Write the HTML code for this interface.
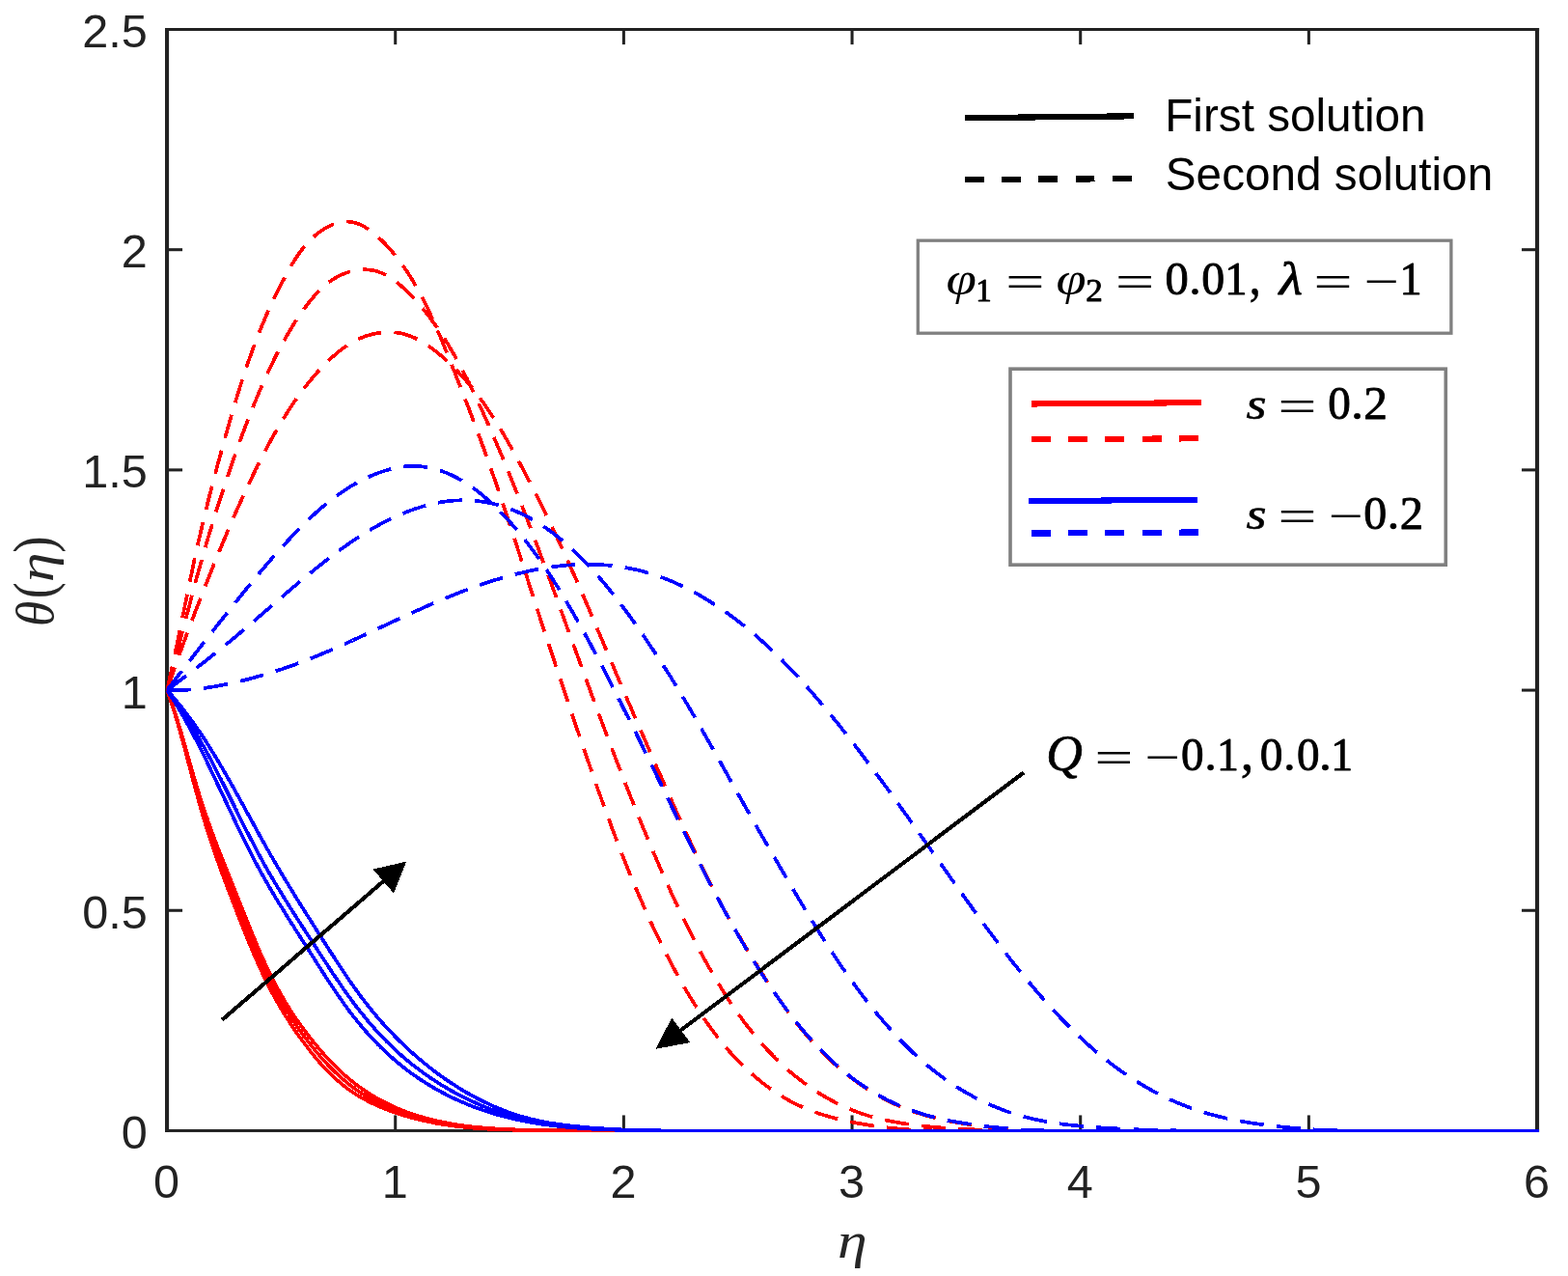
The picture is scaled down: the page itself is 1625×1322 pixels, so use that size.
<!DOCTYPE html>
<html lang="en"><head><meta charset="utf-8"><title>Temperature profiles</title>
<style>
html,body{margin:0;padding:0;background:#ffffff;}
body{width:1625px;height:1322px;overflow:hidden;}
svg{display:block;}
.c path{fill:none;stroke-width:3.7;stroke-linejoin:round;stroke-linecap:butt;}
.m{font-family:"Liberation Serif","DejaVu Serif",serif;}
.i{font-style:italic;}
.s{font-family:"Liberation Sans",sans-serif;}
</style></head><body>
<svg width="1625" height="1322" viewBox="0 0 1625 1322">
<rect x="0" y="0" width="1625" height="1322" fill="#ffffff"/>
<defs><clipPath id="ax"><rect x="172.6" y="30.5" width="1422.5" height="1142.5"/></clipPath></defs>
<g id="axes">
<rect x="171.00" y="29.00" width="4.10" height="1143.95" fill="#222222"/>
<rect x="1590.98" y="29.00" width="4.10" height="1143.95" fill="#222222"/>
<rect x="171.00" y="29.00" width="1424.08" height="3.00" fill="#222222"/>
<rect x="171.00" y="1169.95" width="1424.08" height="3.00" fill="#222222"/>
<rect x="408.19" y="1155.45" width="3.05" height="16.00" fill="#222222"/>
<rect x="408.19" y="30.50" width="3.05" height="15.60" fill="#222222"/>
<rect x="644.85" y="1155.45" width="3.05" height="16.00" fill="#222222"/>
<rect x="644.85" y="30.50" width="3.05" height="15.60" fill="#222222"/>
<rect x="881.52" y="1155.45" width="3.05" height="16.00" fill="#222222"/>
<rect x="881.52" y="30.50" width="3.05" height="15.60" fill="#222222"/>
<rect x="1118.18" y="1155.45" width="3.05" height="16.00" fill="#222222"/>
<rect x="1118.18" y="30.50" width="3.05" height="15.60" fill="#222222"/>
<rect x="1354.84" y="1155.45" width="3.05" height="16.00" fill="#222222"/>
<rect x="1354.84" y="30.50" width="3.05" height="15.60" fill="#222222"/>
<rect x="173.05" y="941.74" width="16.00" height="3.05" fill="#222222"/>
<rect x="1577.03" y="941.74" width="16.00" height="3.05" fill="#222222"/>
<rect x="173.05" y="713.55" width="16.00" height="3.05" fill="#222222"/>
<rect x="1577.03" y="713.55" width="16.00" height="3.05" fill="#222222"/>
<rect x="173.05" y="485.36" width="16.00" height="3.05" fill="#222222"/>
<rect x="1577.03" y="485.36" width="16.00" height="3.05" fill="#222222"/>
<rect x="173.05" y="257.17" width="16.00" height="3.05" fill="#222222"/>
<rect x="1577.03" y="257.17" width="16.00" height="3.05" fill="#222222"/>
</g>
<g font-family="'Liberation Sans', sans-serif" font-size="48.6" fill="#222222">
<text x="172.6" y="1241.3" text-anchor="middle">0</text>
<text x="409.2" y="1241.3" text-anchor="middle">1</text>
<text x="645.9" y="1241.3" text-anchor="middle">2</text>
<text x="882.5" y="1241.3" text-anchor="middle">3</text>
<text x="1119.2" y="1241.3" text-anchor="middle">4</text>
<text x="1355.9" y="1241.3" text-anchor="middle">5</text>
<text x="1592.5" y="1241.3" text-anchor="middle">6</text>
<text x="152.8" y="1189.9" text-anchor="end">0</text>
<text x="152.8" y="961.7" text-anchor="end">0.5</text>
<text x="152.8" y="733.5" text-anchor="end">1</text>
<text x="152.8" y="505.3" text-anchor="end">1.5</text>
<text x="152.8" y="277.1" text-anchor="end">2</text>
<text x="152.8" y="48.9" text-anchor="end">2.5</text>
</g>
<g class="c" clip-path="url(#ax)" shape-rendering="crispEdges">
<path d="M173.1 715.1L173.6 716.5L174.1 717.9L174.6 719.3L175.0 720.8L175.5 722.2L176.0 723.6L176.5 725.0L177.0 726.4L177.4 727.9L177.9 729.3L178.4 730.7L178.8 732.1L179.3 733.6L179.8 735.0L180.2 736.4L180.7 737.9L181.1 739.3L181.5 740.7L182.0 742.2L182.4 743.6L182.8 745.0L183.3 746.5L183.7 747.9L184.1 749.3L184.6 750.8L185.0 752.2L185.4 753.7L185.8 755.1L186.2 756.5L186.6 758.0L187.0 759.4L187.4 760.9L187.8 762.3L188.2 763.8L188.6 765.2L189.0 766.7L189.4 768.1L189.8 769.6L190.2 771.0L190.6 772.5L191.0 773.9L191.4 775.4L191.8 776.8L192.2 778.3L192.6 779.7L192.9 781.2L193.3 782.6L193.7 784.1L194.1 785.5L194.5 787.0L194.9 788.4L195.2 789.9L195.6 791.3L196.0 792.8L196.4 794.2L196.8 795.7L197.2 797.1L197.5 798.6L197.9 800.0L198.3 801.5L198.7 803.0L199.1 804.4L199.4 805.9L199.8 807.3L200.2 808.8L200.6 810.2L201.0 811.7L201.4 813.1L201.7 814.6L202.1 816.0L202.5 817.5L202.9 818.9L203.3 820.4L203.7 821.8L204.1 823.3L204.5 824.7L204.9 826.2L205.3 827.6L205.7 829.0L206.1 830.5L206.5 831.9L206.9 833.4L207.3 834.8L207.7 836.3L208.1 837.7L208.5 839.2L208.9 840.6L209.4 842.0L209.8 843.5L210.2 844.9L210.6 846.3L211.1 847.8L211.5 849.2L211.9 850.7L212.4 852.1L212.8 853.5L213.2 854.9L213.7 856.4L214.1 857.8L214.6 859.2L215.0 860.7L215.5 862.1L216.0 863.5L216.4 864.9L216.9 866.4L217.3 867.8L217.8 869.2L218.3 870.6L218.7 872.1L219.2 873.5L219.7 874.9L220.2 876.3L220.7 877.7L221.1 879.2L221.6 880.6L222.1 882.0L222.6 883.4L223.1 884.8L223.6 886.2L224.1 887.6L224.6 889.1L225.1 890.5L225.6 891.9L226.1 893.3L226.6 894.7L227.1 896.1L227.6 897.5L228.1 898.9L228.6 900.3L229.1 901.7L229.6 903.2L230.1 904.6L230.7 906.0L231.2 907.4L231.7 908.8L232.2 910.2L232.7 911.6L233.3 913.0L233.8 914.4L234.3 915.8L234.8 917.2L235.4 918.6L235.9 920.0L236.4 921.4L237.0 922.8L237.5 924.2L238.0 925.6L238.6 927.0L239.1 928.4L239.6 929.8L240.2 931.2L240.7 932.6L241.3 934.0L241.8 935.4L242.3 936.8L242.9 938.2L243.4 939.6L244.0 941.0L244.5 942.4L245.0 943.8L245.6 945.2L246.1 946.6L246.7 948.0L247.2 949.4L247.8 950.8L248.3 952.2L248.9 953.6L249.4 955.0L250.0 956.4L250.5 957.8L251.1 959.2L251.6 960.6L252.2 962.0L252.7 963.4L253.3 964.8L253.8 966.2L254.4 967.6L255.0 969.0L255.5 970.4L256.1 971.8L256.7 973.2L257.2 974.6L257.8 975.9L258.4 977.3L258.9 978.7L259.5 980.1L260.1 981.5L260.7 982.9L261.3 984.3L261.8 985.6L262.4 987.0L263.0 988.4L263.6 989.8L264.2 991.2L264.8 992.5L265.4 993.9L266.0 995.3L266.6 996.6L267.2 998.0L267.8 999.4L268.5 1000.8L269.1 1002.1L269.7 1003.5L270.3 1004.8L271.0 1006.2L271.6 1007.6L272.2 1008.9L272.9 1010.3L273.5 1011.6L274.2 1013.0L274.8 1014.3L275.5 1015.7L276.2 1017.0L276.8 1018.3L277.5 1019.7L278.2 1021.0L278.9 1022.4L279.5 1023.7L280.2 1025.0L280.9 1026.3L281.6 1027.7L282.3 1029.0L283.0 1030.3L283.7 1031.6L284.5 1032.9L285.2 1034.3L285.9 1035.6L286.6 1036.9L287.4 1038.2L288.1 1039.5L288.9 1040.8L289.6 1042.1L290.4 1043.4L291.1 1044.7L291.9 1045.9L292.7 1047.2L293.4 1048.5L294.2 1049.8L295.0 1051.1L295.8 1052.3L296.6 1053.6L297.4 1054.9L298.2 1056.1L299.0 1057.4L299.8 1058.7L300.6 1059.9L301.5 1061.2L302.3 1062.4L303.1 1063.7L304.0 1064.9L304.8 1066.2L305.6 1067.4L306.5 1068.6L307.3 1069.9L308.2 1071.1L309.1 1072.3L309.9 1073.6L310.8 1074.8L311.7 1076.0L312.6 1077.2L313.5 1078.4L314.4 1079.6L315.3 1080.8L316.2 1082.0L317.1 1083.2L318.0 1084.4L318.9 1085.6L319.8 1086.8L320.8 1088.0L321.7 1089.2L322.6 1090.4L323.6 1091.5L324.5 1092.7L325.5 1093.9L326.4 1095.0L327.4 1096.2L328.4 1097.3L329.4 1098.5L330.3 1099.6L331.3 1100.8L332.3 1101.9L333.3 1103.0L334.3 1104.1L335.4 1105.2L336.4 1106.3L337.4 1107.4L338.4 1108.5L339.5 1109.6L340.5 1110.6L341.6 1111.7L342.7 1112.8L343.7 1113.8L344.8 1114.8L345.9 1115.9L347.0 1116.9L348.1 1117.9L349.2 1118.9L350.3 1119.9L351.5 1120.8L352.6 1121.8L353.7 1122.8L354.9 1123.7L356.1 1124.6L357.2 1125.6L358.4 1126.5L359.6 1127.4L360.8 1128.3L362.0 1129.1L363.2 1130.0L364.4 1130.8L365.7 1131.7L366.9 1132.5L368.2 1133.3L369.4 1134.1L370.7 1134.9L372.0 1135.7L373.3 1136.4L374.6 1137.2L375.9 1137.9L377.2 1138.7L378.5 1139.4L379.8 1140.1L381.2 1140.8L382.5 1141.5L383.8 1142.1L385.2 1142.8L386.5 1143.4L387.9 1144.1L389.3 1144.7L390.6 1145.3L392.0 1145.9L393.4 1146.5L394.8 1147.1L396.2 1147.7L397.6 1148.3L399.0 1148.8L400.4 1149.4L401.8 1149.9L403.2 1150.5L404.6 1151.0L406.0 1151.5L407.5 1152.0L408.9 1152.5L410.3 1153.0L411.7 1153.5L413.2 1154.0L414.6 1154.4L416.0 1154.9L417.5 1155.3L418.9 1155.8L420.3 1156.2L421.8 1156.6L423.2 1157.0L424.7 1157.4L426.1 1157.8L427.6 1158.2L429.0 1158.6L430.5 1159.0L431.9 1159.4L433.4 1159.7L434.8 1160.1L436.3 1160.4L437.7 1160.8L439.2 1161.1L440.7 1161.4L442.1 1161.7L443.6 1162.0L445.1 1162.3L446.5 1162.6L448.0 1162.9L449.5 1163.2L450.9 1163.5L452.4 1163.8L453.9 1164.0L455.3 1164.3L456.8 1164.5L458.3 1164.8L459.8 1165.0L461.3 1165.2L462.7 1165.5L464.2 1165.7L465.7 1165.9L467.2 1166.1L468.7 1166.3L470.1 1166.5L471.6 1166.7L473.1 1166.9L474.6 1167.1L476.1 1167.2L477.6 1167.4L479.1 1167.6L480.6 1167.7L482.0 1167.9L483.5 1168.0L485.0 1168.2L486.5 1168.3L488.0 1168.4L489.5 1168.6L491.0 1168.7L492.5 1168.8L494.0 1168.9L495.5 1169.0L497.0 1169.1L498.5 1169.2L500.0 1169.3L501.5 1169.4L503.0 1169.5L504.5 1169.6L506.0 1169.7L507.5 1169.8L509.0 1169.9L510.5 1169.9L512.0 1170.0L513.5 1170.1L515.0 1170.1L516.5 1170.2L518.0 1170.2L519.5 1170.3L521.0 1170.4L522.5 1170.4L524.0 1170.5L525.5 1170.5L527.0 1170.5L528.5 1170.6L530.0 1170.6L531.5 1170.7L533.0 1170.7L534.5 1170.7L536.0 1170.8L537.5 1170.8L539.0 1170.8L540.5 1170.9L542.0 1170.9L543.5 1170.9L545.0 1171.0L546.5 1171.0L548.0 1171.0L549.5 1171.0L551.0 1171.1L552.5 1171.1L554.0 1171.1L555.5 1171.1L557.0 1171.1L558.5 1171.2L560.0 1171.2L561.5 1171.2L563.0 1171.2L564.5 1171.3L566.0 1171.3L567.5 1171.3L569.0 1171.3L570.5 1171.4L572.0 1171.4L573.5 1171.4L575.0 1171.4L1595.0 1171.5" stroke="#ff0000"/>
<path d="M173.1 715.1L173.6 716.5L174.1 717.9L174.6 719.3L175.1 720.7L175.6 722.1L176.1 723.5L176.6 725.0L177.1 726.4L177.6 727.8L178.0 729.2L178.5 730.6L179.0 732.0L179.5 733.5L179.9 734.9L180.4 736.3L180.8 737.7L181.3 739.2L181.7 740.6L182.2 742.0L182.6 743.5L183.1 744.9L183.5 746.3L184.0 747.8L184.4 749.2L184.8 750.6L185.3 752.1L185.7 753.5L186.1 754.9L186.5 756.4L187.0 757.8L187.4 759.3L187.8 760.7L188.2 762.1L188.6 763.6L189.0 765.0L189.4 766.5L189.9 767.9L190.3 769.4L190.7 770.8L191.1 772.3L191.5 773.7L191.9 775.2L192.3 776.6L192.7 778.1L193.1 779.5L193.5 781.0L193.9 782.4L194.3 783.8L194.7 785.3L195.1 786.7L195.5 788.2L195.9 789.6L196.3 791.1L196.7 792.5L197.1 794.0L197.5 795.4L197.9 796.9L198.3 798.3L198.7 799.8L199.1 801.2L199.5 802.7L199.9 804.1L200.3 805.6L200.7 807.0L201.1 808.5L201.5 809.9L201.9 811.4L202.3 812.8L202.7 814.3L203.1 815.7L203.5 817.1L203.9 818.6L204.3 820.0L204.8 821.5L205.2 822.9L205.6 824.4L206.0 825.8L206.4 827.2L206.9 828.7L207.3 830.1L207.7 831.5L208.2 833.0L208.6 834.4L209.1 835.9L209.5 837.3L209.9 838.7L210.4 840.1L210.8 841.6L211.3 843.0L211.8 844.4L212.2 845.9L212.7 847.3L213.1 848.7L213.6 850.1L214.1 851.5L214.6 853.0L215.0 854.4L215.5 855.8L216.0 857.2L216.5 858.6L216.9 860.1L217.4 861.5L217.9 862.9L218.4 864.3L218.9 865.7L219.4 867.1L219.9 868.6L220.4 870.0L220.9 871.4L221.4 872.8L221.9 874.2L222.4 875.6L222.9 877.0L223.4 878.4L223.9 879.8L224.4 881.2L224.9 882.6L225.5 884.1L226.0 885.5L226.5 886.9L227.0 888.3L227.5 889.7L228.1 891.1L228.6 892.5L229.1 893.9L229.6 895.3L230.2 896.7L230.7 898.1L231.2 899.5L231.8 900.9L232.3 902.3L232.8 903.7L233.4 905.1L233.9 906.5L234.4 907.9L235.0 909.3L235.5 910.7L236.1 912.1L236.6 913.5L237.1 914.9L237.7 916.3L238.2 917.7L238.8 919.1L239.3 920.5L239.9 921.9L240.4 923.3L240.9 924.7L241.5 926.1L242.0 927.5L242.6 928.9L243.1 930.3L243.7 931.7L244.2 933.1L244.8 934.5L245.3 935.9L245.9 937.2L246.4 938.6L247.0 940.0L247.5 941.4L248.1 942.8L248.6 944.2L249.2 945.6L249.8 947.0L250.3 948.4L250.9 949.8L251.4 951.2L252.0 952.6L252.5 954.0L253.1 955.4L253.6 956.8L254.2 958.2L254.7 959.6L255.3 961.0L255.9 962.4L256.4 963.8L257.0 965.2L257.5 966.6L258.1 968.0L258.7 969.4L259.2 970.8L259.8 972.2L260.4 973.5L261.0 974.9L261.5 976.3L262.1 977.7L262.7 979.1L263.3 980.5L263.9 981.9L264.4 983.3L265.0 984.6L265.6 986.0L266.2 987.4L266.8 988.8L267.4 990.1L268.0 991.5L268.6 992.9L269.2 994.3L269.8 995.6L270.5 997.0L271.1 998.4L271.7 999.7L272.3 1001.1L273.0 1002.5L273.6 1003.8L274.2 1005.2L274.9 1006.5L275.5 1007.9L276.2 1009.2L276.8 1010.6L277.5 1011.9L278.1 1013.3L278.8 1014.6L279.5 1016.0L280.1 1017.3L280.8 1018.6L281.5 1020.0L282.2 1021.3L282.9 1022.6L283.6 1023.9L284.3 1025.3L285.0 1026.6L285.7 1027.9L286.4 1029.2L287.2 1030.5L287.9 1031.8L288.6 1033.1L289.4 1034.4L290.1 1035.7L290.9 1037.0L291.6 1038.3L292.4 1039.6L293.2 1040.9L293.9 1042.2L294.7 1043.4L295.5 1044.7L296.3 1046.0L297.1 1047.3L297.9 1048.5L298.7 1049.8L299.5 1051.1L300.3 1052.3L301.1 1053.6L301.9 1054.8L302.7 1056.1L303.6 1057.3L304.4 1058.6L305.3 1059.8L306.1 1061.0L307.0 1062.3L307.8 1063.5L308.7 1064.7L309.5 1066.0L310.4 1067.2L311.3 1068.4L312.2 1069.6L313.0 1070.8L313.9 1072.0L314.8 1073.3L315.7 1074.5L316.6 1075.7L317.6 1076.8L318.5 1078.0L319.4 1079.2L320.3 1080.4L321.2 1081.6L322.2 1082.8L323.1 1084.0L324.1 1085.1L325.0 1086.3L326.0 1087.5L326.9 1088.6L327.9 1089.8L328.9 1090.9L329.8 1092.1L330.8 1093.2L331.8 1094.4L332.8 1095.5L333.8 1096.6L334.8 1097.7L335.8 1098.9L336.8 1100.0L337.8 1101.1L338.9 1102.2L339.9 1103.3L340.9 1104.4L342.0 1105.4L343.0 1106.5L344.1 1107.6L345.1 1108.6L346.2 1109.7L347.3 1110.7L348.4 1111.8L349.5 1112.8L350.6 1113.8L351.7 1114.8L352.8 1115.8L353.9 1116.8L355.0 1117.8L356.2 1118.8L357.3 1119.7L358.4 1120.7L359.6 1121.6L360.8 1122.6L361.9 1123.5L363.1 1124.4L364.3 1125.3L365.5 1126.2L366.7 1127.1L367.9 1128.0L369.1 1128.8L370.4 1129.7L371.6 1130.5L372.8 1131.4L374.1 1132.2L375.3 1133.0L376.6 1133.8L377.9 1134.6L379.2 1135.4L380.4 1136.1L381.7 1136.9L383.0 1137.6L384.3 1138.4L385.7 1139.1L387.0 1139.8L388.3 1140.5L389.6 1141.2L391.0 1141.9L392.3 1142.5L393.7 1143.2L395.0 1143.8L396.4 1144.5L397.7 1145.1L399.1 1145.7L400.5 1146.4L401.8 1147.0L403.2 1147.5L404.6 1148.1L406.0 1148.7L407.4 1149.3L408.8 1149.8L410.2 1150.4L411.6 1150.9L413.0 1151.4L414.4 1151.9L415.8 1152.5L417.3 1153.0L418.7 1153.4L420.1 1153.9L421.5 1154.4L423.0 1154.9L424.4 1155.3L425.8 1155.8L427.3 1156.2L428.7 1156.6L430.1 1157.1L431.6 1157.5L433.0 1157.9L434.5 1158.3L435.9 1158.7L437.4 1159.0L438.8 1159.4L440.3 1159.8L441.7 1160.1L443.2 1160.5L444.6 1160.8L446.1 1161.2L447.6 1161.5L449.0 1161.8L450.5 1162.1L452.0 1162.4L453.4 1162.7L454.9 1163.0L456.4 1163.3L457.9 1163.6L459.3 1163.8L460.8 1164.1L462.3 1164.4L463.8 1164.6L465.2 1164.8L466.7 1165.1L468.2 1165.3L469.7 1165.5L471.2 1165.8L472.6 1166.0L474.1 1166.2L475.6 1166.4L477.1 1166.6L478.6 1166.8L480.1 1166.9L481.6 1167.1L483.1 1167.3L484.6 1167.5L486.0 1167.6L487.5 1167.8L489.0 1167.9L490.5 1168.1L492.0 1168.2L493.5 1168.4L495.0 1168.5L496.5 1168.6L498.0 1168.7L499.5 1168.9L501.0 1169.0L502.5 1169.1L504.0 1169.2L505.5 1169.3L507.0 1169.4L508.5 1169.5L509.9 1169.6L511.4 1169.6L512.9 1169.7L514.4 1169.8L515.9 1169.9L517.4 1170.0L518.9 1170.0L520.4 1170.1L521.9 1170.2L523.4 1170.2L524.9 1170.3L526.4 1170.3L527.9 1170.4L529.4 1170.4L530.9 1170.5L532.4 1170.5L533.9 1170.6L535.4 1170.6L536.9 1170.6L538.4 1170.7L539.9 1170.7L541.4 1170.8L542.9 1170.8L544.4 1170.8L545.9 1170.8L547.4 1170.9L548.9 1170.9L550.4 1170.9L551.9 1170.9L553.4 1171.0L554.9 1171.0L556.4 1171.0L557.9 1171.0L559.4 1171.1L561.0 1171.1L562.5 1171.1L564.0 1171.1L565.5 1171.1L567.0 1171.2L568.5 1171.2L570.0 1171.2L571.5 1171.2L573.0 1171.2L574.5 1171.3L576.0 1171.3L577.4 1171.3L578.9 1171.3L580.4 1171.4L581.9 1171.4L583.4 1171.4L584.9 1171.4L585.0 1171.4L1595.0 1171.5" stroke="#ff0000" stroke-width="5.6"/>
<path d="M173.1 715.1L173.6 716.5L174.1 717.9L174.6 719.3L175.2 720.7L175.7 722.1L176.2 723.5L176.7 724.9L177.2 726.3L177.7 727.7L178.2 729.2L178.7 730.6L179.1 732.0L179.6 733.4L180.1 734.8L180.6 736.3L181.0 737.7L181.5 739.1L182.0 740.5L182.4 742.0L182.9 743.4L183.3 744.8L183.8 746.2L184.2 747.7L184.7 749.1L185.1 750.5L185.6 752.0L186.0 753.4L186.5 754.8L186.9 756.3L187.3 757.7L187.8 759.2L188.2 760.6L188.6 762.0L189.0 763.5L189.5 764.9L189.9 766.4L190.3 767.8L190.7 769.3L191.1 770.7L191.6 772.1L192.0 773.6L192.4 775.0L192.8 776.5L193.2 777.9L193.6 779.4L194.1 780.8L194.5 782.3L194.9 783.7L195.3 785.2L195.7 786.6L196.1 788.0L196.5 789.5L196.9 790.9L197.4 792.4L197.8 793.8L198.2 795.3L198.6 796.7L199.0 798.2L199.4 799.6L199.9 801.1L200.3 802.5L200.7 803.9L201.1 805.4L201.5 806.8L202.0 808.3L202.4 809.7L202.8 811.1L203.2 812.6L203.7 814.0L204.1 815.5L204.5 816.9L205.0 818.3L205.4 819.8L205.9 821.2L206.3 822.6L206.7 824.1L207.2 825.5L207.6 826.9L208.1 828.4L208.6 829.8L209.0 831.2L209.5 832.6L209.9 834.1L210.4 835.5L210.9 836.9L211.4 838.3L211.8 839.8L212.3 841.2L212.8 842.6L213.3 844.0L213.8 845.4L214.3 846.8L214.8 848.2L215.2 849.7L215.7 851.1L216.2 852.5L216.7 853.9L217.3 855.3L217.8 856.7L218.3 858.1L218.8 859.5L219.3 860.9L219.8 862.3L220.3 863.7L220.8 865.1L221.4 866.5L221.9 867.9L222.4 869.3L222.9 870.7L223.5 872.1L224.0 873.5L224.5 874.9L225.1 876.3L225.6 877.7L226.1 879.1L226.7 880.5L227.2 881.9L227.8 883.3L228.3 884.7L228.8 886.1L229.4 887.5L229.9 888.9L230.5 890.3L231.0 891.7L231.6 893.1L232.1 894.5L232.7 895.9L233.2 897.3L233.8 898.6L234.3 900.0L234.9 901.4L235.4 902.8L236.0 904.2L236.6 905.6L237.1 907.0L237.7 908.4L238.2 909.8L238.8 911.2L239.4 912.6L239.9 913.9L240.5 915.3L241.0 916.7L241.6 918.1L242.2 919.5L242.7 920.9L243.3 922.3L243.8 923.7L244.4 925.1L245.0 926.5L245.5 927.9L246.1 929.2L246.7 930.6L247.2 932.0L247.8 933.4L248.3 934.8L248.9 936.2L249.5 937.6L250.0 939.0L250.6 940.4L251.2 941.8L251.7 943.2L252.3 944.6L252.8 946.0L253.4 947.4L254.0 948.8L254.5 950.2L255.1 951.6L255.6 952.9L256.2 954.3L256.8 955.7L257.3 957.1L257.9 958.5L258.4 959.9L259.0 961.3L259.6 962.7L260.1 964.1L260.7 965.5L261.3 966.9L261.8 968.3L262.4 969.7L263.0 971.1L263.6 972.5L264.1 973.9L264.7 975.2L265.3 976.6L265.9 978.0L266.4 979.4L267.0 980.8L267.6 982.2L268.2 983.5L268.8 984.9L269.4 986.3L270.0 987.7L270.6 989.1L271.2 990.4L271.8 991.8L272.4 993.2L273.0 994.5L273.7 995.9L274.3 997.3L274.9 998.6L275.5 1000.0L276.2 1001.4L276.8 1002.7L277.5 1004.1L278.1 1005.4L278.7 1006.8L279.4 1008.1L280.1 1009.5L280.7 1010.8L281.4 1012.2L282.1 1013.5L282.7 1014.8L283.4 1016.2L284.1 1017.5L284.8 1018.8L285.5 1020.1L286.2 1021.5L286.9 1022.8L287.6 1024.1L288.3 1025.4L289.1 1026.7L289.8 1028.0L290.5 1029.3L291.3 1030.6L292.0 1031.9L292.8 1033.2L293.5 1034.5L294.3 1035.8L295.1 1037.1L295.8 1038.4L296.6 1039.7L297.4 1040.9L298.2 1042.2L299.0 1043.5L299.8 1044.7L300.6 1046.0L301.4 1047.3L302.2 1048.5L303.0 1049.8L303.9 1051.0L304.7 1052.3L305.5 1053.5L306.4 1054.7L307.2 1056.0L308.1 1057.2L308.9 1058.4L309.8 1059.7L310.7 1060.9L311.5 1062.1L312.4 1063.3L313.3 1064.5L314.2 1065.7L315.1 1066.9L316.0 1068.1L316.9 1069.3L317.8 1070.5L318.7 1071.7L319.6 1072.9L320.5 1074.1L321.5 1075.3L322.4 1076.5L323.3 1077.6L324.3 1078.8L325.2 1080.0L326.2 1081.1L327.1 1082.3L328.1 1083.4L329.0 1084.6L330.0 1085.7L331.0 1086.9L331.9 1088.0L332.9 1089.1L333.9 1090.3L334.9 1091.4L335.9 1092.5L336.9 1093.6L337.9 1094.7L338.9 1095.8L339.9 1096.9L341.0 1098.0L342.0 1099.1L343.0 1100.2L344.1 1101.3L345.1 1102.3L346.2 1103.4L347.2 1104.5L348.3 1105.5L349.4 1106.6L350.4 1107.6L351.5 1108.6L352.6 1109.7L353.7 1110.7L354.8 1111.7L355.9 1112.7L357.0 1113.7L358.1 1114.7L359.3 1115.7L360.4 1116.6L361.5 1117.6L362.7 1118.6L363.8 1119.5L365.0 1120.4L366.2 1121.4L367.4 1122.3L368.5 1123.2L369.7 1124.1L370.9 1125.0L372.1 1125.9L373.3 1126.8L374.6 1127.7L375.8 1128.5L377.0 1129.4L378.3 1130.2L379.5 1131.0L380.8 1131.9L382.0 1132.7L383.3 1133.5L384.6 1134.3L385.9 1135.0L387.2 1135.8L388.5 1136.6L389.8 1137.3L391.1 1138.1L392.4 1138.8L393.7 1139.5L395.0 1140.2L396.4 1141.0L397.7 1141.7L399.0 1142.3L400.4 1143.0L401.7 1143.7L403.1 1144.3L404.5 1145.0L405.8 1145.6L407.2 1146.3L408.6 1146.9L410.0 1147.5L411.3 1148.1L412.7 1148.7L414.1 1149.3L415.5 1149.8L416.9 1150.4L418.3 1150.9L419.7 1151.5L421.1 1152.0L422.5 1152.5L424.0 1153.1L425.4 1153.6L426.8 1154.1L428.2 1154.5L429.6 1155.0L431.1 1155.5L432.5 1155.9L433.9 1156.4L435.4 1156.8L436.8 1157.2L438.3 1157.7L439.7 1158.1L441.1 1158.5L442.6 1158.9L444.0 1159.2L445.5 1159.6L446.9 1160.0L448.4 1160.3L449.9 1160.7L451.3 1161.0L452.8 1161.4L454.2 1161.7L455.7 1162.0L457.2 1162.3L458.6 1162.6L460.1 1162.9L461.6 1163.2L463.0 1163.5L464.5 1163.8L466.0 1164.0L467.5 1164.3L468.9 1164.5L470.4 1164.8L471.9 1165.0L473.4 1165.2L474.9 1165.5L476.3 1165.7L477.8 1165.9L479.3 1166.1L480.8 1166.3L482.3 1166.5L483.8 1166.7L485.3 1166.9L486.7 1167.1L488.2 1167.2L489.7 1167.4L491.2 1167.6L492.7 1167.7L494.2 1167.9L495.7 1168.0L497.2 1168.2L498.7 1168.3L500.2 1168.4L501.7 1168.6L503.2 1168.7L504.7 1168.8L506.1 1168.9L507.6 1169.0L509.1 1169.1L510.6 1169.2L512.1 1169.3L513.6 1169.4L515.1 1169.5L516.6 1169.6L518.1 1169.7L519.6 1169.8L521.1 1169.8L522.6 1169.9L524.1 1170.0L525.6 1170.0L527.1 1170.1L528.6 1170.2L530.1 1170.2L531.6 1170.3L533.1 1170.3L534.6 1170.4L536.1 1170.4L537.6 1170.5L539.1 1170.5L540.6 1170.6L542.1 1170.6L543.6 1170.6L545.1 1170.7L546.6 1170.7L548.1 1170.7L549.6 1170.8L551.1 1170.8L552.6 1170.8L554.1 1170.9L555.6 1170.9L557.1 1170.9L558.6 1170.9L560.1 1170.9L561.6 1171.0L563.1 1171.0L564.6 1171.0L566.1 1171.0L567.6 1171.1L569.1 1171.1L570.6 1171.1L572.1 1171.1L573.6 1171.1L575.1 1171.1L576.6 1171.2L578.1 1171.2L579.6 1171.2L581.1 1171.2L582.6 1171.2L584.1 1171.3L585.6 1171.3L587.1 1171.3L588.6 1171.3L590.1 1171.4L591.6 1171.4L593.1 1171.4L594.6 1171.4L595.0 1171.5L1595.0 1171.5" stroke="#ff0000"/>
<path d="M173.1 715.1L173.4 713.6L173.7 712.2L174.1 710.7L174.4 709.3L174.7 707.8L175.0 706.4L175.4 704.9L175.7 703.4L176.0 702.0L176.4 700.5L176.7 699.1L177.0 697.6L177.3 696.1L177.6 694.7L178.0 693.2L178.3 691.7L178.6 690.3L178.9 688.8L179.2 687.3L179.5 685.9L179.9 684.4L180.2 683.0L180.5 681.5L180.8 680.0L181.1 678.6L181.4 677.1L181.7 675.6L182.0 674.2L182.3 672.7L182.6 671.2L182.9 669.8L183.3 668.3L183.6 666.8L183.9 665.3L184.2 663.9L184.5 662.4L184.8 660.9L185.1 659.5L185.4 658.0L185.7 656.5L186.0 655.1L186.3 653.6L186.6 652.1L186.9 650.6L187.2 649.2L187.5 647.7L187.8 646.2L188.1 644.8L188.4 643.3L188.7 641.8L189.0 640.3L189.3 638.9L189.6 637.4L189.9 635.9L190.2 634.5L190.5 633.0L190.8 631.5L191.1 630.0L191.4 628.6L191.7 627.1L192.0 625.6L192.3 624.2L192.6 622.7L192.9 621.2L193.2 619.7L193.5 618.3L193.8 616.8L194.1 615.3L194.4 613.9L194.7 612.4L195.0 610.9L195.3 609.4L195.6 608.0L195.9 606.5L196.2 605.0L196.5 603.6L196.8 602.1L197.1 600.6L197.4 599.1L197.7 597.7L198.0 596.2L198.4 594.7L198.7 593.3L199.0 591.8L199.3 590.3L199.6 588.9L199.9 587.4L200.2 585.9L200.5 584.5L200.9 583.0L201.2 581.5L201.5 580.0L201.8 578.6L202.1 577.1L202.4 575.6L202.8 574.2L203.1 572.7L203.4 571.3L203.7 569.8L204.1 568.3L204.4 566.9L204.7 565.4L205.1 563.9L205.4 562.5L205.7 561.0L206.1 559.5L206.4 558.1L206.7 556.6L207.1 555.2L207.4 553.7L207.7 552.2L208.1 550.8L208.4 549.3L208.8 547.9L209.1 546.4L209.5 544.9L209.8 543.5L210.2 542.0L210.5 540.6L210.9 539.1L211.2 537.7L211.6 536.2L211.9 534.7L212.3 533.3L212.6 531.8L213.0 530.4L213.3 528.9L213.7 527.5L214.1 526.0L214.4 524.6L214.8 523.1L215.1 521.6L215.5 520.2L215.9 518.7L216.2 517.3L216.6 515.8L217.0 514.4L217.3 512.9L217.7 511.5L218.1 510.0L218.5 508.6L218.8 507.1L219.2 505.7L219.6 504.2L220.0 502.8L220.3 501.3L220.7 499.9L221.1 498.4L221.5 497.0L221.9 495.5L222.2 494.1L222.6 492.6L223.0 491.2L223.4 489.7L223.8 488.3L224.2 486.8L224.5 485.4L224.9 483.9L225.3 482.5L225.7 481.0L226.1 479.6L226.5 478.1L226.9 476.7L227.3 475.2L227.7 473.8L228.1 472.3L228.5 470.9L228.9 469.5L229.2 468.0L229.6 466.6L230.0 465.1L230.4 463.7L230.8 462.2L231.2 460.8L231.6 459.3L232.0 457.9L232.5 456.4L232.9 455.0L233.3 453.6L233.7 452.1L234.1 450.7L234.5 449.2L234.9 447.8L235.3 446.3L235.7 444.9L236.1 443.4L236.5 442.0L236.9 440.5L237.3 439.1L237.8 437.7L238.2 436.2L238.6 434.8L239.0 433.3L239.4 431.9L239.8 430.4L240.3 429.0L240.7 427.6L241.1 426.1L241.5 424.7L241.9 423.2L242.4 421.8L242.8 420.4L243.2 418.9L243.7 417.5L244.1 416.0L244.5 414.6L245.0 413.2L245.4 411.7L245.8 410.3L246.3 408.9L246.7 407.4L247.2 406.0L247.6 404.6L248.0 403.1L248.5 401.7L248.9 400.3L249.4 398.8L249.8 397.4L250.3 396.0L250.8 394.5L251.2 393.1L251.7 391.7L252.1 390.3L252.6 388.8L253.1 387.4L253.6 386.0L254.0 384.6L254.5 383.1L255.0 381.7L255.5 380.3L255.9 378.9L256.4 377.5L256.9 376.0L257.4 374.6L257.9 373.2L258.4 371.8L258.9 370.4L259.4 369.0L259.9 367.5L260.4 366.1L260.9 364.7L261.4 363.3L261.9 361.9L262.5 360.5L263.0 359.1L263.5 357.7L264.0 356.3L264.6 354.9L265.1 353.5L265.6 352.1L266.2 350.7L266.7 349.3L267.2 347.9L267.8 346.5L268.3 345.1L268.9 343.7L269.5 342.3L270.0 340.9L270.6 339.6L271.1 338.2L271.7 336.8L272.3 335.4L272.9 334.0L273.5 332.6L274.0 331.3L274.6 329.9L275.2 328.5L275.8 327.1L276.4 325.8L277.0 324.4L277.6 323.0L278.2 321.7L278.8 320.3L279.5 318.9L280.1 317.6L280.7 316.2L281.3 314.8L282.0 313.5L282.6 312.1L283.3 310.8L283.9 309.4L284.5 308.1L285.2 306.7L285.9 305.4L286.5 304.0L287.2 302.7L287.8 301.3L288.5 300.0L289.2 298.6L289.9 297.3L290.6 296.0L291.3 294.6L291.9 293.3L292.6 292.0L293.3 290.6L294.1 289.3L294.8 288.0L295.5 286.7L296.2 285.3L296.9 284.0L297.7 282.7L298.4 281.4L299.1 280.1L299.9 278.8L300.6 277.5L301.4 276.2L302.1 274.9L302.9 273.6L303.7 272.3L304.5 271.0L305.3 269.7L306.1 268.4L306.9 267.2L307.7 265.9L308.5 264.7L309.4 263.5L310.2 262.2L311.1 261.0L312.0 259.8L312.9 258.6L313.8 257.4L314.8 256.3L315.7 255.1L316.7 254.0L317.6 252.8L318.6 251.7L319.7 250.6L320.7 249.6L321.7 248.5L322.8 247.4L323.9 246.4L325.0 245.4L326.1 244.4L327.3 243.4L328.5 242.5L329.7 241.6L330.9 240.6L332.1 239.7L333.4 238.9L334.7 238.0L336.0 237.2L337.3 236.4L338.7 235.7L340.0 235.0L341.4 234.3L342.8 233.6L344.2 233.0L345.6 232.5L347.0 231.9L348.4 231.5L349.8 231.1L351.3 230.7L352.7 230.4L354.1 230.1L355.6 229.9L357.0 229.7L358.4 229.6L359.8 229.6L361.3 229.7L362.7 229.8L364.1 229.9L365.5 230.2L366.8 230.5L368.2 230.8L369.6 231.3L370.9 231.7L372.3 232.3L373.6 232.9L374.9 233.5L376.3 234.2L377.6 234.9L378.8 235.7L380.1 236.5L381.4 237.3L382.7 238.2L383.9 239.1L385.1 240.0L386.4 241.0L387.6 242.0L388.8 243.0L390.0 244.0L391.1 245.0L392.3 246.1L393.4 247.1L394.6 248.2L395.7 249.3L396.8 250.4L397.9 251.5L399.0 252.6L400.0 253.7L401.1 254.8L402.1 255.9L403.1 257.0L404.2 258.2L405.2 259.3L406.2 260.4L407.1 261.6L408.1 262.8L409.1 263.9L410.0 265.1L411.0 266.2L411.9 267.4L412.8 268.6L413.7 269.8L414.6 271.0L415.5 272.2L416.4 273.4L417.2 274.6L418.1 275.8L419.0 277.0L419.8 278.3L420.6 279.5L421.5 280.7L422.3 282.0L423.1 283.2L423.9 284.5L424.7 285.7L425.5 287.0L426.2 288.2L427.0 289.5L427.8 290.8L428.5 292.1L429.3 293.3L430.0 294.6L430.8 295.9L431.5 297.2L432.3 298.5L433.0 299.8L433.7 301.1L434.4 302.4L435.1 303.7L435.8 305.0L436.5 306.3L437.2 307.7L437.9 309.0L438.6 310.3L439.2 311.7L439.9 313.0L440.6 314.3L441.2 315.7L441.9 317.0L442.6 318.4L443.2 319.7L443.9 321.1L444.5 322.4L445.1 323.8L445.8 325.1L446.4 326.5L447.0 327.8L447.7 329.2L448.3 330.6L448.9 331.9L449.5 333.3L450.1 334.7L450.7 336.1L451.3 337.4L451.9 338.8L452.5 340.2L453.1 341.6L453.7 343.0L454.3 344.4L454.9 345.7L455.5 347.1L456.1 348.5L456.7 349.9L457.2 351.3L457.8 352.7L458.4 354.1L459.0 355.5L459.5 356.9L460.1 358.3L460.7 359.7L461.2 361.0L461.8 362.4L462.4 363.8L462.9 365.2L463.5 366.6L464.1 368.0L464.6 369.4L465.2 370.8L465.8 372.2L466.3 373.6L466.9 375.0L467.5 376.4L468.0 377.8L468.6 379.2L469.1 380.6L469.7 382.0L470.2 383.4L470.8 384.8L471.4 386.2L471.9 387.6L472.5 389.0L473.0 390.4L473.6 391.8L474.1 393.2L474.7 394.6L475.2 396.0L475.8 397.4L476.3 398.8L476.9 400.2L477.4 401.6L478.0 403.0L478.5 404.4L479.1 405.8L479.6 407.2L480.1 408.5L480.7 409.9L481.2 411.3L481.8 412.7L482.3 414.1L482.9 415.5L483.4 416.9L483.9 418.3L484.5 419.7L485.0 421.1L485.5 422.5L486.1 423.9L486.6 425.3L487.1 426.7L487.7 428.1L488.2 429.5L488.7 430.9L489.3 432.4L489.8 433.8L490.3 435.2L490.9 436.6L491.4 438.0L491.9 439.4L492.4 440.8L493.0 442.2L493.5 443.6L494.0 445.0L494.5 446.4L495.1 447.8L495.6 449.2L496.1 450.6L496.6 452.0L497.1 453.4L497.7 454.8L498.2 456.2L498.7 457.6L499.2 459.0L499.7 460.4L500.2 461.8L500.8 463.2L501.3 464.7L501.8 466.1L502.3 467.5L502.8 468.9L503.3 470.3L503.8 471.7L504.3 473.1L504.8 474.5L505.3 475.9L505.8 477.3L506.3 478.7L506.8 480.2L507.3 481.6L507.8 483.0L508.3 484.4L508.8 485.8L509.3 487.2L509.8 488.6L510.3 490.1L510.8 491.5L511.3 492.9L511.8 494.3L512.3 495.7L512.8 497.1L513.3 498.5L513.8 500.0L514.3 501.4L514.7 502.8L515.2 504.2L515.7 505.6L516.2 507.0L516.7 508.5L517.2 509.9L517.7 511.3L518.1 512.7L518.6 514.1L519.1 515.6L519.6 517.0L520.1 518.4L520.5 519.8L521.0 521.3L521.5 522.7L522.0 524.1L522.4 525.5L522.9 526.9L523.4 528.4L523.9 529.8L524.3 531.2L524.8 532.6L525.3 534.1L525.8 535.5L526.2 536.9L526.7 538.3L527.2 539.8L527.6 541.2L528.1 542.6L528.6 544.0L529.0 545.5L529.5 546.9L530.0 548.3L530.5 549.7L530.9 551.2L531.4 552.6L531.8 554.0L532.3 555.4L532.8 556.9L533.2 558.3L533.7 559.7L534.2 561.2L534.6 562.6L535.1 564.0L535.6 565.4L536.0 566.9L536.5 568.3L536.9 569.7L537.4 571.2L537.9 572.6L538.3 574.0L538.8 575.4L539.3 576.9L539.7 578.3L540.2 579.7L540.6 581.2L541.1 582.6L541.6 584.0L542.0 585.4L542.5 586.9L542.9 588.3L543.4 589.7L543.9 591.2L544.3 592.6L544.8 594.0L545.2 595.4L545.7 596.9L546.2 598.3L546.6 599.7L547.1 601.2L547.5 602.6L548.0 604.0L548.4 605.4L548.9 606.9L549.4 608.3L549.8 609.7L550.3 611.2L550.7 612.6L551.2 614.0L551.7 615.5L552.1 616.9L552.6 618.3L553.0 619.7L553.5 621.2L554.0 622.6L554.4 624.0L554.9 625.4L555.4 626.9L555.8 628.3L556.3 629.7L556.7 631.2L557.2 632.6L557.7 634.0L558.1 635.4L558.6 636.9L559.1 638.3L559.5 639.7L560.0 641.1L560.4 642.6L560.9 644.0L561.4 645.4L561.8 646.9L562.3 648.3L562.8 649.7L563.2 651.1L563.7 652.6L564.2 654.0L564.6 655.4L565.1 656.8L565.6 658.3L566.0 659.7L566.5 661.1L567.0 662.5L567.4 664.0L567.9 665.4L568.4 666.8L568.9 668.2L569.3 669.7L569.8 671.1L570.3 672.5L570.7 673.9L571.2 675.3L571.7 676.8L572.1 678.2L572.6 679.6L573.1 681.0L573.6 682.5L574.0 683.9L574.5 685.3L575.0 686.7L575.4 688.2L575.9 689.6L576.4 691.0L576.9 692.4L577.3 693.8L577.8 695.3L578.3 696.7L578.8 698.1L579.2 699.5L579.7 701.0L580.2 702.4L580.7 703.8L581.1 705.2L581.6 706.6L582.1 708.1L582.6 709.5L583.0 710.9L583.5 712.3L584.0 713.8L584.5 715.2L584.9 716.6L585.4 718.0L585.9 719.4L586.4 720.9L586.9 722.3L587.3 723.7L587.8 725.1L588.3 726.5L588.8 728.0L589.2 729.4L589.7 730.8L590.2 732.2L590.7 733.6L591.2 735.1L591.6 736.5L592.1 737.9L592.6 739.3L593.1 740.8L593.6 742.2L594.1 743.6L594.5 745.0L595.0 746.4L595.5 747.9L596.0 749.3L596.5 750.7L597.0 752.1L597.4 753.5L597.9 755.0L598.4 756.4L598.9 757.8L599.4 759.2L599.9 760.6L600.3 762.0L600.8 763.5L601.3 764.9L601.8 766.3L602.3 767.7L602.8 769.1L603.3 770.6L603.7 772.0L604.2 773.4L604.7 774.8L605.2 776.2L605.7 777.7L606.2 779.1L606.7 780.5L607.2 781.9L607.7 783.3L608.1 784.8L608.6 786.2L609.1 787.6L609.6 789.0L610.1 790.4L610.6 791.9L611.1 793.3L611.6 794.7L612.1 796.1L612.6 797.5L613.1 798.9L613.6 800.4L614.1 801.8L614.6 803.2L615.0 804.6L615.5 806.0L616.0 807.4L616.5 808.9L617.0 810.3L617.5 811.7L618.0 813.1L618.5 814.5L619.0 815.9L619.5 817.4L620.0 818.8L620.5 820.2L621.0 821.6L621.5 823.0L622.1 824.4L622.6 825.8L623.1 827.3L623.6 828.7L624.1 830.1L624.6 831.5L625.1 832.9L625.6 834.3L626.1 835.7L626.6 837.1L627.1 838.5L627.7 840.0L628.2 841.4L628.7 842.8L629.2 844.2L629.7 845.6L630.2 847.0L630.8 848.4L631.3 849.8L631.8 851.2L632.3 852.6L632.8 854.0L633.4 855.4L633.9 856.9L634.4 858.3L634.9 859.7L635.5 861.1L636.0 862.5L636.5 863.9L637.1 865.3L637.6 866.7L638.1 868.1L638.7 869.5L639.2 870.9L639.7 872.3L640.3 873.7L640.8 875.1L641.3 876.5L641.9 877.9L642.4 879.3L643.0 880.7L643.5 882.1L644.1 883.5L644.6 884.9L645.1 886.3L645.7 887.7L646.2 889.1L646.8 890.4L647.4 891.8L647.9 893.2L648.5 894.6L649.0 896.0L649.6 897.4L650.1 898.8L650.7 900.2L651.3 901.6L651.8 903.0L652.4 904.4L653.0 905.7L653.5 907.1L654.1 908.5L654.7 909.9L655.2 911.3L655.8 912.7L656.4 914.1L657.0 915.4L657.6 916.8L658.1 918.2L658.7 919.6L659.3 921.0L659.9 922.3L660.5 923.7L661.1 925.1L661.6 926.5L662.2 927.8L662.8 929.2L663.4 930.6L664.0 932.0L664.6 933.3L665.2 934.7L665.8 936.1L666.4 937.5L667.0 938.8L667.6 940.2L668.3 941.6L668.9 942.9L669.5 944.3L670.1 945.7L670.7 947.0L671.3 948.4L671.9 949.8L672.6 951.1L673.2 952.5L673.8 953.9L674.4 955.2L675.1 956.6L675.7 957.9L676.3 959.3L677.0 960.6L677.6 962.0L678.3 963.4L678.9 964.7L679.5 966.1L680.2 967.4L680.8 968.8L681.5 970.1L682.1 971.5L682.8 972.8L683.5 974.2L684.1 975.5L684.8 976.9L685.4 978.2L686.1 979.6L686.8 980.9L687.4 982.3L688.1 983.6L688.8 984.9L689.5 986.3L690.1 987.6L690.8 989.0L691.5 990.3L692.2 991.6L692.9 993.0L693.6 994.3L694.3 995.6L694.9 997.0L695.6 998.3L696.3 999.6L697.0 1000.9L697.8 1002.3L698.5 1003.6L699.2 1004.9L699.9 1006.2L700.6 1007.6L701.3 1008.9L702.0 1010.2L702.8 1011.5L703.5 1012.8L704.2 1014.1L705.0 1015.5L705.7 1016.8L706.4 1018.1L707.2 1019.4L707.9 1020.7L708.7 1022.0L709.4 1023.3L710.2 1024.6L711.0 1025.9L711.7 1027.2L712.5 1028.5L713.3 1029.7L714.0 1031.0L714.8 1032.3L715.6 1033.6L716.4 1034.9L717.2 1036.1L717.9 1037.4L718.7 1038.7L719.5 1040.0L720.3 1041.2L721.1 1042.5L722.0 1043.8L722.8 1045.0L723.6 1046.3L724.4 1047.5L725.2 1048.8L726.1 1050.0L726.9 1051.3L727.7 1052.5L728.6 1053.8L729.4 1055.0L730.3 1056.2L731.1 1057.5L732.0 1058.7L732.8 1059.9L733.7 1061.1L734.6 1062.3L735.4 1063.6L736.3 1064.8L737.2 1066.0L738.1 1067.2L739.0 1068.4L739.9 1069.6L740.8 1070.8L741.7 1072.0L742.6 1073.1L743.5 1074.3L744.5 1075.5L745.4 1076.7L746.3 1077.8L747.3 1079.0L748.2 1080.2L749.1 1081.3L750.1 1082.5L751.1 1083.6L752.0 1084.8L753.0 1085.9L754.0 1087.0L754.9 1088.2L755.9 1089.3L756.9 1090.4L757.9 1091.5L758.9 1092.6L759.9 1093.7L761.0 1094.8L762.0 1095.9L763.0 1097.0L764.0 1098.1L765.1 1099.2L766.1 1100.3L767.2 1101.3L768.2 1102.4L769.3 1103.4L770.4 1104.5L771.5 1105.5L772.5 1106.6L773.6 1107.6L774.7 1108.6L775.8 1109.6L776.9 1110.7L778.1 1111.7L779.2 1112.7L780.3 1113.7L781.5 1114.7L782.6 1115.6L783.8 1116.6L784.9 1117.6L786.1 1118.5L787.2 1119.5L788.4 1120.4L789.6 1121.4L790.8 1122.3L792.0 1123.2L793.2 1124.1L794.4 1125.0L795.6 1125.9L796.8 1126.8L798.1 1127.7L799.3 1128.6L800.5 1129.4L801.8 1130.3L803.0 1131.1L804.3 1132.0L805.5 1132.8L806.8 1133.6L808.1 1134.4L809.3 1135.2L810.6 1136.0L811.9 1136.8L813.2 1137.6L814.5 1138.3L815.8 1139.1L817.1 1139.8L818.4 1140.5L819.7 1141.2L821.1 1141.9L822.4 1142.6L823.7 1143.3L825.1 1144.0L826.4 1144.6L827.8 1145.3L829.1 1145.9L830.5 1146.5L831.8 1147.2L833.2 1147.8L834.6 1148.3L836.0 1148.9L837.3 1149.5L838.7 1150.0L840.1 1150.6L841.5 1151.1L842.9 1151.6L844.3 1152.1L845.7 1152.6L847.1 1153.1L848.5 1153.6L849.9 1154.1L851.4 1154.5L852.8 1155.0L854.2 1155.4L855.6 1155.9L857.1 1156.3L858.5 1156.7L860.0 1157.1L861.4 1157.5L862.8 1157.9L864.3 1158.3L865.7 1158.7L867.2 1159.0L868.6 1159.4L870.1 1159.8L871.5 1160.1L873.0 1160.4L874.5 1160.8L875.9 1161.1L877.4 1161.4L878.9 1161.7L880.3 1162.0L881.8 1162.3L883.3 1162.6L884.7 1162.9L886.2 1163.2L887.7 1163.5L889.2 1163.8L890.6 1164.0L892.1 1164.3L893.6 1164.5L895.1 1164.8L896.6 1165.0L898.0 1165.3L899.5 1165.5L901.0 1165.8L902.5 1166.0L904.0 1166.2L905.5 1166.4L906.9 1166.6L908.4 1166.9L909.9 1167.1L911.4 1167.3L912.9 1167.5L914.4 1167.7L915.9 1167.8L917.3 1168.0L918.8 1168.2L920.3 1168.4L921.8 1168.5L923.3 1168.7L924.8 1168.9L926.3 1169.0L927.8 1169.2L929.3 1169.3L930.8 1169.4L932.3 1169.6L933.8 1169.7L935.3 1169.8L936.8 1169.9L938.3 1170.1L939.8 1170.2L941.3 1170.3L942.7 1170.4L944.2 1170.5L945.7 1170.6L947.2 1170.7L948.7 1170.7L950.2 1170.8L951.7 1170.9L953.2 1171.0L954.7 1171.0L956.2 1171.1L957.7 1171.1L959.3 1171.2L960.8 1171.2L962.3 1171.3L963.8 1171.3L965.3 1171.3L966.8 1171.4L968.3 1171.4L969.8 1171.4L971.3 1171.4L972.8 1171.4L974.3 1171.4L975.0 1171.5L1595.0 1171.5" stroke="#ff0000" stroke-dasharray="25 13.3"/>
<path d="M173.1 715.1L173.4 713.7L173.8 712.2L174.2 710.8L174.6 709.3L175.0 707.9L175.4 706.4L175.8 705.0L176.2 703.5L176.6 702.1L177.0 700.6L177.4 699.2L177.8 697.7L178.1 696.3L178.5 694.8L178.9 693.4L179.3 691.9L179.7 690.5L180.1 689.0L180.5 687.6L180.8 686.1L181.2 684.7L181.6 683.2L182.0 681.8L182.4 680.3L182.7 678.9L183.1 677.4L183.5 676.0L183.9 674.5L184.3 673.1L184.6 671.6L185.0 670.2L185.4 668.7L185.8 667.3L186.2 665.8L186.5 664.4L186.9 662.9L187.3 661.5L187.7 660.0L188.0 658.5L188.4 657.1L188.8 655.6L189.2 654.2L189.6 652.7L189.9 651.3L190.3 649.8L190.7 648.4L191.1 646.9L191.4 645.5L191.8 644.0L192.2 642.6L192.6 641.1L193.0 639.7L193.3 638.2L193.7 636.8L194.1 635.3L194.5 633.9L194.9 632.4L195.2 631.0L195.6 629.5L196.0 628.1L196.4 626.6L196.8 625.2L197.1 623.7L197.5 622.3L197.9 620.8L198.3 619.4L198.7 617.9L199.1 616.5L199.4 615.0L199.8 613.6L200.2 612.1L200.6 610.7L201.0 609.2L201.4 607.8L201.8 606.3L202.2 604.9L202.6 603.4L202.9 602.0L203.3 600.5L203.7 599.1L204.1 597.6L204.5 596.2L204.9 594.7L205.3 593.3L205.7 591.8L206.1 590.4L206.5 589.0L206.9 587.5L207.3 586.1L207.7 584.6L208.1 583.2L208.5 581.7L209.0 580.3L209.4 578.8L209.8 577.4L210.2 576.0L210.6 574.5L211.0 573.1L211.4 571.6L211.8 570.2L212.3 568.8L212.7 567.3L213.1 565.9L213.5 564.4L213.9 563.0L214.4 561.6L214.8 560.1L215.2 558.7L215.6 557.2L216.1 555.8L216.5 554.4L216.9 552.9L217.4 551.5L217.8 550.1L218.2 548.6L218.7 547.2L219.1 545.8L219.5 544.3L220.0 542.9L220.4 541.5L220.9 540.0L221.3 538.6L221.7 537.2L222.2 535.7L222.6 534.3L223.1 532.9L223.5 531.4L224.0 530.0L224.4 528.6L224.9 527.1L225.3 525.7L225.8 524.3L226.2 522.9L226.7 521.4L227.2 520.0L227.6 518.6L228.1 517.2L228.5 515.7L229.0 514.3L229.5 512.9L229.9 511.4L230.4 510.0L230.9 508.6L231.3 507.2L231.8 505.7L232.3 504.3L232.7 502.9L233.2 501.5L233.7 500.1L234.2 498.6L234.6 497.2L235.1 495.8L235.6 494.4L236.1 492.9L236.6 491.5L237.0 490.1L237.5 488.7L238.0 487.3L238.5 485.8L239.0 484.4L239.5 483.0L240.0 481.6L240.5 480.2L240.9 478.8L241.4 477.3L241.9 475.9L242.4 474.5L242.9 473.1L243.4 471.7L243.9 470.3L244.4 468.8L244.9 467.4L245.4 466.0L245.9 464.6L246.4 463.2L247.0 461.8L247.5 460.4L248.0 458.9L248.5 457.5L249.0 456.1L249.5 454.7L250.0 453.3L250.5 451.9L251.1 450.5L251.6 449.1L252.1 447.7L252.6 446.3L253.2 444.9L253.7 443.5L254.2 442.1L254.8 440.6L255.3 439.2L255.8 437.8L256.4 436.4L256.9 435.0L257.4 433.6L258.0 432.2L258.5 430.8L259.1 429.4L259.6 428.0L260.2 426.7L260.7 425.3L261.3 423.9L261.9 422.5L262.4 421.1L263.0 419.7L263.5 418.3L264.1 416.9L264.7 415.5L265.3 414.1L265.8 412.8L266.4 411.4L267.0 410.0L267.6 408.6L268.2 407.2L268.7 405.8L269.3 404.5L269.9 403.1L270.5 401.7L271.1 400.3L271.7 399.0L272.3 397.6L272.9 396.2L273.6 394.8L274.2 393.5L274.8 392.1L275.4 390.7L276.0 389.4L276.7 388.0L277.3 386.7L277.9 385.3L278.6 383.9L279.2 382.6L279.8 381.2L280.5 379.9L281.1 378.5L281.8 377.2L282.4 375.8L283.1 374.5L283.8 373.1L284.4 371.8L285.1 370.4L285.8 369.1L286.4 367.8L287.1 366.4L287.8 365.1L288.5 363.8L289.2 362.4L289.9 361.1L290.6 359.8L291.3 358.5L292.0 357.1L292.7 355.8L293.5 354.5L294.2 353.2L294.9 351.9L295.7 350.6L296.4 349.3L297.1 348.0L297.9 346.7L298.7 345.4L299.4 344.1L300.2 342.8L301.0 341.5L301.7 340.2L302.5 339.0L303.3 337.7L304.1 336.4L304.9 335.2L305.7 333.9L306.5 332.6L307.4 331.4L308.2 330.1L309.0 328.9L309.8 327.6L310.7 326.4L311.5 325.2L312.4 323.9L313.3 322.7L314.1 321.5L315.0 320.3L315.9 319.0L316.8 317.8L317.7 316.6L318.6 315.4L319.5 314.2L320.4 313.0L321.4 311.9L322.3 310.7L323.3 309.5L324.2 308.4L325.2 307.2L326.2 306.1L327.2 305.0L328.2 303.9L329.2 302.8L330.3 301.7L331.3 300.7L332.4 299.6L333.4 298.6L334.5 297.6L335.6 296.6L336.8 295.6L337.9 294.7L339.1 293.8L340.2 292.8L341.4 292.0L342.6 291.1L343.9 290.3L345.1 289.4L346.4 288.6L347.7 287.9L349.0 287.1L350.3 286.4L351.7 285.8L353.0 285.1L354.4 284.5L355.8 283.9L357.3 283.3L358.7 282.8L360.1 282.3L361.6 281.8L363.1 281.4L364.5 281.0L366.0 280.7L367.5 280.4L369.0 280.1L370.5 279.9L372.0 279.7L373.5 279.5L375.0 279.4L376.5 279.3L378.0 279.3L379.5 279.3L380.9 279.4L382.4 279.5L383.9 279.7L385.3 279.9L386.7 280.2L388.2 280.5L389.6 280.8L391.0 281.2L392.3 281.7L393.7 282.2L395.1 282.7L396.4 283.3L397.7 283.9L399.0 284.6L400.4 285.3L401.6 286.0L402.9 286.7L404.2 287.5L405.4 288.3L406.7 289.2L407.9 290.0L409.1 290.9L410.4 291.9L411.5 292.8L412.7 293.8L413.9 294.7L415.1 295.7L416.2 296.7L417.4 297.8L418.5 298.8L419.6 299.9L420.7 300.9L421.9 302.0L422.9 303.1L424.0 304.2L425.1 305.2L426.2 306.3L427.2 307.4L428.3 308.5L429.3 309.7L430.3 310.8L431.4 311.9L432.4 313.0L433.4 314.1L434.4 315.3L435.4 316.4L436.3 317.6L437.3 318.7L438.3 319.9L439.2 321.0L440.2 322.2L441.1 323.4L442.0 324.5L443.0 325.7L443.9 326.9L444.8 328.1L445.7 329.3L446.6 330.5L447.5 331.7L448.3 332.9L449.2 334.1L450.1 335.3L451.0 336.5L451.8 337.7L452.7 338.9L453.5 340.2L454.4 341.4L455.2 342.6L456.0 343.9L456.8 345.1L457.7 346.4L458.5 347.6L459.3 348.9L460.1 350.1L460.9 351.4L461.7 352.6L462.5 353.9L463.2 355.2L464.0 356.4L464.8 357.7L465.6 359.0L466.3 360.3L467.1 361.6L467.9 362.8L468.6 364.1L469.4 365.4L470.1 366.7L470.9 368.0L471.6 369.3L472.3 370.6L473.1 371.9L473.8 373.2L474.5 374.5L475.2 375.9L475.9 377.2L476.6 378.5L477.4 379.8L478.1 381.1L478.8 382.5L479.5 383.8L480.2 385.1L480.8 386.4L481.5 387.8L482.2 389.1L482.9 390.5L483.6 391.8L484.3 393.1L484.9 394.5L485.6 395.8L486.3 397.2L486.9 398.5L487.6 399.9L488.3 401.2L488.9 402.6L489.6 403.9L490.2 405.3L490.9 406.6L491.5 408.0L492.2 409.3L492.8 410.7L493.4 412.1L494.1 413.4L494.7 414.8L495.3 416.1L496.0 417.5L496.6 418.9L497.2 420.2L497.9 421.6L498.5 423.0L499.1 424.3L499.7 425.7L500.4 427.1L501.0 428.5L501.6 429.8L502.2 431.2L502.8 432.6L503.4 433.9L504.0 435.3L504.7 436.7L505.3 438.1L505.9 439.4L506.5 440.8L507.1 442.2L507.7 443.6L508.3 444.9L508.9 446.3L509.5 447.7L510.1 449.1L510.7 450.4L511.3 451.8L511.9 453.2L512.5 454.6L513.1 455.9L513.7 457.3L514.3 458.7L514.9 460.1L515.4 461.5L516.0 462.8L516.6 464.2L517.2 465.6L517.8 467.0L518.4 468.4L519.0 469.7L519.5 471.1L520.1 472.5L520.7 473.9L521.3 475.3L521.8 476.7L522.4 478.0L523.0 479.4L523.6 480.8L524.1 482.2L524.7 483.6L525.3 485.0L525.9 486.4L526.4 487.7L527.0 489.1L527.6 490.5L528.1 491.9L528.7 493.3L529.3 494.7L529.8 496.1L530.4 497.5L530.9 498.9L531.5 500.2L532.1 501.6L532.6 503.0L533.2 504.4L533.7 505.8L534.3 507.2L534.8 508.6L535.4 510.0L536.0 511.4L536.5 512.8L537.1 514.2L537.6 515.6L538.2 517.0L538.7 518.3L539.3 519.7L539.8 521.1L540.3 522.5L540.9 523.9L541.4 525.3L542.0 526.7L542.5 528.1L543.1 529.5L543.6 530.9L544.2 532.3L544.7 533.7L545.2 535.1L545.8 536.5L546.3 537.9L546.9 539.3L547.4 540.7L547.9 542.1L548.5 543.5L549.0 544.9L549.5 546.3L550.1 547.7L550.6 549.1L551.1 550.5L551.7 551.9L552.2 553.3L552.7 554.7L553.3 556.1L553.8 557.5L554.3 558.9L554.8 560.3L555.4 561.7L555.9 563.1L556.4 564.5L557.0 565.9L557.5 567.3L558.0 568.7L558.5 570.2L559.1 571.6L559.6 573.0L560.1 574.4L560.6 575.8L561.2 577.2L561.7 578.6L562.2 580.0L562.7 581.4L563.2 582.8L563.8 584.2L564.3 585.6L564.8 587.0L565.3 588.4L565.8 589.8L566.4 591.3L566.9 592.7L567.4 594.1L567.9 595.5L568.4 596.9L568.9 598.3L569.5 599.7L570.0 601.1L570.5 602.5L571.0 603.9L571.5 605.3L572.0 606.8L572.6 608.2L573.1 609.6L573.6 611.0L574.1 612.4L574.6 613.8L575.1 615.2L575.6 616.6L576.2 618.0L576.7 619.4L577.2 620.9L577.7 622.3L578.2 623.7L578.7 625.1L579.2 626.5L579.8 627.9L580.3 629.3L580.8 630.7L581.3 632.1L581.8 633.5L582.3 635.0L582.8 636.4L583.3 637.8L583.8 639.2L584.4 640.6L584.9 642.0L585.4 643.4L585.9 644.8L586.4 646.2L586.9 647.7L587.4 649.1L587.9 650.5L588.4 651.9L589.0 653.3L589.5 654.7L590.0 656.1L590.5 657.5L591.0 658.9L591.5 660.4L592.0 661.8L592.5 663.2L593.0 664.6L593.6 666.0L594.1 667.4L594.6 668.8L595.1 670.2L595.6 671.6L596.1 673.1L596.6 674.5L597.1 675.9L597.7 677.3L598.2 678.7L598.7 680.1L599.2 681.5L599.7 682.9L600.2 684.3L600.7 685.7L601.3 687.2L601.8 688.6L602.3 690.0L602.8 691.4L603.3 692.8L603.8 694.2L604.3 695.6L604.9 697.0L605.4 698.4L605.9 699.8L606.4 701.2L606.9 702.6L607.4 704.1L607.9 705.5L608.5 706.9L609.0 708.3L609.5 709.7L610.0 711.1L610.5 712.5L611.1 713.9L611.6 715.3L612.1 716.7L612.6 718.1L613.1 719.5L613.6 720.9L614.2 722.4L614.7 723.8L615.2 725.2L615.7 726.6L616.2 728.0L616.8 729.4L617.3 730.8L617.8 732.2L618.3 733.6L618.9 735.0L619.4 736.4L619.9 737.8L620.4 739.2L620.9 740.6L621.5 742.0L622.0 743.4L622.5 744.8L623.0 746.3L623.6 747.7L624.1 749.1L624.6 750.5L625.2 751.9L625.7 753.3L626.2 754.7L626.7 756.1L627.3 757.5L627.8 758.9L628.3 760.3L628.9 761.7L629.4 763.1L629.9 764.5L630.4 765.9L631.0 767.3L631.5 768.7L632.0 770.1L632.6 771.5L633.1 772.9L633.6 774.3L634.2 775.7L634.7 777.1L635.2 778.5L635.8 779.9L636.3 781.3L636.8 782.7L637.4 784.1L637.9 785.5L638.5 786.9L639.0 788.3L639.5 789.7L640.1 791.1L640.6 792.5L641.2 793.9L641.7 795.3L642.2 796.7L642.8 798.1L643.3 799.5L643.9 800.9L644.4 802.3L645.0 803.7L645.5 805.1L646.0 806.5L646.6 807.9L647.1 809.3L647.7 810.7L648.2 812.1L648.8 813.5L649.3 814.9L649.9 816.3L650.4 817.7L651.0 819.1L651.5 820.5L652.1 821.8L652.6 823.2L653.2 824.6L653.7 826.0L654.3 827.4L654.8 828.8L655.4 830.2L656.0 831.6L656.5 833.0L657.1 834.4L657.6 835.8L658.2 837.2L658.8 838.6L659.3 840.0L659.9 841.3L660.4 842.7L661.0 844.1L661.6 845.5L662.1 846.9L662.7 848.3L663.3 849.7L663.8 851.1L664.4 852.5L665.0 853.9L665.5 855.2L666.1 856.6L666.7 858.0L667.3 859.4L667.8 860.8L668.4 862.2L669.0 863.6L669.6 864.9L670.1 866.3L670.7 867.7L671.3 869.1L671.9 870.5L672.4 871.9L673.0 873.2L673.6 874.6L674.2 876.0L674.8 877.4L675.4 878.8L675.9 880.2L676.5 881.5L677.1 882.9L677.7 884.3L678.3 885.7L678.9 887.0L679.5 888.4L680.1 889.8L680.7 891.2L681.3 892.6L681.9 893.9L682.5 895.3L683.1 896.7L683.7 898.1L684.3 899.4L684.9 900.8L685.5 902.2L686.1 903.6L686.7 904.9L687.3 906.3L687.9 907.7L688.5 909.0L689.1 910.4L689.7 911.8L690.3 913.2L691.0 914.5L691.6 915.9L692.2 917.3L692.8 918.6L693.4 920.0L694.1 921.4L694.7 922.7L695.3 924.1L695.9 925.5L696.6 926.8L697.2 928.2L697.8 929.5L698.4 930.9L699.1 932.3L699.7 933.6L700.3 935.0L701.0 936.3L701.6 937.7L702.3 939.1L702.9 940.4L703.5 941.8L704.2 943.1L704.8 944.5L705.5 945.8L706.1 947.2L706.8 948.5L707.4 949.9L708.1 951.2L708.7 952.6L709.4 953.9L710.1 955.3L710.7 956.6L711.4 958.0L712.1 959.3L712.7 960.7L713.4 962.0L714.1 963.3L714.7 964.7L715.4 966.0L716.1 967.4L716.8 968.7L717.4 970.0L718.1 971.4L718.8 972.7L719.5 974.0L720.2 975.4L720.9 976.7L721.6 978.0L722.3 979.4L723.0 980.7L723.7 982.0L724.4 983.3L725.1 984.7L725.8 986.0L726.5 987.3L727.2 988.6L727.9 989.9L728.6 991.3L729.4 992.6L730.1 993.9L730.8 995.2L731.5 996.5L732.3 997.8L733.0 999.1L733.7 1000.4L734.5 1001.7L735.2 1003.0L736.0 1004.3L736.7 1005.7L737.5 1007.0L738.2 1008.3L739.0 1009.5L739.7 1010.8L740.5 1012.1L741.2 1013.4L742.0 1014.7L742.8 1016.0L743.5 1017.3L744.3 1018.6L745.1 1019.9L745.9 1021.1L746.6 1022.4L747.4 1023.7L748.2 1025.0L749.0 1026.3L749.8 1027.5L750.6 1028.8L751.4 1030.1L752.2 1031.3L753.0 1032.6L753.8 1033.8L754.7 1035.1L755.5 1036.4L756.3 1037.6L757.1 1038.9L758.0 1040.1L758.8 1041.3L759.6 1042.6L760.5 1043.8L761.3 1045.1L762.2 1046.3L763.0 1047.5L763.9 1048.8L764.8 1050.0L765.6 1051.2L766.5 1052.4L767.4 1053.6L768.3 1054.8L769.1 1056.1L770.0 1057.3L770.9 1058.5L771.8 1059.7L772.7 1060.9L773.6 1062.0L774.6 1063.2L775.5 1064.4L776.4 1065.6L777.3 1066.8L778.3 1067.9L779.2 1069.1L780.1 1070.3L781.1 1071.4L782.0 1072.6L783.0 1073.8L784.0 1074.9L784.9 1076.1L785.9 1077.2L786.9 1078.3L787.9 1079.5L788.8 1080.6L789.8 1081.7L790.8 1082.8L791.8 1084.0L792.8 1085.1L793.9 1086.2L794.9 1087.3L795.9 1088.4L796.9 1089.5L798.0 1090.5L799.0 1091.6L800.1 1092.7L801.1 1093.8L802.2 1094.8L803.2 1095.9L804.3 1097.0L805.4 1098.0L806.4 1099.1L807.5 1100.1L808.6 1101.1L809.7 1102.2L810.8 1103.2L811.9 1104.2L813.0 1105.2L814.1 1106.2L815.2 1107.2L816.4 1108.2L817.5 1109.2L818.6 1110.2L819.8 1111.2L820.9 1112.1L822.1 1113.1L823.2 1114.1L824.4 1115.0L825.6 1115.9L826.7 1116.9L827.9 1117.8L829.1 1118.7L830.3 1119.7L831.5 1120.6L832.7 1121.5L833.9 1122.4L835.1 1123.3L836.3 1124.1L837.5 1125.0L838.8 1125.9L840.0 1126.7L841.2 1127.6L842.5 1128.4L843.7 1129.3L845.0 1130.1L846.2 1130.9L847.5 1131.7L848.8 1132.5L850.0 1133.3L851.3 1134.1L852.6 1134.9L853.9 1135.7L855.2 1136.4L856.5 1137.2L857.8 1137.9L859.1 1138.7L860.4 1139.4L861.7 1140.1L863.0 1140.8L864.3 1141.5L865.7 1142.2L867.0 1142.9L868.3 1143.5L869.7 1144.2L871.0 1144.9L872.4 1145.5L873.7 1146.1L875.1 1146.7L876.5 1147.3L877.8 1147.9L879.2 1148.5L880.6 1149.1L882.0 1149.7L883.4 1150.2L884.8 1150.8L886.2 1151.3L887.6 1151.8L889.0 1152.3L890.4 1152.8L891.8 1153.3L893.2 1153.8L894.6 1154.3L896.0 1154.7L897.5 1155.2L898.9 1155.6L900.3 1156.1L901.8 1156.5L903.2 1156.9L904.7 1157.3L906.1 1157.7L907.5 1158.1L909.0 1158.4L910.5 1158.8L911.9 1159.2L913.4 1159.5L914.8 1159.8L916.3 1160.2L917.8 1160.5L919.2 1160.8L920.7 1161.1L922.2 1161.4L923.7 1161.7L925.1 1162.0L926.6 1162.3L928.1 1162.5L929.6 1162.8L931.1 1163.1L932.5 1163.3L934.0 1163.6L935.5 1163.8L937.0 1164.0L938.5 1164.3L940.0 1164.5L941.5 1164.7L943.0 1164.9L944.5 1165.1L945.9 1165.3L947.4 1165.5L948.9 1165.7L950.4 1165.9L951.9 1166.0L953.4 1166.2L954.9 1166.4L956.4 1166.6L957.9 1166.7L959.4 1166.9L960.9 1167.0L962.4 1167.2L963.9 1167.3L965.4 1167.5L966.9 1167.6L968.4 1167.8L969.9 1167.9L971.3 1168.0L972.8 1168.2L974.3 1168.3L975.8 1168.4L977.3 1168.5L978.8 1168.6L980.3 1168.7L981.8 1168.8L983.3 1169.0L984.8 1169.1L986.3 1169.2L987.8 1169.2L989.3 1169.3L990.8 1169.4L992.3 1169.5L993.8 1169.6L995.3 1169.7L996.8 1169.8L998.3 1169.8L999.8 1169.9L1001.3 1170.0L1002.7 1170.1L1004.2 1170.1L1005.7 1170.2L1007.2 1170.3L1008.7 1170.3L1010.2 1170.4L1011.7 1170.5L1013.2 1170.5L1014.7 1170.6L1016.2 1170.6L1017.7 1170.7L1019.2 1170.7L1020.7 1170.8L1022.2 1170.8L1023.7 1170.9L1025.2 1170.9L1026.7 1171.0L1028.2 1171.0L1029.7 1171.1L1031.2 1171.1L1032.7 1171.1L1034.2 1171.2L1035.7 1171.2L1037.2 1171.3L1038.7 1171.3L1040.2 1171.3L1041.7 1171.4L1043.2 1171.4L1044.7 1171.4L1045.0 1171.4L1595.0 1171.5" stroke="#ff0000" stroke-dasharray="25 13.3"/>
<path d="M173.1 715.1L173.5 713.7L174.0 712.3L174.5 710.8L175.0 709.4L175.5 708.0L176.0 706.6L176.4 705.2L176.9 703.7L177.4 702.3L177.9 700.9L178.4 699.5L178.9 698.1L179.4 696.7L179.9 695.2L180.4 693.8L180.9 692.4L181.4 691.0L181.9 689.6L182.4 688.2L182.9 686.7L183.4 685.3L183.9 683.9L184.4 682.5L184.9 681.1L185.4 679.7L185.9 678.3L186.4 676.9L186.9 675.4L187.4 674.0L187.9 672.6L188.4 671.2L188.9 669.8L189.5 668.4L190.0 667.0L190.5 665.6L191.0 664.2L191.5 662.8L192.0 661.3L192.6 659.9L193.1 658.5L193.6 657.1L194.1 655.7L194.6 654.3L195.2 652.9L195.7 651.5L196.2 650.1L196.7 648.7L197.3 647.3L197.8 645.9L198.3 644.5L198.8 643.1L199.4 641.7L199.9 640.3L200.4 638.9L201.0 637.5L201.5 636.1L202.0 634.7L202.6 633.3L203.1 631.9L203.6 630.5L204.2 629.1L204.7 627.7L205.3 626.3L205.8 624.9L206.3 623.5L206.9 622.1L207.4 620.7L208.0 619.3L208.5 617.9L209.1 616.5L209.6 615.1L210.2 613.7L210.7 612.3L211.2 610.9L211.8 609.5L212.3 608.1L212.9 606.7L213.4 605.3L214.0 603.9L214.6 602.5L215.1 601.1L215.7 599.7L216.2 598.3L216.8 596.9L217.3 595.5L217.9 594.1L218.4 592.7L219.0 591.4L219.6 590.0L220.1 588.6L220.7 587.2L221.2 585.8L221.8 584.4L222.4 583.0L222.9 581.6L223.5 580.2L224.1 578.8L224.6 577.5L225.2 576.1L225.8 574.7L226.3 573.3L226.9 571.9L227.5 570.5L228.1 569.1L228.6 567.7L229.2 566.4L229.8 565.0L230.4 563.6L230.9 562.2L231.5 560.8L232.1 559.4L232.7 558.1L233.3 556.7L233.8 555.3L234.4 553.9L235.0 552.5L235.6 551.2L236.2 549.8L236.8 548.4L237.4 547.0L238.0 545.6L238.5 544.3L239.1 542.9L239.7 541.5L240.3 540.1L240.9 538.8L241.5 537.4L242.1 536.0L242.7 534.6L243.3 533.3L243.9 531.9L244.5 530.5L245.2 529.1L245.8 527.8L246.4 526.4L247.0 525.0L247.6 523.7L248.2 522.3L248.8 520.9L249.4 519.6L250.1 518.2L250.7 516.8L251.3 515.5L251.9 514.1L252.6 512.7L253.2 511.4L253.8 510.0L254.4 508.7L255.1 507.3L255.7 505.9L256.3 504.6L257.0 503.2L257.6 501.9L258.2 500.5L258.9 499.1L259.5 497.8L260.2 496.4L260.8 495.1L261.5 493.7L262.1 492.4L262.8 491.0L263.4 489.7L264.1 488.3L264.7 487.0L265.4 485.6L266.1 484.3L266.7 482.9L267.4 481.6L268.1 480.3L268.7 478.9L269.4 477.6L270.1 476.2L270.8 474.9L271.5 473.6L272.1 472.2L272.8 470.9L273.5 469.6L274.2 468.2L274.9 466.9L275.6 465.6L276.3 464.3L277.0 462.9L277.7 461.6L278.4 460.3L279.1 459.0L279.9 457.7L280.6 456.3L281.3 455.0L282.0 453.7L282.8 452.4L283.5 451.1L284.2 449.8L285.0 448.5L285.7 447.2L286.5 445.9L287.2 444.6L288.0 443.3L288.7 442.0L289.5 440.7L290.3 439.4L291.0 438.1L291.8 436.9L292.6 435.6L293.4 434.3L294.2 433.0L295.0 431.7L295.7 430.5L296.5 429.2L297.4 427.9L298.2 426.7L299.0 425.4L299.8 424.2L300.6 422.9L301.4 421.6L302.3 420.4L303.1 419.1L303.9 417.9L304.8 416.7L305.6 415.4L306.5 414.2L307.4 413.0L308.2 411.7L309.1 410.5L310.0 409.3L310.9 408.1L311.7 406.9L312.6 405.7L313.5 404.5L314.4 403.3L315.3 402.1L316.3 400.9L317.2 399.7L318.1 398.5L319.0 397.3L320.0 396.2L320.9 395.0L321.9 393.8L322.8 392.7L323.8 391.5L324.8 390.4L325.7 389.2L326.7 388.1L327.7 387.0L328.7 385.9L329.7 384.8L330.7 383.6L331.8 382.5L332.8 381.4L333.8 380.4L334.8 379.3L335.9 378.2L336.9 377.1L338.0 376.1L339.1 375.0L340.2 374.0L341.2 372.9L342.3 371.9L343.4 370.9L344.5 369.9L345.7 368.9L346.8 367.9L347.9 366.9L349.1 365.9L350.2 365.0L351.4 364.0L352.5 363.1L353.7 362.2L354.9 361.3L356.1 360.4L357.3 359.6L358.6 358.7L359.8 357.9L361.1 357.1L362.3 356.3L363.6 355.5L364.9 354.8L366.2 354.0L367.5 353.3L368.8 352.6L370.1 352.0L371.5 351.3L372.8 350.7L374.2 350.1L375.6 349.6L377.0 349.0L378.4 348.5L379.8 348.0L381.3 347.6L382.7 347.1L384.2 346.7L385.7 346.3L387.1 346.0L388.6 345.7L390.1 345.4L391.6 345.1L393.1 344.9L394.6 344.7L396.1 344.5L397.7 344.4L399.2 344.3L400.7 344.2L402.2 344.2L403.7 344.2L405.2 344.2L406.7 344.3L408.2 344.4L409.7 344.5L411.2 344.7L412.7 344.9L414.1 345.1L415.6 345.4L417.0 345.7L418.5 346.1L419.9 346.4L421.3 346.9L422.7 347.3L424.1 347.8L425.5 348.3L426.9 348.9L428.3 349.4L429.6 350.0L430.9 350.7L432.3 351.3L433.6 352.0L434.9 352.7L436.2 353.5L437.5 354.2L438.8 355.0L440.1 355.8L441.4 356.6L442.6 357.4L443.9 358.3L445.1 359.1L446.3 360.0L447.6 360.9L448.8 361.8L450.0 362.7L451.2 363.7L452.4 364.6L453.5 365.6L454.7 366.5L455.9 367.5L457.0 368.5L458.2 369.4L459.3 370.4L460.5 371.4L461.6 372.4L462.7 373.4L463.8 374.5L464.9 375.5L466.0 376.5L467.1 377.5L468.2 378.6L469.2 379.6L470.3 380.7L471.4 381.8L472.4 382.8L473.5 383.9L474.5 385.0L475.5 386.1L476.5 387.2L477.6 388.3L478.6 389.4L479.6 390.5L480.6 391.6L481.6 392.7L482.5 393.8L483.5 395.0L484.5 396.1L485.5 397.3L486.4 398.4L487.4 399.6L488.3 400.7L489.3 401.9L490.2 403.0L491.1 404.2L492.0 405.4L493.0 406.6L493.9 407.8L494.8 409.0L495.7 410.1L496.6 411.3L497.5 412.5L498.3 413.8L499.2 415.0L500.1 416.2L501.0 417.4L501.8 418.6L502.7 419.8L503.5 421.1L504.4 422.3L505.2 423.5L506.1 424.8L506.9 426.0L507.7 427.3L508.6 428.5L509.4 429.8L510.2 431.0L511.0 432.3L511.8 433.6L512.6 434.8L513.4 436.1L514.2 437.4L515.0 438.6L515.8 439.9L516.6 441.2L517.4 442.5L518.2 443.7L518.9 445.0L519.7 446.3L520.5 447.6L521.2 448.9L522.0 450.2L522.8 451.5L523.5 452.8L524.3 454.1L525.0 455.4L525.8 456.7L526.5 458.0L527.3 459.3L528.0 460.6L528.8 461.9L529.5 463.2L530.2 464.5L531.0 465.8L531.7 467.2L532.4 468.5L533.1 469.8L533.9 471.1L534.6 472.4L535.3 473.8L536.0 475.1L536.7 476.4L537.5 477.7L538.2 479.0L538.9 480.4L539.6 481.7L540.3 483.0L541.0 484.3L541.7 485.7L542.4 487.0L543.1 488.3L543.8 489.6L544.5 491.0L545.2 492.3L545.9 493.6L546.6 495.0L547.3 496.3L548.0 497.6L548.7 498.9L549.4 500.3L550.1 501.6L550.8 502.9L551.5 504.3L552.1 505.6L552.8 506.9L553.5 508.3L554.2 509.6L554.9 511.0L555.6 512.3L556.2 513.6L556.9 515.0L557.6 516.3L558.3 517.6L558.9 519.0L559.6 520.3L560.3 521.7L560.9 523.0L561.6 524.4L562.3 525.7L562.9 527.0L563.6 528.4L564.3 529.7L564.9 531.1L565.6 532.4L566.2 533.8L566.9 535.1L567.6 536.5L568.2 537.8L568.9 539.2L569.5 540.5L570.2 541.9L570.8 543.2L571.5 544.6L572.1 545.9L572.8 547.3L573.4 548.6L574.1 550.0L574.7 551.3L575.3 552.7L576.0 554.0L576.6 555.4L577.3 556.8L577.9 558.1L578.5 559.5L579.2 560.8L579.8 562.2L580.4 563.5L581.1 564.9L581.7 566.3L582.3 567.6L582.9 569.0L583.6 570.4L584.2 571.7L584.8 573.1L585.4 574.4L586.1 575.8L586.7 577.2L587.3 578.5L587.9 579.9L588.5 581.3L589.1 582.6L589.8 584.0L590.4 585.4L591.0 586.7L591.6 588.1L592.2 589.5L592.8 590.9L593.4 592.2L594.0 593.6L594.7 595.0L595.3 596.3L595.9 597.7L596.5 599.1L597.1 600.5L597.7 601.8L598.3 603.2L598.9 604.6L599.5 606.0L600.1 607.3L600.7 608.7L601.3 610.1L601.9 611.5L602.5 612.8L603.1 614.2L603.7 615.6L604.3 617.0L604.9 618.3L605.5 619.7L606.1 621.1L606.6 622.5L607.2 623.8L607.8 625.2L608.4 626.6L609.0 628.0L609.6 629.4L610.2 630.7L610.8 632.1L611.4 633.5L612.0 634.9L612.6 636.3L613.1 637.6L613.7 639.0L614.3 640.4L614.9 641.8L615.5 643.2L616.1 644.6L616.7 645.9L617.3 647.3L617.8 648.7L618.4 650.1L619.0 651.5L619.6 652.8L620.2 654.2L620.8 655.6L621.3 657.0L621.9 658.4L622.5 659.8L623.1 661.1L623.7 662.5L624.3 663.9L624.9 665.3L625.4 666.7L626.0 668.1L626.6 669.4L627.2 670.8L627.8 672.2L628.4 673.6L628.9 675.0L629.5 676.3L630.1 677.7L630.7 679.1L631.3 680.5L631.9 681.9L632.4 683.3L633.0 684.6L633.6 686.0L634.2 687.4L634.8 688.8L635.4 690.2L636.0 691.6L636.5 692.9L637.1 694.3L637.7 695.7L638.3 697.1L638.9 698.5L639.5 699.8L640.1 701.2L640.7 702.6L641.2 704.0L641.8 705.4L642.4 706.7L643.0 708.1L643.6 709.5L644.2 710.9L644.8 712.3L645.4 713.6L646.0 715.0L646.5 716.4L647.1 717.8L647.7 719.1L648.3 720.5L648.9 721.9L649.5 723.3L650.1 724.7L650.7 726.0L651.3 727.4L651.9 728.8L652.5 730.2L653.1 731.5L653.7 732.9L654.2 734.3L654.8 735.7L655.4 737.1L656.0 738.4L656.6 739.8L657.2 741.2L657.8 742.6L658.4 743.9L659.0 745.3L659.6 746.7L660.2 748.1L660.8 749.4L661.4 750.8L662.0 752.2L662.6 753.6L663.2 754.9L663.8 756.3L664.4 757.7L665.0 759.1L665.6 760.4L666.2 761.8L666.8 763.2L667.4 764.6L668.0 765.9L668.6 767.3L669.2 768.7L669.8 770.0L670.4 771.4L671.0 772.8L671.6 774.2L672.2 775.5L672.8 776.9L673.4 778.3L674.0 779.7L674.6 781.0L675.2 782.4L675.8 783.8L676.4 785.2L677.0 786.5L677.6 787.9L678.2 789.3L678.8 790.6L679.4 792.0L680.0 793.4L680.6 794.8L681.2 796.1L681.8 797.5L682.4 798.9L683.0 800.2L683.6 801.6L684.3 803.0L684.9 804.4L685.5 805.7L686.1 807.1L686.7 808.5L687.3 809.9L687.9 811.2L688.5 812.6L689.1 814.0L689.7 815.3L690.3 816.7L690.9 818.1L691.5 819.5L692.1 820.8L692.8 822.2L693.4 823.6L694.0 824.9L694.6 826.3L695.2 827.7L695.8 829.0L696.4 830.4L697.0 831.8L697.6 833.2L698.2 834.5L698.8 835.9L699.5 837.3L700.1 838.6L700.7 840.0L701.3 841.4L701.9 842.8L702.5 844.1L703.1 845.5L703.7 846.9L704.4 848.2L705.0 849.6L705.6 851.0L706.2 852.3L706.8 853.7L707.4 855.1L708.1 856.4L708.7 857.8L709.3 859.2L709.9 860.5L710.5 861.9L711.2 863.3L711.8 864.6L712.4 866.0L713.0 867.4L713.7 868.7L714.3 870.1L714.9 871.4L715.6 872.8L716.2 874.2L716.8 875.5L717.4 876.9L718.1 878.2L718.7 879.6L719.4 881.0L720.0 882.3L720.6 883.7L721.3 885.0L721.9 886.4L722.6 887.7L723.2 889.1L723.9 890.5L724.5 891.8L725.1 893.2L725.8 894.5L726.4 895.9L727.1 897.2L727.8 898.6L728.4 899.9L729.1 901.3L729.7 902.6L730.4 903.9L731.1 905.3L731.7 906.6L732.4 908.0L733.1 909.3L733.7 910.7L734.4 912.0L735.1 913.3L735.7 914.7L736.4 916.0L737.1 917.4L737.8 918.7L738.5 920.0L739.2 921.4L739.8 922.7L740.5 924.0L741.2 925.4L741.9 926.7L742.6 928.0L743.3 929.3L744.0 930.7L744.7 932.0L745.4 933.3L746.1 934.6L746.8 936.0L747.6 937.3L748.3 938.6L749.0 939.9L749.7 941.2L750.4 942.6L751.1 943.9L751.9 945.2L752.6 946.5L753.3 947.8L754.0 949.1L754.8 950.4L755.5 951.7L756.3 953.1L757.0 954.4L757.7 955.7L758.5 957.0L759.2 958.3L760.0 959.6L760.7 960.9L761.5 962.2L762.2 963.5L763.0 964.8L763.7 966.1L764.5 967.4L765.2 968.7L766.0 970.0L766.8 971.2L767.5 972.5L768.3 973.8L769.1 975.1L769.8 976.4L770.6 977.7L771.4 979.0L772.1 980.3L772.9 981.6L773.7 982.8L774.5 984.1L775.3 985.4L776.0 986.7L776.8 988.0L777.6 989.2L778.4 990.5L779.2 991.8L780.0 993.1L780.8 994.3L781.6 995.6L782.4 996.9L783.2 998.2L784.0 999.4L784.7 1000.7L785.6 1002.0L786.4 1003.2L787.2 1004.5L788.0 1005.8L788.8 1007.0L789.6 1008.3L790.4 1009.6L791.2 1010.8L792.0 1012.1L792.8 1013.4L793.6 1014.6L794.5 1015.9L795.3 1017.1L796.1 1018.4L796.9 1019.6L797.7 1020.9L798.6 1022.1L799.4 1023.4L800.2 1024.6L801.1 1025.9L801.9 1027.1L802.7 1028.4L803.6 1029.6L804.4 1030.8L805.2 1032.1L806.1 1033.3L806.9 1034.6L807.8 1035.8L808.7 1037.0L809.5 1038.2L810.4 1039.5L811.2 1040.7L812.1 1041.9L813.0 1043.1L813.8 1044.3L814.7 1045.6L815.6 1046.8L816.5 1048.0L817.4 1049.2L818.3 1050.4L819.2 1051.6L820.1 1052.8L821.0 1054.0L821.9 1055.2L822.8 1056.4L823.7 1057.5L824.6 1058.7L825.5 1059.9L826.5 1061.1L827.4 1062.2L828.3 1063.4L829.3 1064.6L830.2 1065.7L831.2 1066.9L832.1 1068.1L833.1 1069.2L834.0 1070.3L835.0 1071.5L836.0 1072.6L837.0 1073.8L838.0 1074.9L838.9 1076.0L839.9 1077.2L840.9 1078.3L841.9 1079.4L843.0 1080.5L844.0 1081.6L845.0 1082.7L846.0 1083.8L847.0 1084.9L848.1 1086.0L849.1 1087.1L850.2 1088.1L851.2 1089.2L852.3 1090.3L853.3 1091.4L854.4 1092.4L855.5 1093.5L856.6 1094.5L857.6 1095.6L858.7 1096.6L859.8 1097.6L860.9 1098.7L862.0 1099.7L863.1 1100.7L864.2 1101.7L865.4 1102.7L866.5 1103.7L867.6 1104.7L868.7 1105.7L869.9 1106.7L871.0 1107.6L872.2 1108.6L873.3 1109.6L874.5 1110.5L875.6 1111.5L876.8 1112.4L878.0 1113.3L879.2 1114.3L880.3 1115.2L881.5 1116.1L882.7 1117.0L883.9 1117.9L885.1 1118.8L886.3 1119.7L887.6 1120.6L888.8 1121.5L890.0 1122.3L891.2 1123.2L892.5 1124.0L893.7 1124.9L895.0 1125.7L896.2 1126.5L897.5 1127.4L898.7 1128.2L900.0 1129.0L901.3 1129.8L902.5 1130.6L903.8 1131.4L905.1 1132.1L906.4 1132.9L907.7 1133.7L909.0 1134.4L910.3 1135.1L911.6 1135.9L912.9 1136.6L914.2 1137.3L915.5 1138.0L916.8 1138.7L918.2 1139.4L919.5 1140.1L920.9 1140.8L922.2 1141.4L923.5 1142.1L924.9 1142.7L926.2 1143.4L927.6 1144.0L929.0 1144.6L930.3 1145.2L931.7 1145.8L933.1 1146.4L934.5 1147.0L935.9 1147.6L937.2 1148.1L938.6 1148.7L940.0 1149.2L941.4 1149.7L942.8 1150.3L944.2 1150.8L945.7 1151.3L947.1 1151.8L948.5 1152.2L949.9 1152.7L951.3 1153.2L952.8 1153.6L954.2 1154.1L955.6 1154.5L957.1 1155.0L958.5 1155.4L960.0 1155.8L961.4 1156.2L962.9 1156.6L964.3 1157.0L965.8 1157.4L967.2 1157.7L968.7 1158.1L970.1 1158.4L971.6 1158.8L973.1 1159.1L974.5 1159.5L976.0 1159.8L977.5 1160.1L978.9 1160.5L980.4 1160.8L981.9 1161.1L983.4 1161.4L984.8 1161.7L986.3 1161.9L987.8 1162.2L989.3 1162.5L990.8 1162.8L992.2 1163.0L993.7 1163.3L995.2 1163.5L996.7 1163.8L998.2 1164.0L999.7 1164.3L1001.1 1164.5L1002.6 1164.7L1004.1 1165.0L1005.6 1165.2L1007.1 1165.4L1008.6 1165.6L1010.1 1165.8L1011.5 1166.0L1013.0 1166.2L1014.5 1166.4L1016.0 1166.6L1017.5 1166.8L1019.0 1167.0L1020.5 1167.2L1021.9 1167.4L1023.4 1167.5L1024.9 1167.7L1026.4 1167.9L1027.9 1168.0L1029.4 1168.2L1030.9 1168.4L1032.3 1168.5L1033.8 1168.7L1035.3 1168.8L1036.8 1168.9L1038.3 1169.1L1039.8 1169.2L1041.3 1169.3L1042.8 1169.4L1044.3 1169.6L1045.8 1169.7L1047.2 1169.8L1048.7 1169.9L1050.2 1170.0L1051.7 1170.1L1053.2 1170.2L1054.7 1170.3L1056.2 1170.4L1057.7 1170.5L1059.2 1170.5L1060.7 1170.6L1062.2 1170.7L1063.7 1170.8L1065.2 1170.8L1066.7 1170.9L1068.2 1171.0L1069.7 1171.0L1071.2 1171.1L1072.7 1171.1L1074.2 1171.2L1075.7 1171.2L1077.2 1171.3L1078.7 1171.3L1080.2 1171.3L1081.7 1171.4L1083.2 1171.4L1084.7 1171.4L1086.2 1171.4L1087.7 1171.4L1089.2 1171.4L1090.0 1171.5L1595.0 1171.5" stroke="#ff0000" stroke-dasharray="25 13.3"/>
<path d="M173.1 715.1L173.9 716.3L174.7 717.6L175.6 718.8L176.4 720.1L177.2 721.4L178.0 722.6L178.8 723.9L179.6 725.2L180.4 726.4L181.2 727.7L182.0 729.0L182.8 730.2L183.6 731.5L184.4 732.8L185.1 734.1L185.9 735.4L186.7 736.7L187.4 738.0L188.2 739.2L189.0 740.5L189.7 741.8L190.5 743.1L191.2 744.4L191.9 745.7L192.7 747.1L193.4 748.4L194.1 749.7L194.9 751.0L195.6 752.3L196.3 753.6L197.0 754.9L197.7 756.2L198.4 757.6L199.1 758.9L199.8 760.2L200.5 761.5L201.2 762.9L201.9 764.2L202.6 765.5L203.3 766.9L204.0 768.2L204.7 769.5L205.4 770.9L206.0 772.2L206.7 773.5L207.4 774.9L208.1 776.2L208.7 777.6L209.4 778.9L210.1 780.2L210.7 781.6L211.4 782.9L212.1 784.3L212.7 785.6L213.4 787.0L214.0 788.3L214.7 789.7L215.3 791.0L216.0 792.4L216.6 793.7L217.3 795.1L217.9 796.4L218.6 797.8L219.2 799.1L219.9 800.5L220.5 801.9L221.2 803.2L221.8 804.6L222.5 805.9L223.1 807.3L223.7 808.6L224.4 810.0L225.0 811.4L225.7 812.7L226.3 814.1L226.9 815.4L227.6 816.8L228.2 818.2L228.9 819.5L229.5 820.9L230.1 822.2L230.8 823.6L231.4 825.0L232.0 826.3L232.7 827.7L233.3 829.0L234.0 830.4L234.6 831.7L235.2 833.1L235.9 834.5L236.5 835.8L237.1 837.2L237.8 838.5L238.4 839.9L239.1 841.3L239.7 842.6L240.4 844.0L241.0 845.3L241.6 846.7L242.3 848.0L242.9 849.4L243.6 850.7L244.2 852.1L244.9 853.4L245.5 854.8L246.2 856.2L246.8 857.5L247.5 858.9L248.1 860.2L248.8 861.6L249.4 862.9L250.1 864.3L250.8 865.6L251.4 866.9L252.1 868.3L252.7 869.6L253.4 871.0L254.1 872.3L254.7 873.7L255.4 875.0L256.1 876.3L256.8 877.7L257.4 879.0L258.1 880.4L258.8 881.7L259.5 883.0L260.2 884.4L260.9 885.7L261.5 887.0L262.2 888.4L262.9 889.7L263.6 891.0L264.3 892.3L265.0 893.7L265.7 895.0L266.4 896.3L267.1 897.6L267.8 898.9L268.6 900.3L269.3 901.6L270.0 902.9L270.7 904.2L271.4 905.5L272.2 906.8L272.9 908.1L273.6 909.4L274.4 910.7L275.1 912.0L275.9 913.3L276.6 914.6L277.3 915.9L278.1 917.2L278.9 918.5L279.6 919.8L280.4 921.1L281.1 922.4L281.9 923.7L282.7 925.0L283.4 926.3L284.2 927.6L285.0 928.8L285.7 930.1L286.5 931.4L287.3 932.7L288.1 934.0L288.8 935.3L289.6 936.5L290.4 937.8L291.2 939.1L292.0 940.4L292.8 941.6L293.6 942.9L294.4 944.2L295.2 945.5L295.9 946.7L296.7 948.0L297.5 949.3L298.3 950.6L299.1 951.8L299.9 953.1L300.7 954.4L301.5 955.6L302.3 956.9L303.2 958.2L304.0 959.4L304.8 960.7L305.6 962.0L306.4 963.2L307.2 964.5L308.0 965.8L308.8 967.0L309.6 968.3L310.4 969.6L311.2 970.8L312.0 972.1L312.8 973.3L313.7 974.6L314.5 975.9L315.3 977.1L316.1 978.4L316.9 979.7L317.7 980.9L318.5 982.2L319.3 983.5L320.1 984.7L320.9 986.0L321.7 987.3L322.5 988.5L323.4 989.8L324.2 991.1L325.0 992.3L325.8 993.6L326.6 994.9L327.4 996.1L328.2 997.4L329.0 998.7L329.8 999.9L330.6 1001.2L331.4 1002.4L332.2 1003.7L333.0 1005.0L333.8 1006.2L334.7 1007.5L335.5 1008.8L336.3 1010.0L337.1 1011.3L337.9 1012.5L338.7 1013.8L339.5 1015.1L340.4 1016.3L341.2 1017.6L342.0 1018.8L342.8 1020.1L343.7 1021.3L344.5 1022.6L345.3 1023.8L346.2 1025.0L347.0 1026.3L347.8 1027.5L348.7 1028.8L349.5 1030.0L350.4 1031.2L351.2 1032.5L352.1 1033.7L353.0 1034.9L353.8 1036.1L354.7 1037.4L355.5 1038.6L356.4 1039.8L357.3 1041.0L358.2 1042.2L359.1 1043.4L360.0 1044.7L360.8 1045.9L361.7 1047.1L362.6 1048.3L363.6 1049.4L364.5 1050.6L365.4 1051.8L366.3 1053.0L367.2 1054.2L368.2 1055.4L369.1 1056.5L370.0 1057.7L371.0 1058.9L371.9 1060.0L372.9 1061.2L373.8 1062.3L374.8 1063.5L375.8 1064.6L376.8 1065.8L377.7 1066.9L378.7 1068.1L379.7 1069.2L380.7 1070.3L381.7 1071.4L382.7 1072.5L383.7 1073.7L384.8 1074.8L385.8 1075.9L386.8 1077.0L387.8 1078.1L388.9 1079.1L389.9 1080.2L391.0 1081.3L392.0 1082.4L393.1 1083.4L394.1 1084.5L395.2 1085.6L396.3 1086.6L397.4 1087.7L398.5 1088.7L399.5 1089.7L400.6 1090.7L401.7 1091.8L402.8 1092.8L404.0 1093.8L405.1 1094.8L406.2 1095.8L407.3 1096.8L408.4 1097.8L409.6 1098.7L410.7 1099.7L411.9 1100.7L413.0 1101.6L414.2 1102.6L415.3 1103.5L416.5 1104.5L417.7 1105.4L418.9 1106.3L420.1 1107.3L421.2 1108.2L422.4 1109.1L423.6 1110.0L424.8 1110.9L426.1 1111.8L427.3 1112.6L428.5 1113.5L429.7 1114.4L430.9 1115.2L432.2 1116.1L433.4 1116.9L434.7 1117.8L435.9 1118.6L437.1 1119.4L438.4 1120.2L439.7 1121.0L440.9 1121.8L442.2 1122.6L443.5 1123.4L444.8 1124.2L446.0 1125.0L447.3 1125.7L448.6 1126.5L449.9 1127.3L451.2 1128.0L452.5 1128.7L453.8 1129.5L455.1 1130.2L456.5 1130.9L457.8 1131.6L459.1 1132.3L460.4 1133.0L461.8 1133.7L463.1 1134.4L464.4 1135.1L465.8 1135.7L467.1 1136.4L468.5 1137.1L469.8 1137.7L471.2 1138.3L472.5 1139.0L473.9 1139.6L475.3 1140.2L476.6 1140.8L478.0 1141.4L479.4 1142.0L480.8 1142.6L482.2 1143.2L483.6 1143.8L484.9 1144.3L486.3 1144.9L487.7 1145.5L489.1 1146.0L490.5 1146.6L491.9 1147.1L493.3 1147.6L494.8 1148.1L496.2 1148.6L497.6 1149.1L499.0 1149.6L500.4 1150.1L501.8 1150.6L503.3 1151.1L504.7 1151.6L506.1 1152.0L507.6 1152.5L509.0 1152.9L510.4 1153.4L511.9 1153.8L513.3 1154.2L514.7 1154.7L516.2 1155.1L517.6 1155.5L519.1 1155.9L520.5 1156.3L522.0 1156.7L523.4 1157.0L524.9 1157.4L526.3 1157.8L527.8 1158.1L529.3 1158.5L530.7 1158.8L532.2 1159.2L533.6 1159.5L535.1 1159.8L536.6 1160.1L538.0 1160.5L539.5 1160.8L541.0 1161.1L542.4 1161.4L543.9 1161.7L545.4 1161.9L546.8 1162.2L548.3 1162.5L549.8 1162.8L551.3 1163.0L552.7 1163.3L554.2 1163.5L555.7 1163.8L557.2 1164.0L558.7 1164.2L560.1 1164.5L561.6 1164.7L563.1 1164.9L564.6 1165.1L566.1 1165.3L567.6 1165.5L569.0 1165.7L570.5 1165.9L572.0 1166.1L573.5 1166.3L575.0 1166.4L576.5 1166.6L578.0 1166.8L579.5 1167.0L581.0 1167.1L582.4 1167.3L583.9 1167.4L585.4 1167.6L586.9 1167.7L588.4 1167.9L589.9 1168.0L591.4 1168.1L592.9 1168.3L594.4 1168.4L595.9 1168.5L597.4 1168.6L598.9 1168.7L600.4 1168.8L601.9 1168.9L603.4 1169.0L604.9 1169.1L606.3 1169.2L607.8 1169.3L609.3 1169.4L610.8 1169.5L612.3 1169.6L613.8 1169.7L615.3 1169.8L616.8 1169.8L618.3 1169.9L619.8 1170.0L621.3 1170.1L622.8 1170.1L624.3 1170.2L625.8 1170.2L627.3 1170.3L628.8 1170.4L630.3 1170.4L631.8 1170.5L633.3 1170.5L634.8 1170.6L636.3 1170.6L637.8 1170.7L639.3 1170.7L640.8 1170.7L642.3 1170.8L643.8 1170.8L645.3 1170.8L646.8 1170.9L648.3 1170.9L649.8 1170.9L651.3 1171.0L652.8 1171.0L654.3 1171.0L655.8 1171.0L657.3 1171.1L658.8 1171.1L660.3 1171.1L661.8 1171.1L663.3 1171.2L664.8 1171.2L666.3 1171.2L667.8 1171.2L669.3 1171.2L670.8 1171.3L672.3 1171.3L673.8 1171.3L675.3 1171.3L676.8 1171.3L678.3 1171.3L679.8 1171.3L681.3 1171.4L682.8 1171.4L684.3 1171.4L685.8 1171.4L687.3 1171.4L688.8 1171.4L690.0 1171.5L1595.0 1171.5" stroke="#0000ff"/>
<path d="M173.1 715.1L174.0 716.3L174.9 717.5L175.8 718.7L176.7 719.9L177.7 721.1L178.6 722.3L179.5 723.5L180.3 724.8L181.2 726.0L182.1 727.2L183.0 728.4L183.8 729.7L184.7 730.9L185.6 732.1L186.4 733.4L187.3 734.6L188.1 735.8L188.9 737.1L189.8 738.3L190.6 739.6L191.4 740.8L192.2 742.1L193.1 743.3L193.9 744.6L194.7 745.9L195.5 747.1L196.3 748.4L197.1 749.7L197.8 750.9L198.6 752.2L199.4 753.5L200.2 754.7L201.0 756.0L201.7 757.3L202.5 758.6L203.2 759.9L204.0 761.2L204.8 762.5L205.5 763.7L206.3 765.0L207.0 766.3L207.7 767.6L208.5 768.9L209.2 770.2L209.9 771.5L210.7 772.8L211.4 774.1L212.1 775.4L212.8 776.7L213.5 778.0L214.3 779.4L215.0 780.7L215.7 782.0L216.4 783.3L217.1 784.6L217.8 785.9L218.5 787.2L219.2 788.6L219.9 789.9L220.6 791.2L221.3 792.5L222.0 793.8L222.6 795.2L223.3 796.5L224.0 797.8L224.7 799.1L225.4 800.5L226.1 801.8L226.7 803.1L227.4 804.5L228.1 805.8L228.8 807.1L229.4 808.5L230.1 809.8L230.8 811.1L231.5 812.5L232.1 813.8L232.8 815.1L233.5 816.5L234.1 817.8L234.8 819.1L235.5 820.5L236.1 821.8L236.8 823.2L237.5 824.5L238.1 825.8L238.8 827.2L239.5 828.5L240.1 829.9L240.8 831.2L241.5 832.5L242.1 833.9L242.8 835.2L243.5 836.6L244.1 837.9L244.8 839.2L245.5 840.6L246.1 841.9L246.8 843.3L247.5 844.6L248.1 845.9L248.8 847.3L249.5 848.6L250.1 850.0L250.8 851.3L251.5 852.6L252.1 854.0L252.8 855.3L253.5 856.7L254.2 858.0L254.8 859.3L255.5 860.7L256.2 862.0L256.9 863.3L257.6 864.7L258.2 866.0L258.9 867.3L259.6 868.7L260.3 870.0L261.0 871.3L261.7 872.7L262.4 874.0L263.1 875.3L263.8 876.7L264.5 878.0L265.2 879.3L265.9 880.6L266.6 882.0L267.3 883.3L268.0 884.6L268.7 885.9L269.4 887.3L270.1 888.6L270.8 889.9L271.6 891.2L272.3 892.5L273.0 893.8L273.7 895.2L274.5 896.5L275.2 897.8L276.0 899.1L276.7 900.4L277.4 901.7L278.2 903.0L278.9 904.3L279.7 905.6L280.4 906.9L281.2 908.2L282.0 909.5L282.7 910.8L283.5 912.1L284.3 913.4L285.0 914.7L285.8 916.0L286.6 917.3L287.3 918.6L288.1 919.9L288.9 921.2L289.7 922.5L290.5 923.8L291.3 925.0L292.0 926.3L292.8 927.6L293.6 928.9L294.4 930.2L295.2 931.5L296.0 932.7L296.8 934.0L297.6 935.3L298.4 936.6L299.2 937.9L300.0 939.1L300.8 940.4L301.6 941.7L302.4 943.0L303.2 944.2L304.0 945.5L304.9 946.8L305.7 948.1L306.5 949.3L307.3 950.6L308.1 951.9L308.9 953.1L309.7 954.4L310.6 955.7L311.4 956.9L312.2 958.2L313.0 959.5L313.8 960.7L314.6 962.0L315.5 963.3L316.3 964.5L317.1 965.8L317.9 967.1L318.7 968.3L319.6 969.6L320.4 970.9L321.2 972.1L322.0 973.4L322.9 974.6L323.7 975.9L324.5 977.2L325.3 978.4L326.1 979.7L327.0 980.9L327.8 982.2L328.6 983.5L329.4 984.7L330.2 986.0L331.1 987.2L331.9 988.5L332.7 989.8L333.5 991.0L334.3 992.3L335.2 993.5L336.0 994.8L336.8 996.1L337.6 997.3L338.4 998.6L339.3 999.8L340.1 1001.1L340.9 1002.3L341.7 1003.6L342.6 1004.8L343.4 1006.1L344.2 1007.3L345.0 1008.6L345.9 1009.8L346.7 1011.0L347.5 1012.3L348.4 1013.5L349.2 1014.8L350.1 1016.0L350.9 1017.2L351.7 1018.5L352.6 1019.7L353.4 1020.9L354.3 1022.2L355.1 1023.4L356.0 1024.6L356.9 1025.8L357.7 1027.1L358.6 1028.3L359.5 1029.5L360.3 1030.7L361.2 1031.9L362.1 1033.1L363.0 1034.3L363.8 1035.6L364.7 1036.8L365.6 1038.0L366.5 1039.2L367.4 1040.3L368.3 1041.5L369.2 1042.7L370.1 1043.9L371.1 1045.1L372.0 1046.3L372.9 1047.5L373.8 1048.6L374.8 1049.8L375.7 1051.0L376.6 1052.1L377.6 1053.3L378.5 1054.5L379.5 1055.6L380.5 1056.8L381.4 1057.9L382.4 1059.1L383.4 1060.2L384.3 1061.3L385.3 1062.5L386.3 1063.6L387.3 1064.7L388.3 1065.8L389.3 1067.0L390.3 1068.1L391.3 1069.2L392.3 1070.3L393.4 1071.4L394.4 1072.5L395.4 1073.6L396.5 1074.7L397.5 1075.7L398.5 1076.8L399.6 1077.9L400.6 1079.0L401.7 1080.0L402.8 1081.1L403.8 1082.1L404.9 1083.2L406.0 1084.2L407.1 1085.3L408.2 1086.3L409.3 1087.3L410.4 1088.4L411.5 1089.4L412.6 1090.4L413.7 1091.4L414.8 1092.4L415.9 1093.4L417.0 1094.4L418.2 1095.4L419.3 1096.3L420.5 1097.3L421.6 1098.3L422.8 1099.2L423.9 1100.2L425.1 1101.1L426.2 1102.1L427.4 1103.0L428.6 1104.0L429.8 1104.9L431.0 1105.8L432.2 1106.7L433.4 1107.6L434.6 1108.5L435.8 1109.4L437.0 1110.3L438.2 1111.2L439.4 1112.1L440.6 1112.9L441.8 1113.8L443.1 1114.6L444.3 1115.5L445.6 1116.3L446.8 1117.2L448.0 1118.0L449.3 1118.8L450.6 1119.7L451.8 1120.5L453.1 1121.3L454.3 1122.1L455.6 1122.9L456.9 1123.7L458.2 1124.5L459.5 1125.2L460.8 1126.0L462.0 1126.8L463.3 1127.5L464.6 1128.3L465.9 1129.0L467.2 1129.8L468.6 1130.5L469.9 1131.2L471.2 1131.9L472.5 1132.7L473.8 1133.4L475.2 1134.1L476.5 1134.8L477.8 1135.5L479.2 1136.1L480.5 1136.8L481.9 1137.5L483.2 1138.2L484.6 1138.8L485.9 1139.5L487.3 1140.1L488.6 1140.7L490.0 1141.4L491.4 1142.0L492.7 1142.6L494.1 1143.2L495.5 1143.8L496.9 1144.4L498.2 1145.0L499.6 1145.6L501.0 1146.2L502.4 1146.7L503.8 1147.3L505.2 1147.8L506.6 1148.4L508.0 1148.9L509.4 1149.5L510.8 1150.0L512.2 1150.5L513.6 1151.0L515.0 1151.5L516.4 1152.0L517.9 1152.5L519.3 1153.0L520.7 1153.4L522.1 1153.9L523.6 1154.3L525.0 1154.8L526.4 1155.2L527.9 1155.7L529.3 1156.1L530.7 1156.5L532.2 1156.9L533.6 1157.3L535.1 1157.7L536.5 1158.1L538.0 1158.5L539.4 1158.8L540.9 1159.2L542.3 1159.5L543.8 1159.9L545.2 1160.2L546.7 1160.5L548.1 1160.9L549.6 1161.2L551.1 1161.5L552.5 1161.8L554.0 1162.1L555.5 1162.4L557.0 1162.7L558.4 1162.9L559.9 1163.2L561.4 1163.5L562.8 1163.7L564.3 1164.0L565.8 1164.2L567.3 1164.4L568.8 1164.7L570.2 1164.9L571.7 1165.1L573.2 1165.3L574.7 1165.5L576.2 1165.8L577.7 1166.0L579.2 1166.1L580.7 1166.3L582.1 1166.5L583.6 1166.7L585.1 1166.9L586.6 1167.0L588.1 1167.2L589.6 1167.4L591.1 1167.5L592.6 1167.7L594.1 1167.8L595.6 1167.9L597.1 1168.1L598.6 1168.2L600.1 1168.3L601.6 1168.5L603.0 1168.6L604.5 1168.7L606.0 1168.8L607.5 1168.9L609.0 1169.0L610.5 1169.1L612.0 1169.2L613.5 1169.3L615.0 1169.4L616.5 1169.5L618.0 1169.6L619.5 1169.7L621.0 1169.8L622.5 1169.9L624.0 1169.9L625.5 1170.0L627.0 1170.1L628.5 1170.1L630.0 1170.2L631.5 1170.3L633.0 1170.3L634.5 1170.4L636.0 1170.4L637.5 1170.5L639.0 1170.5L640.5 1170.6L642.0 1170.6L643.5 1170.7L645.0 1170.7L646.5 1170.8L648.0 1170.8L649.5 1170.8L651.0 1170.9L652.5 1170.9L654.0 1170.9L655.5 1171.0L657.0 1171.0L658.5 1171.0L660.0 1171.0L661.5 1171.1L663.0 1171.1L664.5 1171.1L666.0 1171.1L667.5 1171.2L669.0 1171.2L670.5 1171.2L672.0 1171.2L673.5 1171.2L675.0 1171.2L676.5 1171.3L678.0 1171.3L679.5 1171.3L681.0 1171.3L682.5 1171.3L684.0 1171.3L685.5 1171.4L687.0 1171.4L688.5 1171.4L690.0 1171.4L691.5 1171.4L693.0 1171.4L694.5 1171.4L695.0 1171.5L1595.0 1171.5" stroke="#0000ff"/>
<path d="M173.1 715.1L174.1 716.2L175.1 717.3L176.1 718.4L177.1 719.6L178.1 720.7L179.0 721.8L180.0 722.9L181.0 724.1L182.0 725.2L182.9 726.4L183.9 727.5L184.8 728.7L185.8 729.8L186.7 731.0L187.7 732.2L188.6 733.3L189.5 734.5L190.5 735.7L191.4 736.9L192.3 738.1L193.2 739.3L194.1 740.5L195.0 741.7L195.9 742.9L196.8 744.1L197.7 745.3L198.6 746.5L199.4 747.7L200.3 748.9L201.2 750.1L202.1 751.4L202.9 752.6L203.8 753.8L204.6 755.1L205.5 756.3L206.3 757.5L207.2 758.8L208.0 760.0L208.8 761.3L209.7 762.5L210.5 763.8L211.3 765.0L212.2 766.3L213.0 767.5L213.8 768.8L214.6 770.1L215.4 771.3L216.2 772.6L217.0 773.9L217.8 775.1L218.6 776.4L219.4 777.7L220.2 779.0L221.0 780.2L221.8 781.5L222.6 782.8L223.3 784.1L224.1 785.4L224.9 786.7L225.7 787.9L226.4 789.2L227.2 790.5L228.0 791.8L228.7 793.1L229.5 794.4L230.2 795.7L231.0 797.0L231.8 798.3L232.5 799.6L233.3 800.9L234.0 802.2L234.8 803.5L235.5 804.8L236.3 806.1L237.0 807.4L237.7 808.7L238.5 810.0L239.2 811.3L240.0 812.6L240.7 813.9L241.4 815.2L242.2 816.5L242.9 817.9L243.6 819.2L244.3 820.5L245.1 821.8L245.8 823.1L246.5 824.4L247.3 825.7L248.0 827.0L248.7 828.3L249.4 829.7L250.2 831.0L250.9 832.3L251.6 833.6L252.3 834.9L253.0 836.2L253.8 837.6L254.5 838.9L255.2 840.2L255.9 841.5L256.6 842.8L257.4 844.1L258.1 845.4L258.8 846.8L259.5 848.1L260.2 849.4L261.0 850.7L261.7 852.0L262.4 853.3L263.1 854.7L263.9 856.0L264.6 857.3L265.3 858.6L266.0 859.9L266.7 861.2L267.5 862.5L268.2 863.9L268.9 865.2L269.6 866.5L270.4 867.8L271.1 869.1L271.8 870.4L272.6 871.7L273.3 873.0L274.0 874.3L274.8 875.6L275.5 876.9L276.2 878.3L277.0 879.6L277.7 880.9L278.5 882.2L279.2 883.5L279.9 884.8L280.7 886.1L281.4 887.4L282.2 888.7L282.9 890.0L283.7 891.3L284.4 892.6L285.2 893.8L285.9 895.1L286.7 896.4L287.5 897.7L288.2 899.0L289.0 900.3L289.7 901.6L290.5 902.9L291.3 904.2L292.0 905.5L292.8 906.8L293.6 908.0L294.4 909.3L295.1 910.6L295.9 911.9L296.7 913.2L297.4 914.5L298.2 915.7L299.0 917.0L299.8 918.3L300.6 919.6L301.3 920.9L302.1 922.1L302.9 923.4L303.7 924.7L304.5 926.0L305.3 927.3L306.0 928.5L306.8 929.8L307.6 931.1L308.4 932.4L309.2 933.6L310.0 934.9L310.8 936.2L311.6 937.4L312.4 938.7L313.2 940.0L314.0 941.3L314.8 942.5L315.6 943.8L316.4 945.1L317.2 946.3L318.0 947.6L318.8 948.9L319.6 950.1L320.4 951.4L321.2 952.7L322.0 954.0L322.8 955.2L323.6 956.5L324.4 957.8L325.2 959.0L326.0 960.3L326.8 961.6L327.6 962.8L328.4 964.1L329.2 965.4L330.0 966.6L330.8 967.9L331.6 969.1L332.4 970.4L333.2 971.7L334.0 972.9L334.8 974.2L335.6 975.5L336.5 976.7L337.3 978.0L338.1 979.3L338.9 980.5L339.7 981.8L340.5 983.1L341.3 984.3L342.1 985.6L342.9 986.8L343.7 988.1L344.6 989.4L345.4 990.6L346.2 991.9L347.0 993.1L347.8 994.4L348.6 995.7L349.5 996.9L350.3 998.2L351.1 999.4L351.9 1000.7L352.8 1001.9L353.6 1003.2L354.4 1004.4L355.3 1005.7L356.1 1006.9L356.9 1008.2L357.8 1009.4L358.6 1010.7L359.5 1011.9L360.3 1013.1L361.1 1014.4L362.0 1015.6L362.8 1016.8L363.7 1018.1L364.6 1019.3L365.4 1020.5L366.3 1021.7L367.2 1023.0L368.0 1024.2L368.9 1025.4L369.8 1026.6L370.7 1027.8L371.5 1029.0L372.4 1030.2L373.3 1031.5L374.2 1032.7L375.1 1033.9L376.0 1035.1L376.9 1036.2L377.8 1037.4L378.8 1038.6L379.7 1039.8L380.6 1041.0L381.5 1042.2L382.5 1043.3L383.4 1044.5L384.3 1045.7L385.3 1046.8L386.2 1048.0L387.2 1049.2L388.1 1050.3L389.1 1051.5L390.1 1052.6L391.0 1053.8L392.0 1054.9L393.0 1056.0L394.0 1057.2L395.0 1058.3L396.0 1059.4L397.0 1060.5L398.0 1061.7L399.0 1062.8L400.0 1063.9L401.0 1065.0L402.0 1066.1L403.1 1067.2L404.1 1068.3L405.1 1069.4L406.2 1070.5L407.2 1071.5L408.2 1072.6L409.3 1073.7L410.4 1074.8L411.4 1075.8L412.5 1076.9L413.5 1077.9L414.6 1079.0L415.7 1080.0L416.8 1081.1L417.8 1082.1L418.9 1083.2L420.0 1084.2L421.1 1085.2L422.2 1086.3L423.3 1087.3L424.4 1088.3L425.5 1089.3L426.7 1090.3L427.8 1091.3L428.9 1092.3L430.0 1093.3L431.1 1094.3L432.3 1095.3L433.4 1096.2L434.6 1097.2L435.7 1098.2L436.8 1099.1L438.0 1100.1L439.2 1101.1L440.3 1102.0L441.5 1102.9L442.6 1103.9L443.8 1104.8L445.0 1105.8L446.2 1106.7L447.4 1107.6L448.5 1108.5L449.7 1109.4L450.9 1110.3L452.1 1111.2L453.3 1112.1L454.5 1113.0L455.7 1113.9L457.0 1114.8L458.2 1115.6L459.4 1116.5L460.6 1117.4L461.8 1118.2L463.1 1119.1L464.3 1119.9L465.6 1120.7L466.8 1121.6L468.1 1122.4L469.3 1123.2L470.6 1124.0L471.8 1124.8L473.1 1125.6L474.4 1126.4L475.6 1127.2L476.9 1128.0L478.2 1128.8L479.5 1129.6L480.8 1130.3L482.1 1131.1L483.4 1131.9L484.7 1132.6L486.0 1133.3L487.3 1134.1L488.6 1134.8L489.9 1135.5L491.2 1136.2L492.6 1137.0L493.9 1137.7L495.2 1138.4L496.6 1139.0L497.9 1139.7L499.2 1140.4L500.6 1141.1L501.9 1141.7L503.3 1142.4L504.7 1143.0L506.0 1143.7L507.4 1144.3L508.8 1144.9L510.1 1145.5L511.5 1146.1L512.9 1146.7L514.3 1147.3L515.7 1147.9L517.1 1148.5L518.4 1149.0L519.8 1149.6L521.2 1150.2L522.6 1150.7L524.0 1151.2L525.5 1151.8L526.9 1152.3L528.3 1152.8L529.7 1153.3L531.1 1153.8L532.5 1154.2L534.0 1154.7L535.4 1155.2L536.8 1155.6L538.2 1156.1L539.7 1156.5L541.1 1156.9L542.6 1157.3L544.0 1157.7L545.4 1158.1L546.9 1158.5L548.3 1158.9L549.8 1159.3L551.2 1159.6L552.7 1160.0L554.1 1160.3L555.6 1160.6L557.1 1161.0L558.5 1161.3L560.0 1161.6L561.5 1161.9L562.9 1162.2L564.4 1162.5L565.9 1162.7L567.3 1163.0L568.8 1163.3L570.3 1163.5L571.8 1163.8L573.2 1164.0L574.7 1164.2L576.2 1164.5L577.7 1164.7L579.2 1164.9L580.6 1165.1L582.1 1165.3L583.6 1165.5L585.1 1165.7L586.6 1165.9L588.1 1166.1L589.6 1166.2L591.1 1166.4L592.6 1166.6L594.0 1166.7L595.5 1166.9L597.0 1167.1L598.5 1167.2L600.0 1167.3L601.5 1167.5L603.0 1167.6L604.5 1167.8L606.0 1167.9L607.5 1168.0L609.0 1168.1L610.5 1168.3L612.0 1168.4L613.5 1168.5L615.0 1168.6L616.5 1168.7L618.0 1168.8L619.5 1168.9L621.0 1169.0L622.5 1169.1L624.0 1169.2L625.5 1169.3L627.0 1169.4L628.4 1169.5L629.9 1169.6L631.4 1169.7L632.9 1169.8L634.4 1169.9L635.9 1169.9L637.4 1170.0L638.9 1170.1L640.4 1170.2L641.9 1170.2L643.4 1170.3L644.9 1170.4L646.4 1170.4L647.9 1170.5L649.4 1170.5L650.9 1170.6L652.4 1170.6L653.9 1170.7L655.4 1170.7L656.9 1170.8L658.4 1170.8L659.9 1170.9L661.4 1170.9L662.9 1171.0L664.4 1171.0L665.9 1171.0L667.4 1171.1L668.9 1171.1L670.4 1171.1L671.9 1171.2L673.4 1171.2L674.9 1171.2L676.4 1171.2L677.9 1171.3L679.4 1171.3L680.9 1171.3L682.4 1171.3L683.9 1171.3L685.4 1171.4L686.9 1171.4L688.4 1171.4L689.9 1171.4L691.4 1171.4L692.9 1171.4L694.4 1171.4L695.9 1171.4L697.4 1171.4L698.9 1171.4L700.4 1171.4L701.9 1171.5L703.4 1171.5L704.9 1171.5L705.0 1171.5L1595.0 1171.5" stroke="#0000ff"/>
<path d="M173.1 715.1L174.0 713.9L174.9 712.7L175.8 711.5L176.7 710.4L177.6 709.2L178.5 708.0L179.4 706.8L180.3 705.6L181.3 704.4L182.2 703.2L183.1 702.1L184.0 700.9L184.9 699.7L185.8 698.5L186.7 697.3L187.7 696.1L188.6 694.9L189.5 693.8L190.4 692.6L191.3 691.4L192.2 690.2L193.1 689.0L194.1 687.8L195.0 686.6L195.9 685.4L196.8 684.3L197.7 683.1L198.7 681.9L199.6 680.7L200.5 679.5L201.4 678.3L202.3 677.1L203.3 676.0L204.2 674.8L205.1 673.6L206.0 672.4L206.9 671.2L207.9 670.0L208.8 668.8L209.7 667.7L210.6 666.5L211.6 665.3L212.5 664.1L213.4 662.9L214.3 661.7L215.3 660.5L216.2 659.4L217.1 658.2L218.0 657.0L219.0 655.8L219.9 654.6L220.8 653.4L221.8 652.3L222.7 651.1L223.6 649.9L224.5 648.7L225.5 647.5L226.4 646.4L227.3 645.2L228.3 644.0L229.2 642.8L230.1 641.6L231.1 640.5L232.0 639.3L232.9 638.1L233.9 636.9L234.8 635.7L235.7 634.6L236.7 633.4L237.6 632.2L238.5 631.0L239.5 629.9L240.4 628.7L241.3 627.5L242.3 626.4L243.2 625.2L244.1 624.0L245.1 622.8L246.0 621.7L247.0 620.5L247.9 619.3L248.8 618.2L249.8 617.0L250.7 615.8L251.7 614.7L252.6 613.5L253.5 612.3L254.5 611.2L255.4 610.0L256.4 608.8L257.3 607.7L258.3 606.5L259.2 605.4L260.2 604.2L261.1 603.1L262.1 601.9L263.0 600.7L264.0 599.6L264.9 598.4L265.9 597.3L266.8 596.1L267.8 595.0L268.8 593.8L269.7 592.7L270.7 591.5L271.7 590.4L272.6 589.3L273.6 588.1L274.6 587.0L275.5 585.8L276.5 584.7L277.5 583.6L278.5 582.4L279.4 581.3L280.4 580.2L281.4 579.0L282.4 577.9L283.4 576.8L284.3 575.7L285.3 574.5L286.3 573.4L287.3 572.3L288.3 571.2L289.3 570.1L290.3 568.9L291.3 567.8L292.3 566.7L293.3 565.6L294.3 564.5L295.4 563.4L296.4 562.3L297.4 561.2L298.4 560.1L299.4 559.0L300.5 557.9L301.5 556.8L302.5 555.7L303.6 554.6L304.6 553.5L305.6 552.4L306.7 551.4L307.7 550.3L308.8 549.2L309.8 548.1L310.9 547.0L311.9 546.0L313.0 544.9L314.1 543.9L315.1 542.8L316.2 541.7L317.3 540.7L318.4 539.6L319.4 538.6L320.5 537.6L321.6 536.5L322.7 535.5L323.8 534.5L324.9 533.5L326.0 532.4L327.1 531.4L328.3 530.4L329.4 529.4L330.5 528.4L331.6 527.5L332.8 526.5L333.9 525.5L335.1 524.5L336.2 523.6L337.4 522.6L338.5 521.7L339.7 520.7L340.9 519.8L342.1 518.9L343.2 517.9L344.4 517.0L345.6 516.1L346.8 515.2L348.0 514.3L349.2 513.4L350.5 512.6L351.7 511.7L352.9 510.9L354.1 510.0L355.4 509.2L356.6 508.3L357.9 507.5L359.1 506.7L360.4 505.9L361.7 505.1L362.9 504.3L364.2 503.5L365.5 502.8L366.8 502.0L368.1 501.3L369.4 500.5L370.7 499.8L372.0 499.1L373.4 498.4L374.7 497.7L376.0 497.0L377.4 496.4L378.7 495.7L380.1 495.1L381.4 494.5L382.8 493.8L384.2 493.2L385.6 492.6L386.9 492.1L388.3 491.5L389.7 490.9L391.1 490.4L392.5 489.9L394.0 489.3L395.4 488.8L396.8 488.4L398.3 487.9L399.7 487.5L401.1 487.0L402.6 486.6L404.0 486.2L405.5 485.8L406.9 485.5L408.4 485.1L409.9 484.8L411.3 484.5L412.8 484.3L414.3 484.0L415.8 483.8L417.3 483.6L418.7 483.4L420.2 483.2L421.7 483.1L423.2 483.0L424.7 482.9L426.2 482.9L427.7 482.9L429.2 482.9L430.6 482.9L432.1 483.0L433.6 483.1L435.1 483.2L436.6 483.3L438.1 483.5L439.6 483.7L441.1 483.9L442.5 484.2L444.0 484.4L445.5 484.7L447.0 485.0L448.4 485.4L449.9 485.8L451.4 486.1L452.8 486.6L454.3 487.0L455.7 487.5L457.1 487.9L458.6 488.4L460.0 488.9L461.4 489.5L462.8 490.0L464.2 490.6L465.6 491.2L466.9 491.8L468.3 492.4L469.7 493.1L471.0 493.7L472.4 494.4L473.7 495.1L475.0 495.8L476.3 496.6L477.6 497.3L478.9 498.1L480.2 498.8L481.5 499.6L482.7 500.4L484.0 501.2L485.2 502.0L486.5 502.9L487.7 503.7L488.9 504.6L490.2 505.5L491.4 506.3L492.6 507.2L493.8 508.1L494.9 509.1L496.1 510.0L497.3 510.9L498.5 511.9L499.6 512.8L500.8 513.8L501.9 514.8L503.1 515.7L504.2 516.7L505.3 517.7L506.4 518.7L507.5 519.7L508.7 520.7L509.8 521.7L510.8 522.8L511.9 523.8L513.0 524.8L514.1 525.9L515.2 526.9L516.2 528.0L517.3 529.0L518.4 530.1L519.4 531.2L520.4 532.2L521.5 533.3L522.5 534.4L523.5 535.5L524.6 536.6L525.6 537.7L526.6 538.8L527.6 539.9L528.6 541.0L529.6 542.1L530.6 543.3L531.6 544.4L532.6 545.5L533.5 546.7L534.5 547.8L535.5 548.9L536.5 550.1L537.4 551.3L538.4 552.4L539.3 553.6L540.3 554.7L541.2 555.9L542.1 557.1L543.1 558.2L544.0 559.4L544.9 560.6L545.8 561.8L546.8 563.0L547.7 564.2L548.6 565.4L549.5 566.6L550.4 567.8L551.3 569.0L552.2 570.2L553.1 571.4L553.9 572.6L554.8 573.8L555.7 575.0L556.6 576.2L557.4 577.5L558.3 578.7L559.2 579.9L560.0 581.1L560.9 582.4L561.7 583.6L562.6 584.8L563.4 586.1L564.3 587.3L565.1 588.6L566.0 589.8L566.8 591.0L567.6 592.3L568.5 593.5L569.3 594.8L570.1 596.1L570.9 597.3L571.7 598.6L572.5 599.8L573.4 601.1L574.2 602.4L575.0 603.6L575.8 604.9L576.6 606.2L577.4 607.4L578.2 608.7L578.9 610.0L579.7 611.3L580.5 612.5L581.3 613.8L582.1 615.1L582.9 616.4L583.6 617.7L584.4 619.0L585.2 620.2L586.0 621.5L586.7 622.8L587.5 624.1L588.3 625.4L589.0 626.7L589.8 628.0L590.5 629.3L591.3 630.6L592.0 631.9L592.8 633.2L593.6 634.5L594.3 635.8L595.0 637.1L595.8 638.4L596.5 639.7L597.3 641.0L598.0 642.3L598.8 643.6L599.5 644.9L600.2 646.2L601.0 647.5L601.7 648.8L602.4 650.1L603.2 651.5L603.9 652.8L604.6 654.1L605.3 655.4L606.1 656.7L606.8 658.0L607.5 659.3L608.2 660.7L608.9 662.0L609.6 663.3L610.4 664.6L611.1 665.9L611.8 667.2L612.5 668.6L613.2 669.9L613.9 671.2L614.6 672.5L615.3 673.9L616.0 675.2L616.7 676.5L617.4 677.8L618.1 679.2L618.8 680.5L619.5 681.8L620.2 683.1L620.9 684.5L621.6 685.8L622.3 687.1L623.0 688.4L623.7 689.8L624.4 691.1L625.1 692.4L625.8 693.8L626.5 695.1L627.2 696.4L627.9 697.8L628.6 699.1L629.2 700.4L629.9 701.8L630.6 703.1L631.3 704.4L632.0 705.8L632.7 707.1L633.4 708.4L634.0 709.8L634.7 711.1L635.4 712.4L636.1 713.8L636.8 715.1L637.5 716.4L638.1 717.8L638.8 719.1L639.5 720.5L640.2 721.8L640.8 723.1L641.5 724.5L642.2 725.8L642.9 727.1L643.6 728.5L644.2 729.8L644.9 731.2L645.6 732.5L646.2 733.8L646.9 735.2L647.6 736.5L648.3 737.9L648.9 739.2L649.6 740.5L650.3 741.9L651.0 743.2L651.6 744.6L652.3 745.9L653.0 747.3L653.6 748.6L654.3 749.9L655.0 751.3L655.6 752.6L656.3 754.0L657.0 755.3L657.6 756.7L658.3 758.0L659.0 759.3L659.6 760.7L660.3 762.0L661.0 763.4L661.6 764.7L662.3 766.1L662.9 767.4L663.6 768.8L664.3 770.1L664.9 771.5L665.6 772.8L666.3 774.1L666.9 775.5L667.6 776.8L668.2 778.2L668.9 779.5L669.6 780.9L670.2 782.2L670.9 783.6L671.5 784.9L672.2 786.3L672.8 787.6L673.5 789.0L674.2 790.3L674.8 791.7L675.5 793.0L676.1 794.4L676.8 795.7L677.4 797.1L678.1 798.4L678.8 799.8L679.4 801.1L680.1 802.5L680.7 803.8L681.4 805.2L682.0 806.5L682.7 807.9L683.3 809.2L684.0 810.6L684.7 811.9L685.3 813.3L686.0 814.6L686.6 816.0L687.3 817.3L687.9 818.7L688.6 820.0L689.2 821.4L689.9 822.7L690.5 824.1L691.2 825.4L691.8 826.8L692.5 828.1L693.2 829.5L693.8 830.8L694.5 832.2L695.1 833.5L695.8 834.9L696.4 836.2L697.1 837.6L697.7 838.9L698.4 840.3L699.0 841.6L699.7 843.0L700.4 844.3L701.0 845.7L701.7 847.0L702.3 848.4L703.0 849.7L703.6 851.1L704.3 852.4L705.0 853.8L705.6 855.1L706.3 856.5L706.9 857.8L707.6 859.2L708.2 860.5L708.9 861.8L709.6 863.2L710.2 864.5L710.9 865.9L711.6 867.2L712.2 868.6L712.9 869.9L713.5 871.3L714.2 872.6L714.9 874.0L715.5 875.3L716.2 876.7L716.9 878.0L717.5 879.3L718.2 880.7L718.9 882.0L719.5 883.4L720.2 884.7L720.9 886.0L721.6 887.4L722.2 888.7L722.9 890.1L723.6 891.4L724.3 892.8L724.9 894.1L725.6 895.4L726.3 896.8L727.0 898.1L727.6 899.4L728.3 900.8L729.0 902.1L729.7 903.4L730.4 904.8L731.1 906.1L731.7 907.5L732.4 908.8L733.1 910.1L733.8 911.4L734.5 912.8L735.2 914.1L735.9 915.4L736.6 916.8L737.3 918.1L737.9 919.4L738.6 920.8L739.3 922.1L740.0 923.4L740.7 924.7L741.4 926.1L742.1 927.4L742.8 928.7L743.5 930.0L744.3 931.4L745.0 932.7L745.7 934.0L746.4 935.3L747.1 936.6L747.8 938.0L748.5 939.3L749.2 940.6L749.9 941.9L750.7 943.2L751.4 944.5L752.1 945.9L752.8 947.2L753.5 948.5L754.3 949.8L755.0 951.1L755.7 952.4L756.5 953.7L757.2 955.0L757.9 956.3L758.7 957.6L759.4 958.9L760.1 960.3L760.9 961.6L761.6 962.9L762.4 964.2L763.1 965.5L763.8 966.8L764.6 968.1L765.3 969.4L766.1 970.7L766.8 972.0L767.6 973.3L768.4 974.5L769.1 975.8L769.9 977.1L770.6 978.4L771.4 979.7L772.2 981.0L772.9 982.3L773.7 983.6L774.5 984.9L775.3 986.1L776.0 987.4L776.8 988.7L777.6 990.0L778.4 991.3L779.2 992.6L779.9 993.8L780.7 995.1L781.5 996.4L782.3 997.7L783.1 998.9L783.9 1000.2L784.7 1001.5L785.5 1002.7L786.3 1004.0L787.1 1005.3L787.9 1006.5L788.7 1007.8L789.6 1009.1L790.4 1010.3L791.2 1011.6L792.0 1012.8L792.8 1014.1L793.7 1015.3L794.5 1016.6L795.3 1017.8L796.2 1019.1L797.0 1020.3L797.8 1021.6L798.7 1022.8L799.5 1024.1L800.4 1025.3L801.2 1026.5L802.1 1027.8L802.9 1029.0L803.8 1030.2L804.7 1031.5L805.5 1032.7L806.4 1033.9L807.3 1035.1L808.1 1036.4L809.0 1037.6L809.9 1038.8L810.8 1040.0L811.7 1041.2L812.5 1042.4L813.4 1043.6L814.3 1044.8L815.2 1046.0L816.1 1047.2L817.0 1048.4L817.9 1049.6L818.9 1050.8L819.8 1052.0L820.7 1053.2L821.6 1054.4L822.5 1055.6L823.5 1056.7L824.4 1057.9L825.3 1059.1L826.3 1060.3L827.2 1061.4L828.2 1062.6L829.1 1063.8L830.1 1064.9L831.0 1066.1L832.0 1067.2L832.9 1068.4L833.9 1069.5L834.9 1070.6L835.9 1071.8L836.8 1072.9L837.8 1074.0L838.8 1075.2L839.8 1076.3L840.8 1077.4L841.8 1078.5L842.8 1079.6L843.8 1080.7L844.9 1081.8L845.9 1082.9L846.9 1084.0L847.9 1085.1L849.0 1086.2L850.0 1087.3L851.0 1088.3L852.1 1089.4L853.1 1090.5L854.2 1091.5L855.3 1092.6L856.3 1093.6L857.4 1094.7L858.5 1095.7L859.6 1096.8L860.7 1097.8L861.8 1098.8L862.9 1099.8L864.0 1100.9L865.1 1101.9L866.2 1102.9L867.3 1103.9L868.4 1104.9L869.6 1105.8L870.7 1106.8L871.8 1107.8L873.0 1108.8L874.1 1109.7L875.3 1110.7L876.5 1111.6L877.6 1112.6L878.8 1113.5L880.0 1114.4L881.2 1115.4L882.3 1116.3L883.5 1117.2L884.7 1118.1L885.9 1119.0L887.2 1119.9L888.4 1120.7L889.6 1121.6L890.8 1122.5L892.0 1123.3L893.3 1124.2L894.5 1125.0L895.8 1125.9L897.0 1126.7L898.3 1127.5L899.5 1128.3L900.8 1129.1L902.1 1129.9L903.4 1130.7L904.6 1131.5L905.9 1132.2L907.2 1133.0L908.5 1133.7L909.8 1134.5L911.1 1135.2L912.5 1135.9L913.8 1136.6L915.1 1137.3L916.4 1138.0L917.8 1138.7L919.1 1139.4L920.5 1140.1L921.8 1140.7L923.2 1141.4L924.5 1142.0L925.9 1142.7L927.2 1143.3L928.6 1143.9L930.0 1144.5L931.3 1145.1L932.7 1145.7L934.1 1146.3L935.5 1146.9L936.9 1147.4L938.3 1148.0L939.7 1148.6L941.1 1149.1L942.5 1149.6L943.9 1150.1L945.3 1150.6L946.7 1151.1L948.1 1151.6L949.6 1152.1L951.0 1152.6L952.4 1153.1L953.8 1153.5L955.3 1154.0L956.7 1154.4L958.1 1154.8L959.6 1155.2L961.0 1155.7L962.5 1156.1L963.9 1156.5L965.4 1156.8L966.8 1157.2L968.3 1157.6L969.7 1158.0L971.2 1158.3L972.6 1158.7L974.1 1159.0L975.5 1159.3L977.0 1159.7L978.5 1160.0L979.9 1160.3L981.4 1160.6L982.9 1160.9L984.3 1161.2L985.8 1161.5L987.3 1161.7L988.8 1162.0L990.2 1162.3L991.7 1162.6L993.2 1162.8L994.7 1163.1L996.2 1163.3L997.6 1163.6L999.1 1163.8L1000.6 1164.0L1002.1 1164.3L1003.6 1164.5L1005.1 1164.7L1006.5 1164.9L1008.0 1165.1L1009.5 1165.3L1011.0 1165.5L1012.5 1165.8L1014.0 1166.0L1015.5 1166.1L1017.0 1166.3L1018.4 1166.5L1019.9 1166.7L1021.4 1166.9L1022.9 1167.1L1024.4 1167.3L1025.9 1167.4L1027.4 1167.6L1028.9 1167.8L1030.4 1167.9L1031.9 1168.1L1033.4 1168.2L1034.8 1168.4L1036.3 1168.6L1037.8 1168.7L1039.3 1168.8L1040.8 1169.0L1042.3 1169.1L1043.8 1169.3L1045.3 1169.4L1046.8 1169.5L1048.3 1169.6L1049.8 1169.7L1051.3 1169.9L1052.8 1170.0L1054.3 1170.1L1055.8 1170.2L1057.3 1170.3L1058.8 1170.4L1060.3 1170.5L1061.8 1170.6L1063.3 1170.6L1064.8 1170.7L1066.3 1170.8L1067.7 1170.9L1069.2 1170.9L1070.7 1171.0L1072.2 1171.1L1073.7 1171.1L1075.2 1171.2L1076.7 1171.2L1078.2 1171.3L1079.7 1171.3L1081.2 1171.3L1082.7 1171.4L1084.2 1171.4L1085.7 1171.4L1087.2 1171.4L1088.7 1171.4L1090.0 1171.5L1595.0 1171.5" stroke="#0000ff" stroke-dasharray="25 13.3"/>
<path d="M173.1 715.1L174.3 714.2L175.5 713.3L176.7 712.4L177.9 711.5L179.1 710.6L180.3 709.7L181.5 708.8L182.7 707.9L183.9 707.0L185.1 706.1L186.3 705.2L187.5 704.3L188.7 703.4L189.9 702.5L191.1 701.6L192.3 700.7L193.5 699.8L194.6 698.9L195.8 698.0L197.0 697.1L198.2 696.2L199.4 695.3L200.6 694.4L201.8 693.4L203.0 692.5L204.2 691.6L205.4 690.7L206.5 689.8L207.7 688.9L208.9 687.9L210.1 687.0L211.3 686.1L212.5 685.2L213.6 684.2L214.8 683.3L216.0 682.4L217.2 681.5L218.3 680.5L219.5 679.6L220.7 678.7L221.9 677.7L223.0 676.8L224.2 675.9L225.4 674.9L226.5 674.0L227.7 673.0L228.9 672.1L230.1 671.1L231.2 670.2L232.4 669.3L233.5 668.3L234.7 667.4L235.9 666.4L237.0 665.5L238.2 664.5L239.3 663.6L240.5 662.6L241.7 661.6L242.8 660.7L244.0 659.7L245.1 658.8L246.3 657.8L247.4 656.8L248.6 655.9L249.7 654.9L250.9 653.9L252.0 653.0L253.1 652.0L254.3 651.0L255.4 650.1L256.6 649.1L257.7 648.1L258.9 647.1L260.0 646.2L261.1 645.2L262.3 644.2L263.4 643.2L264.6 642.3L265.7 641.3L266.8 640.3L268.0 639.3L269.1 638.4L270.2 637.4L271.4 636.4L272.5 635.4L273.6 634.4L274.8 633.5L275.9 632.5L277.1 631.5L278.2 630.5L279.3 629.5L280.5 628.6L281.6 627.6L282.7 626.6L283.9 625.6L285.0 624.6L286.1 623.7L287.3 622.7L288.4 621.7L289.5 620.7L290.7 619.7L291.8 618.8L293.0 617.8L294.1 616.8L295.2 615.8L296.4 614.9L297.5 613.9L298.7 612.9L299.8 611.9L300.9 611.0L302.1 610.0L303.2 609.0L304.4 608.0L305.5 607.1L306.7 606.1L307.8 605.1L309.0 604.2L310.1 603.2L311.3 602.3L312.4 601.3L313.6 600.3L314.7 599.4L315.9 598.4L317.0 597.5L318.2 596.5L319.3 595.5L320.5 594.6L321.7 593.6L322.8 592.7L324.0 591.7L325.2 590.8L326.3 589.9L327.5 588.9L328.7 588.0L329.8 587.0L331.0 586.1L332.2 585.2L333.4 584.2L334.5 583.3L335.7 582.4L336.9 581.5L338.1 580.5L339.3 579.6L340.5 578.7L341.7 577.8L342.8 576.9L344.0 576.0L345.2 575.1L346.4 574.2L347.6 573.3L348.8 572.4L350.1 571.5L351.3 570.6L352.5 569.7L353.7 568.8L354.9 567.9L356.1 567.1L357.4 566.2L358.6 565.3L359.8 564.5L361.0 563.6L362.3 562.8L363.5 561.9L364.7 561.1L366.0 560.2L367.2 559.4L368.5 558.6L369.7 557.7L371.0 556.9L372.3 556.1L373.5 555.3L374.8 554.5L376.1 553.7L377.3 552.9L378.6 552.1L379.9 551.3L381.2 550.5L382.4 549.8L383.7 549.0L385.0 548.2L386.3 547.5L387.6 546.7L388.9 546.0L390.2 545.3L391.6 544.5L392.9 543.8L394.2 543.1L395.5 542.4L396.8 541.7L398.2 541.0L399.5 540.3L400.8 539.6L402.2 538.9L403.5 538.3L404.9 537.6L406.2 537.0L407.6 536.3L409.0 535.7L410.3 535.1L411.7 534.5L413.1 533.9L414.4 533.3L415.8 532.7L417.2 532.1L418.6 531.5L420.0 531.0L421.4 530.4L422.8 529.9L424.2 529.3L425.6 528.8L427.0 528.3L428.4 527.8L429.8 527.3L431.2 526.8L432.7 526.4L434.1 525.9L435.5 525.5L437.0 525.0L438.4 524.6L439.8 524.2L441.3 523.8L442.7 523.4L444.2 523.0L445.7 522.7L447.1 522.3L448.6 522.0L450.0 521.6L451.5 521.3L453.0 521.0L454.4 520.7L455.9 520.5L457.4 520.2L458.9 520.0L460.3 519.8L461.8 519.5L463.3 519.3L464.8 519.2L466.3 519.0L467.8 518.9L469.3 518.7L470.7 518.6L472.2 518.5L473.7 518.4L475.2 518.4L476.7 518.3L478.2 518.3L479.7 518.3L481.2 518.3L482.7 518.3L484.2 518.3L485.7 518.4L487.2 518.4L488.7 518.5L490.2 518.6L491.7 518.8L493.2 518.9L494.7 519.1L496.2 519.2L497.6 519.4L499.1 519.6L500.6 519.9L502.1 520.1L503.6 520.3L505.1 520.6L506.5 520.9L508.0 521.2L509.5 521.5L510.9 521.9L512.4 522.2L513.9 522.6L515.3 523.0L516.8 523.4L518.2 523.8L519.6 524.2L521.1 524.7L522.5 525.1L523.9 525.6L525.3 526.1L526.8 526.6L528.2 527.1L529.6 527.6L531.0 528.2L532.4 528.7L533.7 529.3L535.1 529.9L536.5 530.5L537.9 531.1L539.2 531.7L540.6 532.4L541.9 533.0L543.3 533.7L544.6 534.3L545.9 535.0L547.3 535.7L548.6 536.4L549.9 537.2L551.2 537.9L552.5 538.6L553.8 539.4L555.1 540.2L556.4 540.9L557.6 541.7L558.9 542.5L560.2 543.3L561.4 544.1L562.7 545.0L563.9 545.8L565.2 546.6L566.4 547.5L567.6 548.4L568.9 549.2L570.1 550.1L571.3 551.0L572.5 551.9L573.7 552.8L574.9 553.7L576.1 554.6L577.2 555.5L578.4 556.5L579.6 557.4L580.7 558.4L581.9 559.3L583.1 560.3L584.2 561.3L585.3 562.2L586.5 563.2L587.6 564.2L588.7 565.2L589.8 566.2L591.0 567.2L592.1 568.2L593.2 569.2L594.3 570.3L595.4 571.3L596.5 572.3L597.5 573.4L598.6 574.4L599.7 575.5L600.8 576.5L601.8 577.6L602.9 578.7L603.9 579.7L605.0 580.8L606.0 581.9L607.1 583.0L608.1 584.1L609.1 585.2L610.2 586.2L611.2 587.3L612.2 588.5L613.2 589.6L614.2 590.7L615.2 591.8L616.2 592.9L617.2 594.0L618.2 595.1L619.2 596.3L620.2 597.4L621.2 598.5L622.2 599.7L623.2 600.8L624.1 601.9L625.1 603.1L626.1 604.2L627.0 605.4L628.0 606.5L628.9 607.7L629.9 608.9L630.8 610.0L631.8 611.2L632.7 612.4L633.7 613.5L634.6 614.7L635.5 615.9L636.5 617.0L637.4 618.2L638.3 619.4L639.2 620.6L640.2 621.8L641.1 623.0L642.0 624.1L642.9 625.3L643.8 626.5L644.7 627.7L645.6 628.9L646.5 630.1L647.4 631.3L648.3 632.5L649.2 633.7L650.1 634.9L651.0 636.2L651.9 637.4L652.7 638.6L653.6 639.8L654.5 641.0L655.4 642.2L656.2 643.4L657.1 644.7L658.0 645.9L658.9 647.1L659.7 648.3L660.6 649.6L661.4 650.8L662.3 652.0L663.2 653.2L664.0 654.5L664.9 655.7L665.7 656.9L666.6 658.2L667.4 659.4L668.3 660.6L669.1 661.9L670.0 663.1L670.8 664.3L671.7 665.6L672.5 666.8L673.3 668.1L674.2 669.3L675.0 670.6L675.8 671.8L676.7 673.1L677.5 674.3L678.3 675.5L679.2 676.8L680.0 678.1L680.8 679.3L681.6 680.6L682.4 681.8L683.3 683.1L684.1 684.3L684.9 685.6L685.7 686.8L686.5 688.1L687.3 689.4L688.1 690.6L688.9 691.9L689.8 693.2L690.6 694.4L691.4 695.7L692.2 697.0L693.0 698.2L693.8 699.5L694.6 700.8L695.4 702.0L696.1 703.3L696.9 704.6L697.7 705.8L698.5 707.1L699.3 708.4L700.1 709.7L700.9 711.0L701.7 712.2L702.4 713.5L703.2 714.8L704.0 716.1L704.8 717.4L705.6 718.6L706.3 719.9L707.1 721.2L707.9 722.5L708.7 723.8L709.4 725.1L710.2 726.4L711.0 727.6L711.7 728.9L712.5 730.2L713.3 731.5L714.0 732.8L714.8 734.1L715.6 735.4L716.3 736.7L717.1 738.0L717.8 739.3L718.6 740.6L719.3 741.9L720.1 743.2L720.8 744.5L721.6 745.8L722.3 747.1L723.1 748.4L723.8 749.7L724.6 751.0L725.3 752.3L726.1 753.6L726.8 754.9L727.6 756.2L728.3 757.5L729.1 758.8L729.8 760.1L730.6 761.4L731.3 762.7L732.0 764.0L732.8 765.3L733.5 766.6L734.3 767.9L735.0 769.2L735.7 770.5L736.5 771.8L737.2 773.1L738.0 774.4L738.7 775.8L739.4 777.1L740.2 778.4L740.9 779.7L741.6 781.0L742.4 782.3L743.1 783.6L743.8 784.9L744.6 786.2L745.3 787.5L746.0 788.9L746.8 790.2L747.5 791.5L748.2 792.8L749.0 794.1L749.7 795.4L750.4 796.7L751.2 798.0L751.9 799.3L752.6 800.6L753.4 802.0L754.1 803.3L754.8 804.6L755.6 805.9L756.3 807.2L757.0 808.5L757.8 809.8L758.5 811.1L759.2 812.4L760.0 813.7L760.7 815.1L761.4 816.4L762.2 817.7L762.9 819.0L763.6 820.3L764.4 821.6L765.1 822.9L765.8 824.2L766.6 825.5L767.3 826.8L768.0 828.1L768.8 829.4L769.5 830.7L770.3 832.0L771.0 833.4L771.7 834.7L772.5 836.0L773.2 837.3L774.0 838.6L774.7 839.9L775.4 841.2L776.2 842.5L776.9 843.8L777.7 845.1L778.4 846.4L779.1 847.7L779.9 849.0L780.6 850.3L781.4 851.6L782.1 852.9L782.9 854.2L783.6 855.5L784.3 856.8L785.1 858.1L785.8 859.4L786.6 860.7L787.3 862.0L788.1 863.3L788.8 864.6L789.6 865.9L790.3 867.2L791.1 868.5L791.8 869.8L792.6 871.1L793.3 872.4L794.1 873.7L794.8 875.0L795.6 876.3L796.3 877.6L797.1 878.9L797.8 880.2L798.6 881.5L799.3 882.8L800.1 884.1L800.8 885.4L801.6 886.7L802.3 888.0L803.1 889.3L803.8 890.6L804.6 891.9L805.4 893.2L806.1 894.5L806.9 895.8L807.6 897.1L808.4 898.4L809.1 899.6L809.9 900.9L810.7 902.2L811.4 903.5L812.2 904.8L812.9 906.1L813.7 907.4L814.5 908.7L815.2 910.0L816.0 911.3L816.7 912.6L817.5 913.9L818.3 915.2L819.0 916.5L819.8 917.8L820.6 919.0L821.3 920.3L822.1 921.6L822.9 922.9L823.6 924.2L824.4 925.5L825.2 926.8L825.9 928.1L826.7 929.4L827.5 930.7L828.2 932.0L829.0 933.2L829.8 934.5L830.5 935.8L831.3 937.1L832.1 938.4L832.9 939.7L833.6 941.0L834.4 942.3L835.2 943.5L836.0 944.8L836.8 946.1L837.5 947.4L838.3 948.7L839.1 950.0L839.9 951.2L840.7 952.5L841.5 953.8L842.2 955.1L843.0 956.4L843.8 957.6L844.6 958.9L845.4 960.2L846.2 961.5L847.0 962.7L847.8 964.0L848.6 965.3L849.4 966.6L850.2 967.8L851.0 969.1L851.8 970.4L852.6 971.6L853.4 972.9L854.2 974.2L855.0 975.4L855.8 976.7L856.6 978.0L857.4 979.2L858.3 980.5L859.1 981.7L859.9 983.0L860.7 984.2L861.5 985.5L862.4 986.8L863.2 988.0L864.0 989.3L864.8 990.5L865.7 991.8L866.5 993.0L867.3 994.2L868.2 995.5L869.0 996.7L869.9 998.0L870.7 999.2L871.6 1000.4L872.4 1001.7L873.2 1002.9L874.1 1004.2L875.0 1005.4L875.8 1006.6L876.7 1007.8L877.5 1009.1L878.4 1010.3L879.3 1011.5L880.1 1012.7L881.0 1014.0L881.9 1015.2L882.7 1016.4L883.6 1017.6L884.5 1018.8L885.4 1020.0L886.3 1021.2L887.1 1022.4L888.0 1023.6L888.9 1024.9L889.8 1026.1L890.7 1027.3L891.6 1028.4L892.5 1029.6L893.4 1030.8L894.3 1032.0L895.2 1033.2L896.2 1034.4L897.1 1035.6L898.0 1036.8L898.9 1037.9L899.8 1039.1L900.8 1040.3L901.7 1041.5L902.6 1042.6L903.6 1043.8L904.5 1045.0L905.4 1046.1L906.4 1047.3L907.3 1048.5L908.3 1049.6L909.2 1050.8L910.2 1051.9L911.2 1053.1L912.1 1054.2L913.1 1055.4L914.1 1056.5L915.0 1057.7L916.0 1058.8L917.0 1059.9L918.0 1061.1L919.0 1062.2L920.0 1063.3L921.0 1064.4L922.0 1065.6L923.0 1066.7L924.0 1067.8L925.0 1068.9L926.0 1070.0L927.0 1071.1L928.0 1072.2L929.0 1073.3L930.1 1074.4L931.1 1075.5L932.1 1076.6L933.2 1077.7L934.2 1078.7L935.3 1079.8L936.3 1080.9L937.4 1082.0L938.4 1083.0L939.5 1084.1L940.5 1085.1L941.6 1086.2L942.7 1087.2L943.8 1088.3L944.9 1089.3L945.9 1090.4L947.0 1091.4L948.1 1092.4L949.2 1093.4L950.3 1094.4L951.4 1095.4L952.6 1096.4L953.7 1097.4L954.8 1098.4L955.9 1099.4L957.1 1100.4L958.2 1101.4L959.3 1102.4L960.5 1103.3L961.6 1104.3L962.8 1105.2L963.9 1106.2L965.1 1107.1L966.3 1108.1L967.5 1109.0L968.6 1109.9L969.8 1110.9L971.0 1111.8L972.2 1112.7L973.4 1113.6L974.6 1114.5L975.8 1115.4L977.0 1116.3L978.2 1117.1L979.4 1118.0L980.7 1118.9L981.9 1119.7L983.1 1120.6L984.4 1121.4L985.6 1122.3L986.9 1123.1L988.1 1123.9L989.4 1124.7L990.6 1125.6L991.9 1126.4L993.2 1127.2L994.4 1127.9L995.7 1128.7L997.0 1129.5L998.3 1130.3L999.6 1131.0L1000.9 1131.8L1002.2 1132.5L1003.5 1133.3L1004.8 1134.0L1006.1 1134.7L1007.4 1135.4L1008.7 1136.2L1010.1 1136.9L1011.4 1137.5L1012.7 1138.2L1014.1 1138.9L1015.4 1139.6L1016.8 1140.2L1018.1 1140.9L1019.5 1141.5L1020.8 1142.2L1022.2 1142.8L1023.6 1143.4L1024.9 1144.0L1026.3 1144.7L1027.7 1145.2L1029.1 1145.8L1030.4 1146.4L1031.8 1147.0L1033.2 1147.6L1034.6 1148.1L1036.0 1148.7L1037.4 1149.2L1038.8 1149.7L1040.2 1150.2L1041.6 1150.8L1043.0 1151.3L1044.5 1151.8L1045.9 1152.3L1047.3 1152.7L1048.7 1153.2L1050.1 1153.7L1051.6 1154.1L1053.0 1154.6L1054.4 1155.0L1055.9 1155.4L1057.3 1155.8L1058.8 1156.3L1060.2 1156.7L1061.7 1157.1L1063.1 1157.4L1064.6 1157.8L1066.0 1158.2L1067.5 1158.5L1068.9 1158.9L1070.4 1159.2L1071.8 1159.6L1073.3 1159.9L1074.8 1160.2L1076.2 1160.5L1077.7 1160.8L1079.2 1161.1L1080.7 1161.4L1082.1 1161.7L1083.6 1161.9L1085.1 1162.2L1086.6 1162.4L1088.0 1162.7L1089.5 1162.9L1091.0 1163.2L1092.5 1163.4L1094.0 1163.6L1095.5 1163.8L1096.9 1164.1L1098.4 1164.3L1099.9 1164.5L1101.4 1164.7L1102.9 1164.8L1104.4 1165.0L1105.9 1165.2L1107.4 1165.4L1108.9 1165.6L1110.4 1165.7L1111.9 1165.9L1113.4 1166.0L1114.8 1166.2L1116.3 1166.3L1117.8 1166.5L1119.3 1166.6L1120.8 1166.8L1122.3 1166.9L1123.8 1167.0L1125.3 1167.2L1126.8 1167.3L1128.3 1167.4L1129.8 1167.5L1131.3 1167.7L1132.8 1167.8L1134.3 1167.9L1135.8 1168.0L1137.3 1168.1L1138.8 1168.2L1140.3 1168.3L1141.8 1168.4L1143.3 1168.5L1144.8 1168.6L1146.3 1168.7L1147.8 1168.8L1149.3 1168.9L1150.8 1169.0L1152.2 1169.1L1153.7 1169.2L1155.2 1169.3L1156.7 1169.3L1158.2 1169.4L1159.7 1169.5L1161.2 1169.6L1162.7 1169.6L1164.2 1169.7L1165.7 1169.8L1167.2 1169.9L1168.7 1169.9L1170.2 1170.0L1171.7 1170.1L1173.2 1170.1L1174.7 1170.2L1176.2 1170.2L1177.7 1170.3L1179.2 1170.3L1180.7 1170.4L1182.2 1170.5L1183.7 1170.5L1185.2 1170.6L1186.7 1170.6L1188.1 1170.6L1189.6 1170.7L1191.1 1170.7L1192.6 1170.8L1194.1 1170.8L1195.6 1170.9L1197.1 1170.9L1198.6 1170.9L1200.1 1171.0L1201.6 1171.0L1203.1 1171.0L1204.6 1171.1L1206.1 1171.1L1207.6 1171.1L1209.1 1171.2L1210.6 1171.2L1212.1 1171.2L1213.6 1171.3L1215.1 1171.3L1216.6 1171.3L1218.2 1171.3L1219.7 1171.4L1221.2 1171.4L1222.7 1171.4L1224.2 1171.4L1225.0 1171.5L1595.0 1171.5" stroke="#0000ff" stroke-dasharray="25 13.3"/>
<path d="M173.1 715.1L174.6 715.1L176.1 715.2L177.6 715.2L179.1 715.2L180.6 715.2L182.1 715.2L183.6 715.2L185.1 715.2L186.6 715.1L188.1 715.1L189.5 715.0L191.0 714.9L192.5 714.8L194.0 714.7L195.5 714.6L197.0 714.5L198.5 714.4L200.0 714.3L201.5 714.1L203.0 714.0L204.5 713.8L206.0 713.6L207.4 713.5L208.9 713.3L210.4 713.1L211.9 712.9L213.4 712.7L214.9 712.5L216.3 712.2L217.8 712.0L219.3 711.8L220.8 711.5L222.3 711.3L223.7 711.0L225.2 710.7L226.7 710.5L228.2 710.2L229.6 709.9L231.1 709.6L232.6 709.3L234.1 709.0L235.5 708.7L237.0 708.4L238.5 708.1L239.9 707.8L241.4 707.5L242.9 707.1L244.3 706.8L245.8 706.5L247.3 706.1L248.7 705.8L250.2 705.4L251.6 705.1L253.1 704.7L254.6 704.3L256.0 704.0L257.5 703.6L258.9 703.2L260.4 702.8L261.8 702.4L263.3 702.0L264.7 701.6L266.2 701.2L267.6 700.8L269.1 700.4L270.5 700.0L272.0 699.6L273.4 699.2L274.8 698.7L276.3 698.3L277.7 697.9L279.2 697.4L280.6 697.0L282.0 696.5L283.5 696.1L284.9 695.6L286.3 695.2L287.8 694.7L289.2 694.2L290.6 693.8L292.0 693.3L293.4 692.8L294.9 692.3L296.3 691.8L297.7 691.3L299.1 690.8L300.5 690.3L301.9 689.8L303.4 689.3L304.8 688.8L306.2 688.3L307.6 687.8L309.0 687.3L310.4 686.7L311.8 686.2L313.2 685.7L314.6 685.2L316.0 684.6L317.4 684.1L318.8 683.5L320.2 683.0L321.6 682.4L322.9 681.9L324.3 681.3L325.7 680.8L327.1 680.2L328.5 679.6L329.9 679.1L331.3 678.5L332.6 677.9L334.0 677.3L335.4 676.7L336.8 676.2L338.1 675.6L339.5 675.0L340.9 674.4L342.3 673.8L343.6 673.2L345.0 672.6L346.4 672.0L347.8 671.4L349.1 670.8L350.5 670.2L351.9 669.6L353.2 669.0L354.6 668.4L356.0 667.8L357.3 667.2L358.7 666.6L360.1 665.9L361.4 665.3L362.8 664.7L364.2 664.1L365.5 663.5L366.9 662.8L368.2 662.2L369.6 661.6L371.0 661.0L372.3 660.3L373.7 659.7L375.0 659.1L376.4 658.4L377.8 657.8L379.1 657.2L380.5 656.5L381.8 655.9L383.2 655.3L384.6 654.6L385.9 654.0L387.3 653.4L388.6 652.7L390.0 652.1L391.4 651.5L392.7 650.8L394.1 650.2L395.4 649.6L396.8 648.9L398.2 648.3L399.5 647.6L400.9 647.0L402.2 646.4L403.6 645.7L405.0 645.1L406.3 644.5L407.7 643.8L409.1 643.2L410.4 642.6L411.8 641.9L413.2 641.3L414.5 640.7L415.9 640.0L417.2 639.4L418.6 638.8L420.0 638.1L421.4 637.5L422.7 636.9L424.1 636.3L425.5 635.6L426.8 635.0L428.2 634.4L429.6 633.8L430.9 633.1L432.3 632.5L433.7 631.9L435.1 631.3L436.4 630.7L437.8 630.1L439.2 629.5L440.6 628.8L441.9 628.2L443.3 627.6L444.7 627.0L446.1 626.4L447.4 625.8L448.8 625.2L450.2 624.6L451.6 624.0L453.0 623.4L454.3 622.9L455.7 622.3L457.1 621.7L458.5 621.1L459.9 620.5L461.3 619.9L462.7 619.4L464.0 618.8L465.4 618.2L466.8 617.7L468.2 617.1L469.6 616.5L471.0 616.0L472.4 615.4L473.8 614.9L475.2 614.3L476.6 613.8L478.0 613.2L479.4 612.7L480.8 612.2L482.2 611.6L483.6 611.1L485.0 610.6L486.4 610.1L487.8 609.5L489.2 609.0L490.6 608.5L492.0 608.0L493.4 607.5L494.8 607.0L496.3 606.5L497.7 606.0L499.1 605.5L500.5 605.0L501.9 604.6L503.3 604.1L504.8 603.6L506.2 603.1L507.6 602.7L509.0 602.2L510.5 601.8L511.9 601.3L513.3 600.9L514.7 600.4L516.2 600.0L517.6 599.6L519.0 599.1L520.5 598.7L521.9 598.3L523.3 597.9L524.8 597.5L526.2 597.1L527.7 596.7L529.1 596.3L530.5 595.9L532.0 595.5L533.4 595.2L534.9 594.8L536.3 594.4L537.8 594.1L539.2 593.7L540.7 593.4L542.2 593.0L543.6 592.7L545.1 592.4L546.5 592.0L548.0 591.7L549.5 591.4L550.9 591.1L552.4 590.8L553.9 590.5L555.3 590.2L556.8 589.9L558.3 589.6L559.8 589.4L561.3 589.1L562.7 588.9L564.2 588.6L565.7 588.4L567.2 588.1L568.7 587.9L570.1 587.7L571.6 587.5L573.1 587.3L574.6 587.1L576.1 586.9L577.6 586.7L579.1 586.5L580.6 586.3L582.1 586.2L583.6 586.0L585.1 585.9L586.5 585.7L588.0 585.6L589.5 585.5L591.0 585.4L592.5 585.3L594.0 585.2L595.5 585.1L597.0 585.0L598.5 584.9L600.0 584.9L601.5 584.8L603.0 584.8L604.5 584.8L606.0 584.7L607.5 584.7L609.0 584.7L610.5 584.7L612.0 584.7L613.5 584.7L615.0 584.8L616.5 584.8L618.0 584.9L619.5 584.9L621.0 585.0L622.5 585.1L624.0 585.2L625.5 585.3L627.0 585.4L628.5 585.5L630.0 585.6L631.5 585.8L633.0 585.9L634.5 586.1L636.0 586.2L637.5 586.4L639.0 586.6L640.5 586.8L642.0 587.0L643.4 587.2L644.9 587.5L646.4 587.7L647.9 588.0L649.4 588.2L650.8 588.5L652.3 588.8L653.8 589.1L655.2 589.4L656.7 589.7L658.2 590.0L659.6 590.3L661.1 590.7L662.5 591.0L664.0 591.4L665.4 591.8L666.9 592.2L668.3 592.6L669.8 593.0L671.2 593.4L672.7 593.8L674.1 594.2L675.5 594.7L676.9 595.1L678.4 595.6L679.8 596.1L681.2 596.6L682.6 597.1L684.0 597.6L685.4 598.1L686.8 598.6L688.2 599.2L689.6 599.7L691.0 600.3L692.4 600.8L693.8 601.4L695.2 602.0L696.6 602.5L697.9 603.1L699.3 603.7L700.7 604.4L702.1 605.0L703.4 605.6L704.8 606.2L706.1 606.9L707.5 607.5L708.8 608.2L710.2 608.9L711.5 609.5L712.9 610.2L714.2 610.9L715.5 611.6L716.9 612.3L718.2 613.0L719.5 613.7L720.8 614.4L722.1 615.2L723.5 615.9L724.8 616.6L726.1 617.4L727.4 618.1L728.7 618.9L730.0 619.7L731.2 620.4L732.5 621.2L733.8 622.0L735.1 622.8L736.4 623.6L737.6 624.4L738.9 625.2L740.2 626.0L741.4 626.8L742.7 627.6L743.9 628.4L745.2 629.3L746.4 630.1L747.6 630.9L748.9 631.8L750.1 632.6L751.3 633.5L752.6 634.4L753.8 635.2L755.0 636.1L756.2 637.0L757.4 637.9L758.6 638.8L759.9 639.7L761.1 640.5L762.3 641.5L763.4 642.4L764.6 643.3L765.8 644.2L767.0 645.1L768.2 646.0L769.4 647.0L770.5 647.9L771.7 648.8L772.9 649.8L774.0 650.7L775.2 651.7L776.3 652.6L777.5 653.6L778.6 654.6L779.8 655.5L780.9 656.5L782.1 657.5L783.2 658.5L784.3 659.4L785.5 660.4L786.6 661.4L787.7 662.4L788.8 663.4L789.9 664.4L791.0 665.4L792.1 666.4L793.3 667.5L794.4 668.5L795.5 669.5L796.5 670.5L797.6 671.5L798.7 672.6L799.8 673.6L800.9 674.7L802.0 675.7L803.1 676.7L804.1 677.8L805.2 678.8L806.3 679.9L807.3 680.9L808.4 682.0L809.5 683.1L810.5 684.1L811.6 685.2L812.6 686.3L813.7 687.3L814.7 688.4L815.8 689.5L816.8 690.6L817.8 691.7L818.9 692.7L819.9 693.8L820.9 694.9L822.0 696.0L823.0 697.1L824.0 698.2L825.0 699.3L826.1 700.4L827.1 701.5L828.1 702.6L829.1 703.7L830.1 704.8L831.1 705.9L832.1 707.1L833.1 708.2L834.1 709.3L835.1 710.4L836.1 711.5L837.1 712.6L838.1 713.8L839.1 714.9L840.1 716.0L841.1 717.2L842.1 718.3L843.1 719.4L844.0 720.6L845.0 721.7L846.0 722.8L847.0 724.0L848.0 725.1L848.9 726.2L849.9 727.4L850.9 728.5L851.8 729.7L852.8 730.8L853.8 732.0L854.7 733.1L855.7 734.3L856.6 735.4L857.6 736.6L858.6 737.7L859.5 738.9L860.5 740.1L861.4 741.2L862.4 742.4L863.3 743.5L864.2 744.7L865.2 745.9L866.1 747.0L867.1 748.2L868.0 749.4L869.0 750.5L869.9 751.7L870.8 752.9L871.8 754.1L872.7 755.2L873.6 756.4L874.6 757.6L875.5 758.8L876.4 759.9L877.3 761.1L878.3 762.3L879.2 763.5L880.1 764.7L881.0 765.9L881.9 767.0L882.9 768.2L883.8 769.4L884.7 770.6L885.6 771.8L886.5 773.0L887.5 774.2L888.4 775.3L889.3 776.5L890.2 777.7L891.1 778.9L892.0 780.1L892.9 781.3L893.8 782.5L894.7 783.7L895.6 784.9L896.5 786.1L897.4 787.3L898.3 788.5L899.2 789.7L900.2 790.9L901.1 792.1L902.0 793.3L902.9 794.5L903.7 795.7L904.6 796.9L905.5 798.1L906.4 799.3L907.3 800.5L908.2 801.7L909.1 802.9L910.0 804.1L910.9 805.3L911.8 806.5L912.7 807.7L913.6 808.9L914.5 810.2L915.4 811.4L916.2 812.6L917.1 813.8L918.0 815.0L918.9 816.2L919.8 817.4L920.7 818.6L921.6 819.8L922.4 821.1L923.3 822.3L924.2 823.5L925.1 824.7L926.0 825.9L926.8 827.1L927.7 828.3L928.6 829.6L929.5 830.8L930.4 832.0L931.2 833.2L932.1 834.4L933.0 835.6L933.9 836.9L934.7 838.1L935.6 839.3L936.5 840.5L937.4 841.7L938.2 843.0L939.1 844.2L940.0 845.4L940.8 846.6L941.7 847.8L942.6 849.1L943.5 850.3L944.3 851.5L945.2 852.7L946.1 854.0L946.9 855.2L947.8 856.4L948.7 857.6L949.5 858.9L950.4 860.1L951.3 861.3L952.1 862.5L953.0 863.8L953.9 865.0L954.7 866.2L955.6 867.4L956.5 868.7L957.3 869.9L958.2 871.1L959.1 872.3L959.9 873.6L960.8 874.8L961.7 876.0L962.5 877.2L963.4 878.5L964.3 879.7L965.1 880.9L966.0 882.1L966.8 883.4L967.7 884.6L968.6 885.8L969.4 887.1L970.3 888.3L971.2 889.5L972.0 890.7L972.9 892.0L973.8 893.2L974.6 894.4L975.5 895.6L976.3 896.9L977.2 898.1L978.1 899.3L978.9 900.5L979.8 901.8L980.7 903.0L981.5 904.2L982.4 905.4L983.3 906.7L984.1 907.9L985.0 909.1L985.8 910.4L986.7 911.6L987.6 912.8L988.4 914.0L989.3 915.2L990.2 916.5L991.0 917.7L991.9 918.9L992.8 920.1L993.6 921.4L994.5 922.6L995.4 923.8L996.3 925.0L997.1 926.3L998.0 927.5L998.9 928.7L999.7 929.9L1000.6 931.1L1001.5 932.4L1002.4 933.6L1003.2 934.8L1004.1 936.0L1005.0 937.2L1005.9 938.4L1006.7 939.7L1007.6 940.9L1008.5 942.1L1009.4 943.3L1010.2 944.5L1011.1 945.7L1012.0 947.0L1012.9 948.2L1013.8 949.4L1014.7 950.6L1015.5 951.8L1016.4 953.0L1017.3 954.2L1018.2 955.4L1019.1 956.7L1020.0 957.9L1020.9 959.1L1021.8 960.3L1022.6 961.5L1023.5 962.7L1024.4 963.9L1025.3 965.1L1026.2 966.3L1027.1 967.5L1028.0 968.7L1028.9 969.9L1029.8 971.1L1030.7 972.3L1031.6 973.5L1032.5 974.7L1033.4 975.9L1034.3 977.1L1035.2 978.3L1036.1 979.5L1037.1 980.7L1038.0 981.9L1038.9 983.1L1039.8 984.3L1040.7 985.5L1041.6 986.6L1042.5 987.8L1043.5 989.0L1044.4 990.2L1045.3 991.4L1046.2 992.6L1047.1 993.8L1048.1 994.9L1049.0 996.1L1049.9 997.3L1050.9 998.5L1051.8 999.7L1052.7 1000.8L1053.7 1002.0L1054.6 1003.2L1055.5 1004.3L1056.5 1005.5L1057.4 1006.7L1058.4 1007.8L1059.3 1009.0L1060.3 1010.2L1061.2 1011.3L1062.2 1012.5L1063.1 1013.7L1064.1 1014.8L1065.0 1016.0L1066.0 1017.1L1066.9 1018.3L1067.9 1019.4L1068.9 1020.6L1069.8 1021.7L1070.8 1022.9L1071.8 1024.0L1072.7 1025.2L1073.7 1026.3L1074.7 1027.4L1075.7 1028.6L1076.7 1029.7L1077.6 1030.8L1078.6 1032.0L1079.6 1033.1L1080.6 1034.2L1081.6 1035.4L1082.6 1036.5L1083.6 1037.6L1084.6 1038.7L1085.6 1039.8L1086.6 1041.0L1087.6 1042.1L1088.6 1043.2L1089.6 1044.3L1090.6 1045.4L1091.6 1046.5L1092.6 1047.6L1093.7 1048.7L1094.7 1049.8L1095.7 1050.9L1096.7 1052.0L1097.8 1053.1L1098.8 1054.2L1099.8 1055.3L1100.9 1056.3L1101.9 1057.4L1102.9 1058.5L1104.0 1059.6L1105.0 1060.6L1106.1 1061.7L1107.2 1062.8L1108.2 1063.8L1109.3 1064.9L1110.3 1066.0L1111.4 1067.0L1112.5 1068.1L1113.5 1069.1L1114.6 1070.1L1115.7 1071.2L1116.8 1072.2L1117.9 1073.3L1118.9 1074.3L1120.0 1075.3L1121.1 1076.3L1122.2 1077.4L1123.3 1078.4L1124.4 1079.4L1125.5 1080.4L1126.7 1081.4L1127.8 1082.4L1128.9 1083.4L1130.0 1084.4L1131.1 1085.4L1132.3 1086.4L1133.4 1087.3L1134.5 1088.3L1135.7 1089.3L1136.8 1090.3L1138.0 1091.2L1139.1 1092.2L1140.3 1093.2L1141.4 1094.1L1142.6 1095.1L1143.8 1096.0L1144.9 1096.9L1146.1 1097.9L1147.3 1098.8L1148.5 1099.7L1149.6 1100.7L1150.8 1101.6L1152.0 1102.5L1153.2 1103.4L1154.4 1104.3L1155.6 1105.2L1156.8 1106.1L1158.0 1107.0L1159.3 1107.8L1160.5 1108.7L1161.7 1109.6L1162.9 1110.5L1164.1 1111.3L1165.4 1112.2L1166.6 1113.0L1167.9 1113.9L1169.1 1114.7L1170.3 1115.5L1171.6 1116.4L1172.9 1117.2L1174.1 1118.0L1175.4 1118.8L1176.6 1119.6L1177.9 1120.4L1179.2 1121.2L1180.5 1122.0L1181.7 1122.8L1183.0 1123.6L1184.3 1124.3L1185.6 1125.1L1186.9 1125.9L1188.2 1126.6L1189.5 1127.3L1190.8 1128.1L1192.1 1128.8L1193.4 1129.5L1194.7 1130.3L1196.1 1131.0L1197.4 1131.7L1198.7 1132.4L1200.1 1133.1L1201.4 1133.7L1202.7 1134.4L1204.1 1135.1L1205.4 1135.7L1206.8 1136.4L1208.1 1137.1L1209.5 1137.7L1210.8 1138.3L1212.2 1139.0L1213.6 1139.6L1214.9 1140.2L1216.3 1140.8L1217.7 1141.4L1219.0 1142.0L1220.4 1142.6L1221.8 1143.2L1223.2 1143.7L1224.6 1144.3L1226.0 1144.9L1227.4 1145.4L1228.8 1146.0L1230.2 1146.5L1231.6 1147.0L1233.0 1147.5L1234.4 1148.1L1235.8 1148.6L1237.2 1149.1L1238.6 1149.6L1240.0 1150.0L1241.5 1150.5L1242.9 1151.0L1244.3 1151.4L1245.8 1151.9L1247.2 1152.3L1248.6 1152.8L1250.1 1153.2L1251.5 1153.6L1252.9 1154.0L1254.4 1154.5L1255.8 1154.9L1257.3 1155.3L1258.7 1155.6L1260.2 1156.0L1261.6 1156.4L1263.1 1156.8L1264.5 1157.1L1266.0 1157.5L1267.5 1157.8L1268.9 1158.1L1270.4 1158.5L1271.9 1158.8L1273.3 1159.1L1274.8 1159.4L1276.3 1159.7L1277.7 1160.0L1279.2 1160.3L1280.7 1160.6L1282.2 1160.9L1283.6 1161.2L1285.1 1161.5L1286.6 1161.7L1288.1 1162.0L1289.5 1162.3L1291.0 1162.5L1292.5 1162.8L1294.0 1163.0L1295.5 1163.2L1297.0 1163.5L1298.5 1163.7L1299.9 1163.9L1301.4 1164.2L1302.9 1164.4L1304.4 1164.6L1305.9 1164.8L1307.4 1165.0L1308.9 1165.2L1310.4 1165.4L1311.8 1165.6L1313.3 1165.8L1314.8 1166.0L1316.3 1166.2L1317.8 1166.4L1319.3 1166.5L1320.8 1166.7L1322.3 1166.9L1323.8 1167.1L1325.3 1167.2L1326.7 1167.4L1328.2 1167.5L1329.7 1167.7L1331.2 1167.9L1332.7 1168.0L1334.2 1168.2L1335.7 1168.3L1337.2 1168.4L1338.7 1168.6L1340.2 1168.7L1341.6 1168.9L1343.1 1169.0L1344.6 1169.1L1346.1 1169.2L1347.6 1169.3L1349.1 1169.5L1350.6 1169.6L1352.1 1169.7L1353.6 1169.8L1355.1 1169.9L1356.6 1170.0L1358.1 1170.1L1359.6 1170.2L1361.0 1170.3L1362.5 1170.4L1364.0 1170.5L1365.5 1170.5L1367.0 1170.6L1368.5 1170.7L1370.0 1170.8L1371.5 1170.8L1373.0 1170.9L1374.5 1170.9L1376.0 1171.0L1377.5 1171.1L1379.0 1171.1L1380.5 1171.2L1382.0 1171.2L1383.5 1171.2L1385.0 1171.3L1386.5 1171.3L1388.0 1171.3L1389.5 1171.4L1391.0 1171.4L1392.5 1171.4L1394.0 1171.4L1395.5 1171.4L1397.0 1171.4L1398.5 1171.4L1400.0 1171.4L1595.0 1171.5" stroke="#0000ff" stroke-dasharray="25 13.3"/>
</g>
<g id="arrows" shape-rendering="crispEdges">
<line x1="230.2" y1="1056.6" x2="398.8" y2="911.8" stroke="#000" stroke-width="4.1"/><polygon points="420.3,893.3 407.9,924.6 387.5,900.9" fill="#000" stroke="#000" stroke-width="1" stroke-linejoin="round"/>
<line x1="1060.9" y1="800.4" x2="704.1" y2="1068.5" stroke="#000" stroke-width="4.1"/><polygon points="680.6,1086.1 696.2,1055.4 714.4,1079.7" fill="#000" stroke="#000" stroke-width="1" stroke-linejoin="round"/>
</g>
<g id="legend1">
<g shape-rendering="crispEdges">
<line x1="1000" y1="122.2" x2="1175.3" y2="120.3" stroke="#000" stroke-width="6.2"/>
<line x1="1000" y1="186.2" x2="1173.6" y2="185" stroke="#000" stroke-width="6.4" stroke-dasharray="19.9 18.3"/>
</g>
<text transform="translate(1207.20 136.10) scale(1 1.000)" font-family="'Liberation Sans','DejaVu Sans',sans-serif" font-size="47.70" fill="#000">First solution</text>
<text transform="translate(1207.80 196.90) scale(1 1.000)" font-family="'Liberation Sans','DejaVu Sans',sans-serif" font-size="47.70" fill="#000">Second solution</text>
</g>
<g id="box1">
<rect x="951.3" y="249.2" width="552.6" height="96" fill="#fff" stroke="#808080" stroke-width="3.3"/>
<text font-family="'Liberation Serif','DejaVu Serif',serif" fill="#000"><tspan x="980.41" y="305.00" font-size="49.30" textLength="31.45" lengthAdjust="spacingAndGlyphs" font-style="italic">φ</tspan><tspan x="1011.35" y="311.90" font-size="33.30" textLength="16.47" lengthAdjust="spacingAndGlyphs" stroke="#000" stroke-width="0.90" stroke-linejoin="round">1</tspan> <tspan x="1042.00" y="308.00" font-size="49.30" textLength="40.72" lengthAdjust="spacingAndGlyphs">=</tspan> <tspan x="1094.42" y="305.00" font-size="49.30" textLength="31.11" lengthAdjust="spacingAndGlyphs" font-style="italic">φ</tspan><tspan x="1125.20" y="311.90" font-size="33.30" textLength="17.59" lengthAdjust="spacingAndGlyphs" stroke="#000" stroke-width="0.90" stroke-linejoin="round">2</tspan> <tspan x="1155.80" y="308.00" font-size="49.30" textLength="40.72" lengthAdjust="spacingAndGlyphs">=</tspan> <tspan x="1207.60" y="305.00" font-size="49.30" textLength="24.30" lengthAdjust="spacingAndGlyphs" stroke="#000" stroke-width="0.90" stroke-linejoin="round">0</tspan><tspan x="1232.21" y="305.00" font-size="49.30" textLength="12.48" lengthAdjust="spacingAndGlyphs" stroke="#000" stroke-width="0.60" stroke-linejoin="round">.</tspan><tspan x="1245.33" y="305.00" font-size="49.30" textLength="23.95" lengthAdjust="spacingAndGlyphs" stroke="#000" stroke-width="0.90" stroke-linejoin="round">0</tspan><tspan x="1269.36" y="305.00" font-size="49.30" textLength="23.29" lengthAdjust="spacingAndGlyphs" stroke="#000" stroke-width="0.90" stroke-linejoin="round">1</tspan><tspan x="1294.78" y="305.00" font-size="54.23" textLength="11.92" lengthAdjust="spacingAndGlyphs" stroke="#000" stroke-width="0.60" stroke-linejoin="round">,</tspan> <tspan x="1325.71" y="305.00" font-size="49.30" textLength="24.13" lengthAdjust="spacingAndGlyphs" font-style="italic" stroke="#000" stroke-width="0.90" stroke-linejoin="round">λ</tspan> <tspan x="1361.33" y="308.00" font-size="49.30" textLength="40.48" lengthAdjust="spacingAndGlyphs">=</tspan> <tspan x="1413.78" y="307.80" font-size="49.30" textLength="36.48" lengthAdjust="spacingAndGlyphs">−</tspan><tspan x="1450.38" y="305.00" font-size="49.30" textLength="23.15" lengthAdjust="spacingAndGlyphs" stroke="#000" stroke-width="0.90" stroke-linejoin="round">1</tspan></text>
</g>
<g id="box2">
<rect x="1047" y="382.2" width="451.3" height="203" fill="#fff" stroke="#808080" stroke-width="3.6"/>
<g shape-rendering="crispEdges">
<line x1="1069" y1="418.5" x2="1245" y2="417.2" stroke="#ff0000" stroke-width="6.1"/>
<line x1="1069" y1="455.4" x2="1242.3" y2="454.3" stroke="#ff0000" stroke-width="6.2" stroke-dasharray="20 18.2"/>
<line x1="1066" y1="519.2" x2="1241" y2="517.7" stroke="#0000ff" stroke-width="6.1"/>
<line x1="1069" y1="552.6" x2="1242.3" y2="551.5" stroke="#0000ff" stroke-width="6.2" stroke-dasharray="20 18.2"/>
</g>
<text font-family="'Liberation Serif','DejaVu Serif',serif" fill="#000"><tspan x="1291.54" y="433.90" font-size="46.83" textLength="20.99" lengthAdjust="spacingAndGlyphs" font-style="italic" stroke="#000" stroke-width="0.60" stroke-linejoin="round">s</tspan> <tspan x="1324.24" y="436.90" font-size="49.30" textLength="40.36" lengthAdjust="spacingAndGlyphs">=</tspan> <tspan x="1376.35" y="433.90" font-size="49.30" textLength="23.59" lengthAdjust="spacingAndGlyphs" stroke="#000" stroke-width="0.90" stroke-linejoin="round">0</tspan><tspan x="1400.04" y="433.90" font-size="49.30" textLength="13.12" lengthAdjust="spacingAndGlyphs" stroke="#000" stroke-width="0.60" stroke-linejoin="round">.</tspan><tspan x="1413.28" y="433.90" font-size="49.30" textLength="24.70" lengthAdjust="spacingAndGlyphs" stroke="#000" stroke-width="0.90" stroke-linejoin="round">2</tspan></text>
<text font-family="'Liberation Serif','DejaVu Serif',serif" fill="#000"><tspan x="1291.54" y="548.40" font-size="46.83" textLength="20.99" lengthAdjust="spacingAndGlyphs" font-style="italic" stroke="#000" stroke-width="0.60" stroke-linejoin="round">s</tspan> <tspan x="1324.24" y="551.40" font-size="49.30" textLength="40.36" lengthAdjust="spacingAndGlyphs">=</tspan> <tspan x="1377.01" y="551.20" font-size="49.30" textLength="36.12" lengthAdjust="spacingAndGlyphs">−</tspan><tspan x="1413.13" y="548.40" font-size="49.30" textLength="23.95" lengthAdjust="spacingAndGlyphs" stroke="#000" stroke-width="0.90" stroke-linejoin="round">0</tspan><tspan x="1437.60" y="548.40" font-size="49.30" textLength="12.91" lengthAdjust="spacingAndGlyphs" stroke="#000" stroke-width="0.60" stroke-linejoin="round">.</tspan><tspan x="1450.71" y="548.40" font-size="49.30" textLength="24.32" lengthAdjust="spacingAndGlyphs" stroke="#000" stroke-width="0.90" stroke-linejoin="round">2</tspan></text>
</g>
<g id="qlabel">
<text font-family="'Liberation Serif','DejaVu Serif',serif" fill="#000"><tspan x="1084.37" y="798.30" font-size="52.26" textLength="37.64" lengthAdjust="spacingAndGlyphs" font-style="italic" stroke="#000" stroke-width="0.70" stroke-linejoin="round">Q</tspan> <tspan x="1134.35" y="801.30" font-size="49.30" textLength="40.24" lengthAdjust="spacingAndGlyphs">=</tspan> <tspan x="1186.54" y="801.10" font-size="49.30" textLength="36.96" lengthAdjust="spacingAndGlyphs">−</tspan><tspan x="1223.95" y="798.30" font-size="49.30" textLength="23.59" lengthAdjust="spacingAndGlyphs" stroke="#000" stroke-width="0.90" stroke-linejoin="round">0</tspan><tspan x="1248.35" y="798.30" font-size="49.30" textLength="12.69" lengthAdjust="spacingAndGlyphs" stroke="#000" stroke-width="0.60" stroke-linejoin="round">.</tspan><tspan x="1261.03" y="798.30" font-size="49.30" textLength="22.87" lengthAdjust="spacingAndGlyphs" stroke="#000" stroke-width="0.90" stroke-linejoin="round">1</tspan><tspan x="1285.73" y="798.30" font-size="54.23" textLength="13.60" lengthAdjust="spacingAndGlyphs" stroke="#000" stroke-width="0.60" stroke-linejoin="round">,</tspan> <tspan x="1305.84" y="798.30" font-size="49.30" textLength="23.71" lengthAdjust="spacingAndGlyphs" stroke="#000" stroke-width="0.90" stroke-linejoin="round">0</tspan><tspan x="1330.05" y="798.30" font-size="49.30" textLength="12.69" lengthAdjust="spacingAndGlyphs" stroke="#000" stroke-width="0.60" stroke-linejoin="round">.</tspan><tspan x="1344.05" y="798.30" font-size="49.30" textLength="23.59" lengthAdjust="spacingAndGlyphs" stroke="#000" stroke-width="0.90" stroke-linejoin="round">0</tspan><tspan x="1366.79" y="798.30" font-size="49.30" textLength="13.33" lengthAdjust="spacingAndGlyphs" stroke="#000" stroke-width="0.60" stroke-linejoin="round">.</tspan><tspan x="1379.23" y="798.30" font-size="49.30" textLength="22.87" lengthAdjust="spacingAndGlyphs" stroke="#000" stroke-width="0.90" stroke-linejoin="round">1</tspan></text>
</g>
<g id="axlabels">
<text font-family="'Liberation Serif','DejaVu Serif',serif" fill="#262626"><tspan x="867.90" y="1302.70" font-size="52.80" textLength="30.67" lengthAdjust="spacingAndGlyphs" font-style="italic">η</tspan></text>
<text font-family="'Liberation Serif','DejaVu Serif',serif" fill="#262626" transform="translate(54.6 602.0) rotate(-90)"><tspan x="-47.35" y="0.00" font-size="54.90" textLength="26.62" lengthAdjust="spacingAndGlyphs" font-style="italic">θ</tspan><tspan x="-17.94" y="0.00" font-size="59.60" textLength="16.60" lengthAdjust="spacingAndGlyphs" stroke="#262626" stroke-width="0.30" stroke-linejoin="round">(</tspan><tspan x="-1.32" y="0.00" font-size="52.50" textLength="30.91" lengthAdjust="spacingAndGlyphs" font-style="italic">η</tspan><tspan x="29.43" y="0.00" font-size="59.60" textLength="16.73" lengthAdjust="spacingAndGlyphs" stroke="#262626" stroke-width="0.30" stroke-linejoin="round">)</tspan></text>
</g>
</svg>
</body></html>
